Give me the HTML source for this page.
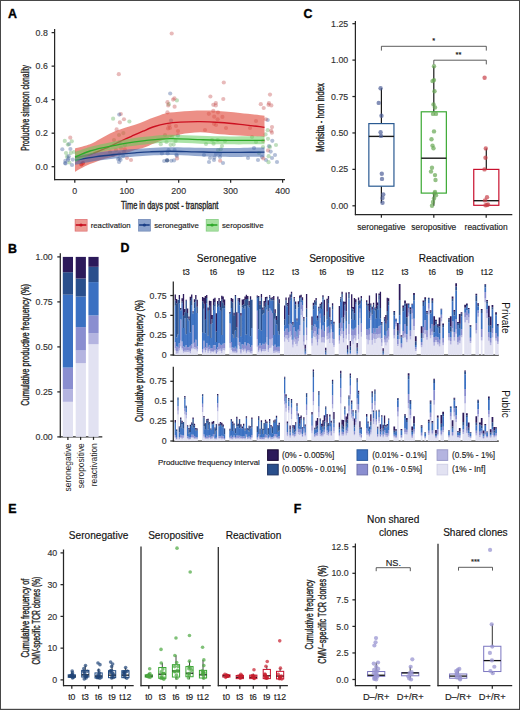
<!DOCTYPE html>
<html><head><meta charset="utf-8"><style>
html,body{margin:0;padding:0;background:#fff;overflow:hidden;}
svg{display:block;font-family:"Liberation Sans", sans-serif;}
</style></head><body>
<svg width="520" height="710" viewBox="0 0 520 710">
<rect width="520" height="710" fill="#fff"/>
<text x="7.90" y="18.30" font-size="12.4" font-weight="bold" fill="#000" stroke="#000" stroke-width="0.35">A</text>
<text x="7.90" y="252.50" font-size="12.4" font-weight="bold" fill="#000" stroke="#000" stroke-width="0.35">B</text>
<text x="303.50" y="18.20" font-size="12.4" font-weight="bold" fill="#000" stroke="#000" stroke-width="0.35">C</text>
<text x="120.60" y="252.20" font-size="12.4" font-weight="bold" fill="#000" stroke="#000" stroke-width="0.35">D</text>
<text x="8.20" y="513.30" font-size="12.4" font-weight="bold" fill="#000" stroke="#000" stroke-width="0.35">E</text>
<text x="293.70" y="513.30" font-size="12.4" font-weight="bold" fill="#000" stroke="#000" stroke-width="0.35">F</text>
<circle cx="171.70" cy="33.50" r="2.1" fill="#c24a4a" fill-opacity="0.38"/>
<circle cx="118.80" cy="74.20" r="2.1" fill="#c24a4a" fill-opacity="0.38"/>
<circle cx="170.20" cy="93.50" r="2.1" fill="#3a5a99" fill-opacity="0.38"/>
<circle cx="173.10" cy="99.60" r="2.1" fill="#c24a4a" fill-opacity="0.38"/>
<circle cx="176.90" cy="100.40" r="2.1" fill="#5aaa55" fill-opacity="0.38"/>
<circle cx="168.80" cy="104.20" r="2.1" fill="#5aaa55" fill-opacity="0.38"/>
<circle cx="174.60" cy="106.70" r="2.1" fill="#c24a4a" fill-opacity="0.38"/>
<circle cx="120.80" cy="114.00" r="2.1" fill="#c24a4a" fill-opacity="0.38"/>
<circle cx="113.10" cy="118.70" r="2.1" fill="#5aaa55" fill-opacity="0.38"/>
<circle cx="129.40" cy="121.50" r="2.1" fill="#5aaa55" fill-opacity="0.38"/>
<circle cx="223.80" cy="82.50" r="2.1" fill="#c24a4a" fill-opacity="0.38"/>
<circle cx="210.40" cy="96.50" r="2.1" fill="#c24a4a" fill-opacity="0.38"/>
<circle cx="223.30" cy="99.00" r="2.1" fill="#c24a4a" fill-opacity="0.38"/>
<circle cx="213.30" cy="104.80" r="2.1" fill="#c24a4a" fill-opacity="0.38"/>
<circle cx="270.00" cy="94.60" r="2.1" fill="#c24a4a" fill-opacity="0.38"/>
<circle cx="260.80" cy="104.20" r="2.1" fill="#c24a4a" fill-opacity="0.38"/>
<circle cx="263.70" cy="108.00" r="2.1" fill="#c24a4a" fill-opacity="0.38"/>
<circle cx="268.50" cy="104.80" r="2.1" fill="#c24a4a" fill-opacity="0.38"/>
<circle cx="267.70" cy="120.00" r="2.1" fill="#3a5a99" fill-opacity="0.38"/>
<circle cx="208.80" cy="113.80" r="2.1" fill="#c24a4a" fill-opacity="0.38"/>
<circle cx="214.20" cy="116.70" r="2.1" fill="#c24a4a" fill-opacity="0.38"/>
<circle cx="218.00" cy="112.30" r="2.1" fill="#c24a4a" fill-opacity="0.38"/>
<circle cx="267.70" cy="130.20" r="2.1" fill="#5aaa55" fill-opacity="0.38"/>
<circle cx="271.90" cy="132.70" r="2.1" fill="#c24a4a" fill-opacity="0.38"/>
<circle cx="268.00" cy="138.80" r="2.1" fill="#5aaa55" fill-opacity="0.38"/>
<circle cx="272.30" cy="140.80" r="2.1" fill="#3a5a99" fill-opacity="0.38"/>
<circle cx="269.00" cy="146.20" r="2.1" fill="#3a5a99" fill-opacity="0.38"/>
<circle cx="268.00" cy="150.40" r="2.1" fill="#c24a4a" fill-opacity="0.38"/>
<circle cx="272.00" cy="158.00" r="2.1" fill="#3a5a99" fill-opacity="0.38"/>
<circle cx="275.00" cy="155.00" r="2.1" fill="#3a5a99" fill-opacity="0.38"/>
<circle cx="262.00" cy="157.00" r="2.1" fill="#3a5a99" fill-opacity="0.38"/>
<circle cx="266.00" cy="160.00" r="2.1" fill="#3a5a99" fill-opacity="0.38"/>
<circle cx="277.00" cy="162.00" r="2.1" fill="#3a5a99" fill-opacity="0.38"/>
<circle cx="259.00" cy="153.00" r="2.1" fill="#5aaa55" fill-opacity="0.38"/>
<circle cx="263.00" cy="147.00" r="2.1" fill="#5aaa55" fill-opacity="0.38"/>
<circle cx="276.00" cy="145.00" r="2.1" fill="#5aaa55" fill-opacity="0.38"/>
<circle cx="167.10" cy="160.40" r="2.1" fill="#1d3a70" fill-opacity="0.7"/>
<circle cx="174.00" cy="160.40" r="2.1" fill="#3a5a99" fill-opacity="0.38"/>
<circle cx="164.20" cy="161.00" r="2.1" fill="#3a5a99" fill-opacity="0.38"/>
<circle cx="161.90" cy="153.50" r="2.1" fill="#3a5a99" fill-opacity="0.38"/>
<circle cx="167.70" cy="153.50" r="2.1" fill="#3a5a99" fill-opacity="0.38"/>
<circle cx="174.60" cy="150.00" r="2.1" fill="#3a5a99" fill-opacity="0.38"/>
<circle cx="176.90" cy="155.80" r="2.1" fill="#3a5a99" fill-opacity="0.38"/>
<circle cx="166.50" cy="142.00" r="2.1" fill="#5aaa55" fill-opacity="0.38"/>
<circle cx="170.60" cy="144.80" r="2.1" fill="#5aaa55" fill-opacity="0.38"/>
<circle cx="160.80" cy="144.20" r="2.1" fill="#5aaa55" fill-opacity="0.38"/>
<circle cx="172.00" cy="137.00" r="2.1" fill="#5aaa55" fill-opacity="0.38"/>
<circle cx="165.00" cy="135.00" r="2.1" fill="#5aaa55" fill-opacity="0.38"/>
<circle cx="178.00" cy="131.00" r="2.1" fill="#c24a4a" fill-opacity="0.38"/>
<circle cx="170.00" cy="128.00" r="2.1" fill="#c24a4a" fill-opacity="0.38"/>
<circle cx="176.00" cy="126.00" r="2.1" fill="#c24a4a" fill-opacity="0.38"/>
<circle cx="69.00" cy="144.20" r="2.1" fill="#3a5a99" fill-opacity="0.38"/>
<circle cx="71.80" cy="141.30" r="2.1" fill="#5aaa55" fill-opacity="0.38"/>
<circle cx="70.40" cy="149.00" r="2.1" fill="#3a5a99" fill-opacity="0.38"/>
<circle cx="67.00" cy="156.70" r="2.1" fill="#5aaa55" fill-opacity="0.38"/>
<circle cx="65.60" cy="163.50" r="2.1" fill="#3a5a99" fill-opacity="0.38"/>
<circle cx="69.40" cy="162.50" r="2.1" fill="#5aaa55" fill-opacity="0.38"/>
<circle cx="72.80" cy="159.60" r="2.1" fill="#3a5a99" fill-opacity="0.38"/>
<circle cx="74.00" cy="152.00" r="2.1" fill="#5aaa55" fill-opacity="0.38"/>
<circle cx="66.00" cy="153.00" r="2.1" fill="#5aaa55" fill-opacity="0.38"/>
<circle cx="72.00" cy="165.00" r="2.1" fill="#3a5a99" fill-opacity="0.38"/>
<circle cx="68.00" cy="160.00" r="2.1" fill="#3a5a99" fill-opacity="0.38"/>
<circle cx="81.40" cy="164.40" r="2.1" fill="#d0101c" fill-opacity="0.7"/>
<circle cx="83.00" cy="163.00" r="2.1" fill="#d0101c" fill-opacity="0.7"/>
<circle cx="78.00" cy="160.00" r="2.1" fill="#c24a4a" fill-opacity="0.38"/>
<circle cx="113.00" cy="155.00" r="2.1" fill="#3a5a99" fill-opacity="0.38"/>
<circle cx="118.00" cy="159.00" r="2.1" fill="#3a5a99" fill-opacity="0.38"/>
<circle cx="116.00" cy="150.00" r="2.1" fill="#5aaa55" fill-opacity="0.38"/>
<circle cx="121.00" cy="148.00" r="2.1" fill="#5aaa55" fill-opacity="0.38"/>
<circle cx="124.00" cy="152.00" r="2.1" fill="#3a5a99" fill-opacity="0.38"/>
<circle cx="127.00" cy="158.00" r="2.1" fill="#c24a4a" fill-opacity="0.38"/>
<circle cx="131.00" cy="160.00" r="2.1" fill="#c24a4a" fill-opacity="0.38"/>
<circle cx="119.00" cy="162.00" r="2.1" fill="#3a5a99" fill-opacity="0.38"/>
<circle cx="110.00" cy="152.00" r="2.1" fill="#5aaa55" fill-opacity="0.38"/>
<circle cx="125.00" cy="145.00" r="2.1" fill="#5aaa55" fill-opacity="0.38"/>
<circle cx="119.00" cy="135.00" r="2.1" fill="#5aaa55" fill-opacity="0.38"/>
<circle cx="114.00" cy="140.00" r="2.1" fill="#5aaa55" fill-opacity="0.38"/>
<circle cx="204.00" cy="155.00" r="2.1" fill="#3a5a99" fill-opacity="0.38"/>
<circle cx="210.00" cy="158.00" r="2.1" fill="#3a5a99" fill-opacity="0.38"/>
<circle cx="214.00" cy="160.00" r="2.1" fill="#3a5a99" fill-opacity="0.38"/>
<circle cx="220.00" cy="157.00" r="2.1" fill="#3a5a99" fill-opacity="0.38"/>
<circle cx="218.00" cy="150.00" r="2.1" fill="#5aaa55" fill-opacity="0.38"/>
<circle cx="222.00" cy="146.00" r="2.1" fill="#5aaa55" fill-opacity="0.38"/>
<circle cx="206.00" cy="144.00" r="2.1" fill="#5aaa55" fill-opacity="0.38"/>
<circle cx="212.00" cy="140.00" r="2.1" fill="#5aaa55" fill-opacity="0.38"/>
<circle cx="225.00" cy="141.00" r="2.1" fill="#5aaa55" fill-opacity="0.38"/>
<circle cx="216.00" cy="125.00" r="2.1" fill="#c24a4a" fill-opacity="0.38"/>
<circle cx="205.00" cy="130.00" r="2.1" fill="#c24a4a" fill-opacity="0.38"/>
<circle cx="226.00" cy="128.00" r="2.1" fill="#c24a4a" fill-opacity="0.38"/>
<circle cx="209.00" cy="162.00" r="2.1" fill="#3a5a99" fill-opacity="0.38"/>
<circle cx="223.00" cy="163.00" r="2.1" fill="#3a5a99" fill-opacity="0.38"/>
<circle cx="216.00" cy="154.00" r="2.1" fill="#3a5a99" fill-opacity="0.38"/>
<circle cx="254.00" cy="148.00" r="2.1" fill="#3a5a99" fill-opacity="0.38"/>
<circle cx="258.00" cy="160.00" r="2.1" fill="#3a5a99" fill-opacity="0.38"/>
<circle cx="248.00" cy="158.00" r="2.1" fill="#3a5a99" fill-opacity="0.38"/>
<circle cx="252.00" cy="137.00" r="2.1" fill="#5aaa55" fill-opacity="0.38"/>
<circle cx="256.00" cy="142.00" r="2.1" fill="#5aaa55" fill-opacity="0.38"/>
<circle cx="250.00" cy="128.00" r="2.1" fill="#c24a4a" fill-opacity="0.38"/>
<circle cx="256.00" cy="121.00" r="2.1" fill="#c24a4a" fill-opacity="0.38"/>
<circle cx="119.24" cy="114.61" r="2.1" fill="#3a5a99" fill-opacity="0.38"/>
<circle cx="123.96" cy="119.23" r="2.1" fill="#c24a4a" fill-opacity="0.38"/>
<circle cx="119.87" cy="122.46" r="2.1" fill="#c24a4a" fill-opacity="0.38"/>
<circle cx="116.65" cy="129.38" r="2.1" fill="#c24a4a" fill-opacity="0.38"/>
<circle cx="123.35" cy="133.08" r="2.1" fill="#5aaa55" fill-opacity="0.38"/>
<circle cx="119.36" cy="142.31" r="2.1" fill="#3a5a99" fill-opacity="0.38"/>
<circle cx="124.82" cy="149.23" r="2.1" fill="#c24a4a" fill-opacity="0.38"/>
<circle cx="119.45" cy="153.84" r="2.1" fill="#3a5a99" fill-opacity="0.38"/>
<circle cx="123.15" cy="156.15" r="2.1" fill="#3a5a99" fill-opacity="0.38"/>
<circle cx="119.51" cy="158.46" r="2.1" fill="#3a5a99" fill-opacity="0.38"/>
<circle cx="120.60" cy="159.84" r="2.1" fill="#3a5a99" fill-opacity="0.38"/>
<circle cx="174.42" cy="98.46" r="2.1" fill="#c24a4a" fill-opacity="0.38"/>
<circle cx="167.49" cy="102.15" r="2.1" fill="#c24a4a" fill-opacity="0.38"/>
<circle cx="168.21" cy="105.38" r="2.1" fill="#c24a4a" fill-opacity="0.38"/>
<circle cx="167.45" cy="112.31" r="2.1" fill="#c24a4a" fill-opacity="0.38"/>
<circle cx="171.03" cy="120.61" r="2.1" fill="#3a5a99" fill-opacity="0.38"/>
<circle cx="169.30" cy="125.23" r="2.1" fill="#c24a4a" fill-opacity="0.38"/>
<circle cx="168.06" cy="128.46" r="2.1" fill="#c24a4a" fill-opacity="0.38"/>
<circle cx="177.96" cy="135.38" r="2.1" fill="#3a5a99" fill-opacity="0.38"/>
<circle cx="175.59" cy="140.92" r="2.1" fill="#5aaa55" fill-opacity="0.38"/>
<circle cx="173.66" cy="144.61" r="2.1" fill="#5aaa55" fill-opacity="0.38"/>
<circle cx="168.59" cy="150.15" r="2.1" fill="#3a5a99" fill-opacity="0.38"/>
<circle cx="176.39" cy="154.77" r="2.1" fill="#3a5a99" fill-opacity="0.38"/>
<circle cx="177.06" cy="158.46" r="2.1" fill="#c24a4a" fill-opacity="0.38"/>
<circle cx="171.27" cy="160.77" r="2.1" fill="#3a5a99" fill-opacity="0.38"/>
<circle cx="215.81" cy="103.08" r="2.1" fill="#c24a4a" fill-opacity="0.38"/>
<circle cx="215.82" cy="105.38" r="2.1" fill="#c24a4a" fill-opacity="0.38"/>
<circle cx="213.30" cy="110.92" r="2.1" fill="#c24a4a" fill-opacity="0.38"/>
<circle cx="222.42" cy="116.92" r="2.1" fill="#c24a4a" fill-opacity="0.38"/>
<circle cx="217.63" cy="119.23" r="2.1" fill="#c24a4a" fill-opacity="0.38"/>
<circle cx="214.00" cy="123.84" r="2.1" fill="#c24a4a" fill-opacity="0.38"/>
<circle cx="217.70" cy="140.00" r="2.1" fill="#5aaa55" fill-opacity="0.38"/>
<circle cx="213.54" cy="143.69" r="2.1" fill="#5aaa55" fill-opacity="0.38"/>
<circle cx="220.77" cy="149.23" r="2.1" fill="#5aaa55" fill-opacity="0.38"/>
<circle cx="219.97" cy="153.84" r="2.1" fill="#3a5a99" fill-opacity="0.38"/>
<circle cx="214.26" cy="157.54" r="2.1" fill="#3a5a99" fill-opacity="0.38"/>
<circle cx="220.14" cy="160.77" r="2.1" fill="#c24a4a" fill-opacity="0.38"/>
<circle cx="268.95" cy="103.08" r="2.1" fill="#c24a4a" fill-opacity="0.38"/>
<circle cx="271.34" cy="105.38" r="2.1" fill="#c24a4a" fill-opacity="0.38"/>
<circle cx="265.89" cy="119.23" r="2.1" fill="#c24a4a" fill-opacity="0.38"/>
<circle cx="272.03" cy="127.08" r="2.1" fill="#c24a4a" fill-opacity="0.38"/>
<circle cx="271.16" cy="130.77" r="2.1" fill="#c24a4a" fill-opacity="0.38"/>
<circle cx="265.54" cy="134.46" r="2.1" fill="#5aaa55" fill-opacity="0.38"/>
<circle cx="263.18" cy="140.92" r="2.1" fill="#c24a4a" fill-opacity="0.38"/>
<circle cx="269.95" cy="146.92" r="2.1" fill="#5aaa55" fill-opacity="0.38"/>
<circle cx="270.65" cy="151.54" r="2.1" fill="#3a5a99" fill-opacity="0.38"/>
<circle cx="268.67" cy="156.15" r="2.1" fill="#5aaa55" fill-opacity="0.38"/>
<circle cx="263.27" cy="158.46" r="2.1" fill="#c24a4a" fill-opacity="0.38"/>
<circle cx="268.53" cy="162.15" r="2.1" fill="#5aaa55" fill-opacity="0.38"/>
<circle cx="70.26" cy="137.69" r="2.1" fill="#c24a4a" fill-opacity="0.38"/>
<circle cx="64.79" cy="140.92" r="2.1" fill="#5aaa55" fill-opacity="0.38"/>
<circle cx="67.82" cy="144.61" r="2.1" fill="#5aaa55" fill-opacity="0.38"/>
<circle cx="62.31" cy="149.23" r="2.1" fill="#3a5a99" fill-opacity="0.38"/>
<circle cx="70.81" cy="152.92" r="2.1" fill="#5aaa55" fill-opacity="0.38"/>
<circle cx="68.66" cy="156.15" r="2.1" fill="#3a5a99" fill-opacity="0.38"/>
<circle cx="68.44" cy="158.46" r="2.1" fill="#3a5a99" fill-opacity="0.38"/>
<circle cx="65.41" cy="160.77" r="2.1" fill="#3a5a99" fill-opacity="0.38"/>
<circle cx="65.06" cy="163.07" r="2.1" fill="#3a5a99" fill-opacity="0.38"/>
<path d="M75.00,148.40 C77.50,147.72 85.83,145.87 90.00,144.30 C94.17,142.73 96.67,140.80 100.00,139.00 C103.33,137.20 106.67,135.08 110.00,133.50 C113.33,131.92 116.67,130.72 120.00,129.50 C123.33,128.28 126.67,127.28 130.00,126.20 C133.33,125.12 136.67,124.23 140.00,123.00 C143.33,121.77 146.67,120.10 150.00,118.80 C153.33,117.50 156.67,116.23 160.00,115.20 C163.33,114.17 165.00,113.32 170.00,112.60 C175.00,111.88 182.50,111.20 190.00,110.90 C197.50,110.60 206.67,110.45 215.00,110.80 C223.33,111.15 231.75,112.18 240.00,113.00 C248.25,113.82 260.42,115.25 264.50,115.70 L264.50,137.00 C260.42,136.75 247.42,135.97 240.00,135.50 C232.58,135.03 226.67,134.73 220.00,134.20 C213.33,133.67 206.67,132.23 200.00,132.30 C193.33,132.37 186.67,133.15 180.00,134.60 C173.33,136.05 165.83,138.90 160.00,141.00 C154.17,143.10 149.17,145.70 145.00,147.20 C140.83,148.70 138.33,148.95 135.00,150.00 C131.67,151.05 128.33,152.47 125.00,153.50 C121.67,154.53 118.33,155.32 115.00,156.20 C111.67,157.08 108.33,157.80 105.00,158.80 C101.67,159.80 98.33,160.97 95.00,162.20 C91.67,163.43 88.33,164.60 85.00,166.20 C81.67,167.80 76.67,170.87 75.00,171.80 Z" fill="#e04a3c" fill-opacity="0.62"/>
<path d="M75.00,157.70 C77.50,157.17 85.00,156.03 90.00,154.50 C95.00,152.97 100.00,150.67 105.00,148.50 C110.00,146.33 115.58,143.53 120.00,141.50 C124.42,139.47 127.67,138.02 131.50,136.30 C135.33,134.58 139.15,132.83 143.00,131.20 C146.85,129.57 150.73,127.75 154.60,126.50 C158.47,125.25 161.97,124.42 166.20,123.70 C170.43,122.98 174.37,122.53 180.00,122.20 C185.63,121.87 193.33,121.65 200.00,121.70 C206.67,121.75 213.33,122.07 220.00,122.50 C226.67,122.93 232.58,123.50 240.00,124.30 C247.42,125.10 260.42,126.80 264.50,127.30" fill="none" stroke="#cc1020" stroke-width="1.35"/>
<path d="M75.00,155.60 C78.33,155.11 88.33,153.52 95.00,152.68 C101.67,151.84 108.33,151.20 115.00,150.59 C121.67,149.98 129.17,149.43 135.00,149.01 C140.83,148.60 144.17,148.39 150.00,148.10 C155.83,147.82 162.50,147.38 170.00,147.30 C177.50,147.22 186.67,147.53 195.00,147.65 C203.33,147.77 212.50,148.00 220.00,148.04 C227.50,148.08 232.58,148.00 240.00,147.89 C247.42,147.78 260.42,147.48 264.50,147.40 L264.50,156.80 C260.42,156.82 247.42,156.92 240.00,156.91 C232.58,156.90 227.50,156.92 220.00,156.76 C212.50,156.60 203.33,156.23 195.00,155.95 C186.67,155.67 177.50,155.18 170.00,155.10 C162.50,155.02 155.83,155.25 150.00,155.50 C144.17,155.75 140.83,156.11 135.00,156.59 C129.17,157.07 121.67,157.69 115.00,158.41 C108.33,159.13 101.67,159.86 95.00,160.92 C88.33,161.99 78.33,164.15 75.00,164.80 Z" fill="#3d62aa" fill-opacity="0.55"/>
<path d="M75.00,160.20 C78.33,159.63 88.33,157.75 95.00,156.80 C101.67,155.85 108.33,155.17 115.00,154.50 C121.67,153.83 129.17,153.25 135.00,152.80 C140.83,152.35 144.17,152.07 150.00,151.80 C155.83,151.53 162.50,151.20 170.00,151.20 C177.50,151.20 186.67,151.60 195.00,151.80 C203.33,152.00 212.50,152.30 220.00,152.40 C227.50,152.50 232.58,152.45 240.00,152.40 C247.42,152.35 260.42,152.15 264.50,152.10" fill="none" stroke="#1b3f86" stroke-width="1.35"/>
<path d="M75.00,152.00 C77.50,151.17 85.00,148.40 90.00,147.00 C95.00,145.60 99.17,144.84 105.00,143.60 C110.83,142.36 118.33,140.73 125.00,139.59 C131.67,138.44 137.50,137.55 145.00,136.74 C152.50,135.92 160.83,134.85 170.00,134.68 C179.17,134.52 190.00,135.47 200.00,135.76 C210.00,136.05 219.25,136.34 230.00,136.43 C240.75,136.52 258.75,136.32 264.50,136.30 L264.50,144.30 C258.75,144.31 240.75,144.48 230.00,144.37 C219.25,144.26 210.00,143.95 200.00,143.64 C190.00,143.33 179.17,142.38 170.00,142.52 C160.83,142.65 152.50,143.71 145.00,144.46 C137.50,145.21 131.67,145.92 125.00,147.01 C118.33,148.10 110.83,149.67 105.00,151.00 C99.17,152.33 95.00,153.17 90.00,155.00 C85.00,156.83 77.50,160.83 75.00,162.00 Z" fill="#66cc5c" fill-opacity="0.55"/>
<path d="M75.00,157.00 C77.50,156.00 85.00,152.62 90.00,151.00 C95.00,149.38 99.17,148.58 105.00,147.30 C110.83,146.02 118.33,144.42 125.00,143.30 C131.67,142.18 137.50,141.38 145.00,140.60 C152.50,139.82 160.83,138.75 170.00,138.60 C179.17,138.45 190.00,139.40 200.00,139.70 C210.00,140.00 219.25,140.30 230.00,140.40 C240.75,140.50 258.75,140.32 264.50,140.30" fill="none" stroke="#2eaa2a" stroke-width="1.35"/>
<line x1="54.60" y1="29.00" x2="54.60" y2="180.20" stroke="#262626" stroke-width="1.25" />
<line x1="54.10" y1="179.70" x2="285.00" y2="179.70" stroke="#262626" stroke-width="1.25" />
<line x1="51.60" y1="166.70" x2="54.60" y2="166.70" stroke="#262626" stroke-width="1.25" />
<text x="47.80" y="169.80" font-size="8.8" text-anchor="end" fill="#333" font-weight="normal" stroke="#333" stroke-width="0.15" >0.0</text>
<line x1="51.60" y1="133.18" x2="54.60" y2="133.18" stroke="#262626" stroke-width="1.25" />
<text x="47.80" y="136.28" font-size="8.8" text-anchor="end" fill="#333" font-weight="normal" stroke="#333" stroke-width="0.15" >0.2</text>
<line x1="51.60" y1="99.66" x2="54.60" y2="99.66" stroke="#262626" stroke-width="1.25" />
<text x="47.80" y="102.76" font-size="8.8" text-anchor="end" fill="#333" font-weight="normal" stroke="#333" stroke-width="0.15" >0.4</text>
<line x1="51.60" y1="66.14" x2="54.60" y2="66.14" stroke="#262626" stroke-width="1.25" />
<text x="47.80" y="69.24" font-size="8.8" text-anchor="end" fill="#333" font-weight="normal" stroke="#333" stroke-width="0.15" >0.6</text>
<line x1="51.60" y1="32.62" x2="54.60" y2="32.62" stroke="#262626" stroke-width="1.25" />
<text x="47.80" y="35.72" font-size="8.8" text-anchor="end" fill="#333" font-weight="normal" stroke="#333" stroke-width="0.15" >0.8</text>
<line x1="74.80" y1="179.70" x2="74.80" y2="182.70" stroke="#262626" stroke-width="1.25" />
<text x="74.80" y="193.70" font-size="8.8" text-anchor="middle" fill="#333" font-weight="normal" stroke="#333" stroke-width="0.15" >0</text>
<line x1="126.75" y1="179.70" x2="126.75" y2="182.70" stroke="#262626" stroke-width="1.25" />
<text x="126.75" y="193.70" font-size="8.8" text-anchor="middle" fill="#333" font-weight="normal" stroke="#333" stroke-width="0.15" >100</text>
<line x1="178.70" y1="179.70" x2="178.70" y2="182.70" stroke="#262626" stroke-width="1.25" />
<text x="178.70" y="193.70" font-size="8.8" text-anchor="middle" fill="#333" font-weight="normal" stroke="#333" stroke-width="0.15" >200</text>
<line x1="230.65" y1="179.70" x2="230.65" y2="182.70" stroke="#262626" stroke-width="1.25" />
<text x="230.65" y="193.70" font-size="8.8" text-anchor="middle" fill="#333" font-weight="normal" stroke="#333" stroke-width="0.15" >300</text>
<line x1="282.60" y1="179.70" x2="282.60" y2="182.70" stroke="#262626" stroke-width="1.25" />
<text x="282.60" y="193.70" font-size="8.8" text-anchor="middle" fill="#333" font-weight="normal" stroke="#333" stroke-width="0.15" >400</text>
<text x="169.70" y="208.80" font-size="10.30" font-weight="normal" stroke="#262626" stroke-width="0.38" text-anchor="middle" fill="#262626" textLength="97.4" lengthAdjust="spacingAndGlyphs">Time in days post - transplant</text>
<text transform="translate(29.40,107.90) rotate(-90)" x="0" y="0" font-size="10.08" font-weight="normal" stroke="#262626" stroke-width="0.38" text-anchor="middle" fill="#262626" textLength="85.7" lengthAdjust="spacingAndGlyphs">Productive simpson clonality</text>
<rect x="75.00" y="219.30" width="12.20" height="11.90" fill="#e05a4c" stroke="#c8101e" stroke-width="0.6" fill-opacity="0.6" stroke-opacity="0.5"/>
<line x1="75.70" y1="225.00" x2="86.30" y2="225.00" stroke="#c8101e" stroke-width="1.6" />
<circle cx="81.00" cy="225.00" r="1.6" fill="#c8101e" fill-opacity="1.0"/>
<text x="90.70" y="227.80" font-size="7.8" text-anchor="start" fill="#222" font-weight="normal" stroke="#222" stroke-width="0.15" >reactivation</text>
<rect x="138.40" y="219.30" width="12.20" height="11.90" fill="#3f66aa" stroke="#1b3f86" stroke-width="0.6" fill-opacity="0.6" stroke-opacity="0.5"/>
<line x1="139.10" y1="225.00" x2="149.70" y2="225.00" stroke="#1b3f86" stroke-width="1.6" />
<circle cx="144.40" cy="225.00" r="1.6" fill="#1b3f86" fill-opacity="1.0"/>
<text x="154.20" y="227.80" font-size="7.8" text-anchor="start" fill="#222" font-weight="normal" stroke="#222" stroke-width="0.15" >seronegative</text>
<rect x="206.10" y="219.30" width="12.20" height="11.90" fill="#6ccc62" stroke="#2ea82a" stroke-width="0.6" fill-opacity="0.6" stroke-opacity="0.5"/>
<line x1="206.80" y1="225.00" x2="217.40" y2="225.00" stroke="#2ea82a" stroke-width="1.6" />
<circle cx="212.10" cy="225.00" r="1.6" fill="#2ea82a" fill-opacity="1.0"/>
<text x="221.90" y="227.80" font-size="7.8" text-anchor="start" fill="#222" font-weight="normal" stroke="#222" stroke-width="0.15" >seropositive</text>
<line x1="355.40" y1="21.00" x2="355.40" y2="215.20" stroke="#262626" stroke-width="1.25" />
<line x1="354.90" y1="214.70" x2="512.30" y2="214.70" stroke="#262626" stroke-width="1.25" />
<line x1="352.40" y1="205.80" x2="355.40" y2="205.80" stroke="#262626" stroke-width="1.25" />
<text x="348.20" y="208.90" font-size="8.8" text-anchor="end" fill="#333" font-weight="normal" stroke="#333" stroke-width="0.15" >0.00</text>
<line x1="352.40" y1="169.38" x2="355.40" y2="169.38" stroke="#262626" stroke-width="1.25" />
<text x="348.20" y="172.47" font-size="8.8" text-anchor="end" fill="#333" font-weight="normal" stroke="#333" stroke-width="0.15" >0.25</text>
<line x1="352.40" y1="132.95" x2="355.40" y2="132.95" stroke="#262626" stroke-width="1.25" />
<text x="348.20" y="136.05" font-size="8.8" text-anchor="end" fill="#333" font-weight="normal" stroke="#333" stroke-width="0.15" >0.50</text>
<line x1="352.40" y1="96.53" x2="355.40" y2="96.53" stroke="#262626" stroke-width="1.25" />
<text x="348.20" y="99.63" font-size="8.8" text-anchor="end" fill="#333" font-weight="normal" stroke="#333" stroke-width="0.15" >0.75</text>
<line x1="352.40" y1="60.10" x2="355.40" y2="60.10" stroke="#262626" stroke-width="1.25" />
<text x="348.20" y="63.20" font-size="8.8" text-anchor="end" fill="#333" font-weight="normal" stroke="#333" stroke-width="0.15" >1.00</text>
<line x1="352.40" y1="23.68" x2="355.40" y2="23.68" stroke="#262626" stroke-width="1.25" />
<text x="348.20" y="26.78" font-size="8.8" text-anchor="end" fill="#333" font-weight="normal" stroke="#333" stroke-width="0.15" >1.25</text>
<line x1="381.40" y1="214.70" x2="381.40" y2="217.70" stroke="#262626" stroke-width="1.25" />
<text x="381.40" y="229.80" font-size="8.45" text-anchor="middle" fill="#222" font-weight="normal" stroke="#222" stroke-width="0.15" >seronegative</text>
<line x1="433.80" y1="214.70" x2="433.80" y2="217.70" stroke="#262626" stroke-width="1.25" />
<text x="433.80" y="229.80" font-size="8.45" text-anchor="middle" fill="#222" font-weight="normal" stroke="#222" stroke-width="0.15" >seropositive</text>
<line x1="486.20" y1="214.70" x2="486.20" y2="217.70" stroke="#262626" stroke-width="1.25" />
<text x="486.20" y="229.80" font-size="8.45" text-anchor="middle" fill="#222" font-weight="normal" stroke="#222" stroke-width="0.15" >reactivation</text>
<text transform="translate(324.40,117.50) rotate(-90)" x="0" y="0" font-size="10.08" font-weight="normal" stroke="#262626" stroke-width="0.38" text-anchor="middle" fill="#262626" textLength="68.4" lengthAdjust="spacingAndGlyphs">Morisita - horn index</text>
<line x1="381.40" y1="123.60" x2="381.40" y2="88.20" stroke="#1a1a1a" stroke-width="1.2" />
<line x1="381.40" y1="186.20" x2="381.40" y2="202.70" stroke="#1a1a1a" stroke-width="1.2" />
<rect x="368.85" y="123.60" width="25.10" height="62.60" fill="white" stroke="#2a5a92" stroke-width="1.2" />
<line x1="368.85" y1="136.40" x2="393.95" y2="136.40" stroke="#1a1a1a" stroke-width="1.4" />
<line x1="433.80" y1="111.80" x2="433.80" y2="66.30" stroke="#1a1a1a" stroke-width="1.2" />
<line x1="433.80" y1="193.10" x2="433.80" y2="205.80" stroke="#1a1a1a" stroke-width="1.2" />
<rect x="421.25" y="111.80" width="25.10" height="81.30" fill="white" stroke="#3aa832" stroke-width="1.2" />
<line x1="421.25" y1="158.20" x2="446.35" y2="158.20" stroke="#1a1a1a" stroke-width="1.4" />
<line x1="486.30" y1="169.40" x2="486.30" y2="148.40" stroke="#1a1a1a" stroke-width="1.2" />
<line x1="486.30" y1="205.30" x2="486.30" y2="205.80" stroke="#1a1a1a" stroke-width="1.2" />
<rect x="473.75" y="169.40" width="25.10" height="35.90" fill="white" stroke="#c8102e" stroke-width="1.2" />
<line x1="473.75" y1="200.70" x2="498.85" y2="200.70" stroke="#1a1a1a" stroke-width="1.4" />
<circle cx="380.60" cy="88.20" r="2.2" fill="#4f5f98" fill-opacity="0.7"/>
<circle cx="378.70" cy="102.90" r="2.2" fill="#4f5f98" fill-opacity="0.7"/>
<circle cx="381.50" cy="115.70" r="2.2" fill="#4f5f98" fill-opacity="0.7"/>
<circle cx="380.60" cy="132.20" r="2.2" fill="#4f5f98" fill-opacity="0.7"/>
<circle cx="381.00" cy="135.90" r="2.2" fill="#4f5f98" fill-opacity="0.7"/>
<circle cx="381.80" cy="173.80" r="2.2" fill="#4f5f98" fill-opacity="0.7"/>
<circle cx="382.00" cy="178.90" r="2.2" fill="#4f5f98" fill-opacity="0.7"/>
<circle cx="383.30" cy="194.50" r="2.2" fill="#4f5f98" fill-opacity="0.7"/>
<circle cx="382.50" cy="198.10" r="2.2" fill="#4f5f98" fill-opacity="0.7"/>
<circle cx="382.50" cy="202.70" r="2.2" fill="#4f5f98" fill-opacity="0.7"/>
<circle cx="434.00" cy="66.30" r="2.2" fill="#66a653" fill-opacity="0.7"/>
<circle cx="434.00" cy="80.10" r="2.2" fill="#66a653" fill-opacity="0.7"/>
<circle cx="432.50" cy="81.10" r="2.2" fill="#66a653" fill-opacity="0.7"/>
<circle cx="434.50" cy="91.30" r="2.2" fill="#66a653" fill-opacity="0.7"/>
<circle cx="433.50" cy="104.40" r="2.2" fill="#66a653" fill-opacity="0.7"/>
<circle cx="435.00" cy="107.50" r="2.2" fill="#66a653" fill-opacity="0.7"/>
<circle cx="433.00" cy="113.90" r="2.2" fill="#66a653" fill-opacity="0.7"/>
<circle cx="436.00" cy="113.90" r="2.2" fill="#66a653" fill-opacity="0.7"/>
<circle cx="434.00" cy="131.40" r="2.2" fill="#66a653" fill-opacity="0.7"/>
<circle cx="431.50" cy="139.20" r="2.2" fill="#66a653" fill-opacity="0.7"/>
<circle cx="432.50" cy="145.60" r="2.2" fill="#66a653" fill-opacity="0.7"/>
<circle cx="433.50" cy="148.30" r="2.2" fill="#66a653" fill-opacity="0.7"/>
<circle cx="432.00" cy="167.80" r="2.2" fill="#66a653" fill-opacity="0.7"/>
<circle cx="431.00" cy="171.60" r="2.2" fill="#66a653" fill-opacity="0.7"/>
<circle cx="435.00" cy="175.10" r="2.2" fill="#66a653" fill-opacity="0.7"/>
<circle cx="435.50" cy="180.00" r="2.2" fill="#66a653" fill-opacity="0.7"/>
<circle cx="435.00" cy="192.00" r="2.2" fill="#66a653" fill-opacity="0.7"/>
<circle cx="436.00" cy="195.20" r="2.2" fill="#66a653" fill-opacity="0.7"/>
<circle cx="434.00" cy="198.40" r="2.2" fill="#66a653" fill-opacity="0.7"/>
<circle cx="433.00" cy="202.00" r="2.2" fill="#66a653" fill-opacity="0.7"/>
<circle cx="432.00" cy="205.80" r="2.2" fill="#66a653" fill-opacity="0.7"/>
<circle cx="434.50" cy="193.50" r="2.2" fill="#66a653" fill-opacity="0.7"/>
<circle cx="484.60" cy="77.80" r="2.2" fill="#c84048" fill-opacity="0.7"/>
<circle cx="485.80" cy="148.40" r="2.2" fill="#c84048" fill-opacity="0.7"/>
<circle cx="485.50" cy="157.80" r="2.2" fill="#c84048" fill-opacity="0.7"/>
<circle cx="484.50" cy="169.40" r="2.2" fill="#c84048" fill-opacity="0.7"/>
<circle cx="487.00" cy="197.20" r="2.2" fill="#c84048" fill-opacity="0.7"/>
<circle cx="485.00" cy="200.40" r="2.2" fill="#c84048" fill-opacity="0.7"/>
<circle cx="487.00" cy="205.10" r="2.2" fill="#c84048" fill-opacity="0.7"/>
<circle cx="485.50" cy="205.30" r="2.2" fill="#c84048" fill-opacity="0.7"/>
<circle cx="488.00" cy="204.50" r="2.2" fill="#c84048" fill-opacity="0.7"/>
<line x1="381.40" y1="46.30" x2="486.30" y2="46.30" stroke="#333" stroke-width="0.8" />
<line x1="381.40" y1="46.30" x2="381.40" y2="50.60" stroke="#333" stroke-width="0.8" />
<line x1="486.30" y1="46.30" x2="486.30" y2="50.60" stroke="#333" stroke-width="0.8" />
<line x1="433.80" y1="60.20" x2="486.30" y2="60.20" stroke="#333" stroke-width="0.8" />
<line x1="433.80" y1="60.20" x2="433.80" y2="64.40" stroke="#333" stroke-width="0.8" />
<line x1="486.30" y1="60.20" x2="486.30" y2="64.40" stroke="#333" stroke-width="0.8" />
<text x="433.80" y="43.20" font-size="7.5" text-anchor="middle" fill="#111" font-weight="normal" stroke="#111" stroke-width="0.15" >*</text>
<text x="458.40" y="56.60" font-size="7.5" text-anchor="middle" fill="#111" font-weight="normal" stroke="#111" stroke-width="0.15" >**</text>
<line x1="60.30" y1="253.20" x2="60.30" y2="437.40" stroke="#262626" stroke-width="1.25" />
<line x1="59.80" y1="436.90" x2="102.30" y2="436.90" stroke="#262626" stroke-width="1.25" />
<line x1="57.30" y1="436.90" x2="60.30" y2="436.90" stroke="#262626" stroke-width="1.25" />
<text x="52.70" y="440.00" font-size="8.8" text-anchor="end" fill="#333" font-weight="normal" stroke="#333" stroke-width="0.15" >0.00</text>
<line x1="57.30" y1="391.90" x2="60.30" y2="391.90" stroke="#262626" stroke-width="1.25" />
<text x="52.70" y="395.00" font-size="8.8" text-anchor="end" fill="#333" font-weight="normal" stroke="#333" stroke-width="0.15" >0.25</text>
<line x1="57.30" y1="346.90" x2="60.30" y2="346.90" stroke="#262626" stroke-width="1.25" />
<text x="52.70" y="350.00" font-size="8.8" text-anchor="end" fill="#333" font-weight="normal" stroke="#333" stroke-width="0.15" >0.50</text>
<line x1="57.30" y1="301.90" x2="60.30" y2="301.90" stroke="#262626" stroke-width="1.25" />
<text x="52.70" y="305.00" font-size="8.8" text-anchor="end" fill="#333" font-weight="normal" stroke="#333" stroke-width="0.15" >0.75</text>
<line x1="57.30" y1="256.90" x2="60.30" y2="256.90" stroke="#262626" stroke-width="1.25" />
<text x="52.70" y="260.00" font-size="8.8" text-anchor="end" fill="#333" font-weight="normal" stroke="#333" stroke-width="0.15" >1.00</text>
<rect x="62.80" y="401.80" width="10.20" height="35.10" fill="#e2e2f2" stroke="none" stroke-width="0" />
<rect x="62.80" y="389.20" width="10.20" height="12.60" fill="#b4b4e0" stroke="none" stroke-width="0" />
<rect x="62.80" y="367.60" width="10.20" height="21.60" fill="#8a8ed0" stroke="none" stroke-width="0" />
<rect x="62.80" y="294.70" width="10.20" height="72.90" fill="#3a70c2" stroke="none" stroke-width="0" />
<rect x="62.80" y="272.20" width="10.20" height="22.50" fill="#2a4f8c" stroke="none" stroke-width="0" />
<rect x="62.80" y="256.90" width="10.20" height="15.30" fill="#2c1a5a" stroke="none" stroke-width="0" />
<rect x="75.70" y="363.10" width="10.20" height="73.80" fill="#e2e2f2" stroke="none" stroke-width="0" />
<rect x="75.70" y="350.50" width="10.20" height="12.60" fill="#b4b4e0" stroke="none" stroke-width="0" />
<rect x="75.70" y="327.10" width="10.20" height="23.40" fill="#8a8ed0" stroke="none" stroke-width="0" />
<rect x="75.70" y="296.50" width="10.20" height="30.60" fill="#3a70c2" stroke="none" stroke-width="0" />
<rect x="75.70" y="278.50" width="10.20" height="18.00" fill="#2a4f8c" stroke="none" stroke-width="0" />
<rect x="75.70" y="256.90" width="10.20" height="21.60" fill="#2c1a5a" stroke="none" stroke-width="0" />
<rect x="88.40" y="344.20" width="10.20" height="92.70" fill="#e2e2f2" stroke="none" stroke-width="0" />
<rect x="88.40" y="333.40" width="10.20" height="10.80" fill="#b4b4e0" stroke="none" stroke-width="0" />
<rect x="88.40" y="315.40" width="10.20" height="18.00" fill="#8a8ed0" stroke="none" stroke-width="0" />
<rect x="88.40" y="282.10" width="10.20" height="33.30" fill="#3a70c2" stroke="none" stroke-width="0" />
<rect x="88.40" y="266.80" width="10.20" height="15.30" fill="#2a4f8c" stroke="none" stroke-width="0" />
<rect x="88.40" y="256.90" width="10.20" height="9.90" fill="#2c1a5a" stroke="none" stroke-width="0" />
<line x1="67.90" y1="436.90" x2="67.90" y2="439.90" stroke="#262626" stroke-width="1.25" />
<text transform="translate(70.90,443.2) rotate(-90)" font-size="8.45" text-anchor="end" fill="#222">seronegative</text>
<line x1="80.60" y1="436.90" x2="80.60" y2="439.90" stroke="#262626" stroke-width="1.25" />
<text transform="translate(83.60,443.2) rotate(-90)" font-size="8.45" text-anchor="end" fill="#222">seropositive</text>
<line x1="93.50" y1="436.90" x2="93.50" y2="439.90" stroke="#262626" stroke-width="1.25" />
<text transform="translate(96.50,443.2) rotate(-90)" font-size="8.45" text-anchor="end" fill="#222">reactivation</text>
<text transform="translate(29.20,344.90) rotate(-90)" x="0" y="0" font-size="10.08" font-weight="normal" stroke="#262626" stroke-width="0.38" text-anchor="middle" fill="#262626" textLength="121.7" lengthAdjust="spacingAndGlyphs">Cumulative productive frequency (%)</text>
<line x1="173.30" y1="281.40" x2="173.30" y2="355.50" stroke="#262626" stroke-width="1.25" />
<line x1="172.80" y1="355.00" x2="498.80" y2="355.00" stroke="#262626" stroke-width="1.25" />
<line x1="173.30" y1="366.70" x2="173.30" y2="441.50" stroke="#262626" stroke-width="1.25" />
<line x1="172.80" y1="441.00" x2="498.80" y2="441.00" stroke="#262626" stroke-width="1.25" />
<line x1="170.30" y1="355.00" x2="173.30" y2="355.00" stroke="#262626" stroke-width="1.25" />
<text x="166.70" y="358.10" font-size="8.8" text-anchor="end" fill="#333" font-weight="normal" stroke="#333" stroke-width="0.15" >0</text>
<line x1="170.30" y1="335.18" x2="173.30" y2="335.18" stroke="#262626" stroke-width="1.25" />
<text x="166.70" y="338.28" font-size="8.8" text-anchor="end" fill="#333" font-weight="normal" stroke="#333" stroke-width="0.15" >0.25</text>
<line x1="170.30" y1="315.35" x2="173.30" y2="315.35" stroke="#262626" stroke-width="1.25" />
<text x="166.70" y="318.45" font-size="8.8" text-anchor="end" fill="#333" font-weight="normal" stroke="#333" stroke-width="0.15" >0.5</text>
<line x1="170.30" y1="295.52" x2="173.30" y2="295.52" stroke="#262626" stroke-width="1.25" />
<text x="166.70" y="298.62" font-size="8.8" text-anchor="end" fill="#333" font-weight="normal" stroke="#333" stroke-width="0.15" >0.75</text>
<line x1="170.30" y1="441.00" x2="173.30" y2="441.00" stroke="#262626" stroke-width="1.25" />
<text x="166.70" y="444.10" font-size="8.8" text-anchor="end" fill="#333" font-weight="normal" stroke="#333" stroke-width="0.15" >0</text>
<line x1="170.30" y1="421.10" x2="173.30" y2="421.10" stroke="#262626" stroke-width="1.25" />
<text x="166.70" y="424.20" font-size="8.8" text-anchor="end" fill="#333" font-weight="normal" stroke="#333" stroke-width="0.15" >0.25</text>
<line x1="170.30" y1="401.20" x2="173.30" y2="401.20" stroke="#262626" stroke-width="1.25" />
<text x="166.70" y="404.30" font-size="8.8" text-anchor="end" fill="#333" font-weight="normal" stroke="#333" stroke-width="0.15" >0.5</text>
<line x1="170.30" y1="381.30" x2="173.30" y2="381.30" stroke="#262626" stroke-width="1.25" />
<text x="166.70" y="384.40" font-size="8.8" text-anchor="end" fill="#333" font-weight="normal" stroke="#333" stroke-width="0.15" >0.75</text>
<text transform="translate(142.60,361.00) rotate(-90)" x="0" y="0" font-size="10.08" font-weight="normal" stroke="#262626" stroke-width="0.38" text-anchor="middle" fill="#262626" textLength="122" lengthAdjust="spacingAndGlyphs">Cumulative productive frequency (%)</text>
<text x="226.60" y="261.80" font-size="10.1" text-anchor="middle" fill="#111" font-weight="normal" stroke="#111" stroke-width="0.15" >Seronegative</text>
<text x="336.90" y="261.80" font-size="10.1" text-anchor="middle" fill="#111" font-weight="normal" stroke="#111" stroke-width="0.15" >Seropositive</text>
<text x="446.40" y="261.80" font-size="10.1" text-anchor="middle" fill="#111" font-weight="normal" stroke="#111" stroke-width="0.15" >Reactivation</text>
<text x="186.25" y="275.30" font-size="8.6" text-anchor="middle" fill="#222" font-weight="normal" stroke="#222" stroke-width="0.15" >t3</text>
<text x="213.60" y="275.30" font-size="8.6" text-anchor="middle" fill="#222" font-weight="normal" stroke="#222" stroke-width="0.15" >t6</text>
<text x="240.95" y="275.30" font-size="8.6" text-anchor="middle" fill="#222" font-weight="normal" stroke="#222" stroke-width="0.15" >t9</text>
<text x="268.30" y="275.30" font-size="8.6" text-anchor="middle" fill="#222" font-weight="normal" stroke="#222" stroke-width="0.15" >t12</text>
<text x="295.65" y="275.30" font-size="8.6" text-anchor="middle" fill="#222" font-weight="normal" stroke="#222" stroke-width="0.15" >t3</text>
<text x="323.00" y="275.30" font-size="8.6" text-anchor="middle" fill="#222" font-weight="normal" stroke="#222" stroke-width="0.15" >t6</text>
<text x="350.35" y="275.30" font-size="8.6" text-anchor="middle" fill="#222" font-weight="normal" stroke="#222" stroke-width="0.15" >t9</text>
<text x="377.70" y="275.30" font-size="8.6" text-anchor="middle" fill="#222" font-weight="normal" stroke="#222" stroke-width="0.15" >t12</text>
<text x="405.05" y="275.30" font-size="8.6" text-anchor="middle" fill="#222" font-weight="normal" stroke="#222" stroke-width="0.15" >t3</text>
<text x="432.40" y="275.30" font-size="8.6" text-anchor="middle" fill="#222" font-weight="normal" stroke="#222" stroke-width="0.15" >t6</text>
<text x="459.75" y="275.30" font-size="8.6" text-anchor="middle" fill="#222" font-weight="normal" stroke="#222" stroke-width="0.15" >t9</text>
<text x="487.10" y="275.30" font-size="8.6" text-anchor="middle" fill="#222" font-weight="normal" stroke="#222" stroke-width="0.15" >t12</text>
<text transform="translate(502.2,318.0) rotate(90)" font-size="10.1" text-anchor="middle" fill="#111">Private</text>
<text transform="translate(502.2,404.0) rotate(90)" font-size="10.1" text-anchor="middle" fill="#111">Public</text>
<path fill="#e2e2f2" d="M174.60 350.39h1.33v4.61h-1.33zM175.97 353.70h1.33v1.30h-1.33zM177.34 353.56h1.33v1.44h-1.33zM178.71 350.53h1.33v4.47h-1.33zM180.08 346.44h1.33v8.56h-1.33zM181.45 349.80h1.33v5.20h-1.33zM182.82 352.79h1.33v2.21h-1.33zM184.19 352.29h1.33v2.71h-1.33zM185.56 352.26h1.33v2.74h-1.33zM186.94 352.11h1.33v2.89h-1.33zM188.31 352.35h1.33v2.65h-1.33zM189.68 353.16h1.33v1.84h-1.33zM191.05 349.60h1.33v5.40h-1.33zM192.42 348.43h1.33v6.57h-1.33zM193.79 349.25h1.33v5.75h-1.33zM195.16 349.58h1.33v5.42h-1.33zM196.53 351.41h1.33v3.59h-1.33zM201.95 353.63h1.33v1.37h-1.33zM203.32 349.79h1.33v5.21h-1.33zM204.69 352.58h1.33v2.42h-1.33zM206.06 350.20h1.33v4.80h-1.33zM207.43 352.97h1.33v2.03h-1.33zM208.80 350.78h1.33v4.22h-1.33zM210.17 353.32h1.33v1.68h-1.33zM211.54 352.00h1.33v3.00h-1.33zM212.91 352.46h1.33v2.54h-1.33zM214.29 351.51h1.33v3.49h-1.33zM215.66 353.95h1.33v1.05h-1.33zM217.03 352.10h1.33v2.90h-1.33zM218.40 350.80h1.33v4.20h-1.33zM219.77 350.79h1.33v4.21h-1.33zM221.14 353.06h1.33v1.94h-1.33zM222.51 350.00h1.33v5.00h-1.33zM223.88 350.47h1.33v4.53h-1.33zM229.30 347.83h1.33v7.17h-1.33zM230.67 350.08h1.33v4.92h-1.33zM232.04 352.51h1.33v2.49h-1.33zM233.41 352.77h1.33v2.23h-1.33zM234.78 352.83h1.33v2.17h-1.33zM236.15 353.17h1.33v1.83h-1.33zM237.52 345.04h1.33v9.96h-1.33zM238.89 348.95h1.33v6.05h-1.33zM240.26 353.70h1.33v1.30h-1.33zM241.64 350.22h1.33v4.78h-1.33zM243.01 351.75h1.33v3.25h-1.33zM244.38 350.45h1.33v4.55h-1.33zM245.75 353.23h1.33v1.77h-1.33zM247.12 351.43h1.33v3.57h-1.33zM248.49 352.23h1.33v2.77h-1.33zM249.86 353.20h1.33v1.80h-1.33zM251.23 353.43h1.33v1.57h-1.33zM256.65 346.71h1.33v8.29h-1.33zM258.02 352.14h1.33v2.86h-1.33zM259.39 350.23h1.33v4.77h-1.33zM260.76 352.46h1.33v2.54h-1.33zM262.13 350.88h1.33v4.12h-1.33zM263.50 351.49h1.33v3.51h-1.33zM264.87 350.99h1.33v4.01h-1.33zM266.24 344.12h1.33v10.88h-1.33zM267.61 351.95h1.33v3.05h-1.33zM268.99 348.00h1.33v7.00h-1.33zM270.36 347.63h1.33v7.37h-1.33zM271.73 345.52h1.33v9.48h-1.33zM273.10 352.89h1.33v2.11h-1.33zM274.47 352.81h1.33v2.19h-1.33zM275.84 352.29h1.33v2.71h-1.33zM277.21 352.70h1.33v2.30h-1.33zM278.58 353.03h1.33v1.97h-1.33zM284.00 341.72h1.33v13.28h-1.33zM285.37 338.51h1.33v16.49h-1.33zM286.74 339.71h1.33v15.29h-1.33zM288.11 342.06h1.33v12.94h-1.33zM289.48 336.67h1.33v18.33h-1.33zM290.85 339.77h1.33v15.23h-1.33zM292.22 347.58h1.33v7.42h-1.33zM293.59 341.74h1.33v13.26h-1.33zM294.96 343.94h1.33v11.06h-1.33zM296.34 346.19h1.33v8.81h-1.33zM297.71 341.31h1.33v13.69h-1.33zM299.08 334.93h1.33v20.07h-1.33zM300.45 314.89h1.33v40.11h-1.33zM301.82 317.03h1.33v37.97h-1.33zM303.19 345.55h1.33v9.45h-1.33zM304.56 354.50h1.33v0.50h-1.33zM305.93 340.15h1.33v14.85h-1.33zM311.35 345.69h1.33v9.31h-1.33zM312.72 336.46h1.33v18.54h-1.33zM314.09 336.96h1.33v18.04h-1.33zM315.46 339.56h1.33v15.44h-1.33zM316.83 345.62h1.33v9.38h-1.33zM318.20 339.19h1.33v15.81h-1.33zM319.57 322.75h1.33v32.25h-1.33zM320.94 342.53h1.33v12.47h-1.33zM322.31 342.60h1.33v12.40h-1.33zM323.69 342.71h1.33v12.29h-1.33zM325.06 354.65h1.33v0.35h-1.33zM326.43 339.67h1.33v15.33h-1.33zM327.80 338.89h1.33v16.11h-1.33zM329.17 342.90h1.33v12.10h-1.33zM330.54 329.14h1.33v25.86h-1.33zM331.91 343.23h1.33v11.77h-1.33zM333.28 347.10h1.33v7.90h-1.33zM338.70 343.78h1.33v11.22h-1.33zM340.07 336.29h1.33v18.71h-1.33zM341.44 333.87h1.33v21.13h-1.33zM342.81 342.48h1.33v12.52h-1.33zM344.18 318.76h1.33v36.24h-1.33zM345.55 338.78h1.33v16.22h-1.33zM346.92 354.52h1.33v0.48h-1.33zM348.29 340.44h1.33v14.56h-1.33zM349.66 354.31h1.33v0.69h-1.33zM351.04 341.17h1.33v13.83h-1.33zM352.41 344.27h1.33v10.73h-1.33zM353.78 338.37h1.33v16.63h-1.33zM355.15 340.57h1.33v14.43h-1.33zM356.52 354.41h1.33v0.59h-1.33zM357.89 339.04h1.33v15.96h-1.33zM359.26 317.94h1.33v37.06h-1.33zM360.63 336.83h1.33v18.17h-1.33zM366.05 339.17h1.33v15.83h-1.33zM367.42 344.52h1.33v10.48h-1.33zM368.79 340.18h1.33v14.82h-1.33zM370.16 319.90h1.33v35.10h-1.33zM371.53 344.70h1.33v10.30h-1.33zM372.90 338.50h1.33v16.50h-1.33zM374.27 343.12h1.33v11.88h-1.33zM375.64 339.00h1.33v16.00h-1.33zM377.01 338.04h1.33v16.96h-1.33zM378.39 337.69h1.33v17.31h-1.33zM379.76 338.84h1.33v16.16h-1.33zM381.13 346.00h1.33v9.00h-1.33zM382.50 354.67h1.33v0.33h-1.33zM383.87 342.48h1.33v12.52h-1.33zM385.24 345.48h1.33v9.52h-1.33zM386.61 342.55h1.33v12.45h-1.33zM387.98 339.68h1.33v15.32h-1.33zM393.40 338.49h1.74v16.51h-1.74zM395.19 326.47h1.74v28.53h-1.74zM396.98 346.02h1.74v8.98h-1.74zM398.78 339.11h1.74v15.89h-1.74zM400.57 348.43h1.74v6.57h-1.74zM402.36 338.05h1.74v16.95h-1.74zM404.15 337.44h1.74v17.56h-1.74zM405.95 342.33h1.74v12.67h-1.74zM407.74 316.23h1.74v38.77h-1.74zM409.53 339.60h1.74v15.40h-1.74zM411.32 319.29h1.74v35.71h-1.74zM413.12 329.96h1.74v25.04h-1.74zM414.91 350.95h1.74v4.05h-1.74zM420.75 347.24h1.74v7.76h-1.74zM422.54 338.05h1.74v16.95h-1.74zM424.33 334.15h1.74v20.85h-1.74zM426.13 339.71h1.74v15.29h-1.74zM427.92 314.46h1.74v40.54h-1.74zM429.71 338.32h1.74v16.68h-1.74zM431.50 334.91h1.74v20.09h-1.74zM433.30 345.70h1.74v9.30h-1.74zM435.09 342.37h1.74v12.63h-1.74zM436.88 344.51h1.74v10.49h-1.74zM438.67 346.40h1.74v8.60h-1.74zM440.47 321.50h1.74v33.50h-1.74zM442.26 345.19h1.74v9.81h-1.74zM448.10 340.45h1.74v14.55h-1.74zM449.89 344.51h1.74v10.49h-1.74zM451.68 331.80h1.74v23.20h-1.74zM453.48 340.70h1.74v14.30h-1.74zM455.27 333.77h1.74v21.23h-1.74zM457.06 344.67h1.74v10.33h-1.74zM458.85 343.21h1.74v11.79h-1.74zM460.65 337.32h1.74v17.68h-1.74zM464.23 322.48h1.74v32.52h-1.74zM466.02 319.93h1.74v35.07h-1.74zM467.82 323.20h1.74v31.80h-1.74zM469.61 343.07h1.74v11.93h-1.74zM475.45 333.55h1.74v21.45h-1.74zM477.24 316.77h1.74v38.23h-1.74zM480.83 340.39h1.74v14.61h-1.74zM484.41 302.20h1.74v52.80h-1.74zM486.20 318.10h1.74v36.90h-1.74zM488.00 340.73h1.74v14.27h-1.74zM489.79 345.24h1.74v9.76h-1.74zM491.58 337.45h1.74v17.55h-1.74zM495.17 340.74h1.74v14.26h-1.74zM496.96 344.07h1.74v10.93h-1.74zM174.60 438.18h1.33v2.82h-1.33zM175.97 439.39h1.33v1.61h-1.33zM177.34 414.50h1.33v26.50h-1.33zM178.71 439.25h1.33v1.75h-1.33zM180.08 438.11h1.33v2.89h-1.33zM181.45 439.15h1.33v1.85h-1.33zM182.82 437.94h1.33v3.06h-1.33zM184.19 414.12h1.33v26.88h-1.33zM185.56 418.45h1.33v22.55h-1.33zM186.94 438.70h1.33v2.30h-1.33zM188.31 439.83h1.33v1.17h-1.33zM189.68 439.35h1.33v1.65h-1.33zM191.05 437.71h1.33v3.29h-1.33zM192.42 438.21h1.33v2.79h-1.33zM193.79 439.11h1.33v1.89h-1.33zM195.16 438.86h1.33v2.14h-1.33zM196.53 438.88h1.33v2.12h-1.33zM201.95 411.89h1.33v29.11h-1.33zM203.32 437.72h1.33v3.28h-1.33zM204.69 439.08h1.33v1.92h-1.33zM206.06 439.01h1.33v1.99h-1.33zM207.43 439.22h1.33v1.78h-1.33zM208.80 438.29h1.33v2.71h-1.33zM210.17 439.20h1.33v1.80h-1.33zM211.54 438.66h1.33v2.34h-1.33zM212.91 437.40h1.33v3.60h-1.33zM214.29 439.46h1.33v1.54h-1.33zM215.66 439.50h1.33v1.50h-1.33zM217.03 411.18h1.33v29.82h-1.33zM218.40 438.66h1.33v2.34h-1.33zM219.77 438.43h1.33v2.57h-1.33zM221.14 439.39h1.33v1.61h-1.33zM222.51 439.06h1.33v1.94h-1.33zM223.88 439.81h1.33v1.19h-1.33zM229.30 438.88h1.33v2.12h-1.33zM230.67 439.13h1.33v1.87h-1.33zM232.04 439.59h1.33v1.41h-1.33zM233.41 438.11h1.33v2.89h-1.33zM234.78 439.02h1.33v1.98h-1.33zM236.15 438.72h1.33v2.28h-1.33zM237.52 438.99h1.33v2.01h-1.33zM238.89 438.71h1.33v2.29h-1.33zM240.26 438.79h1.33v2.21h-1.33zM241.64 439.30h1.33v1.70h-1.33zM243.01 438.78h1.33v2.22h-1.33zM244.38 439.58h1.33v1.42h-1.33zM245.75 437.09h1.33v3.91h-1.33zM247.12 439.22h1.33v1.78h-1.33zM248.49 438.65h1.33v2.35h-1.33zM249.86 439.40h1.33v1.60h-1.33zM251.23 437.98h1.33v3.02h-1.33zM256.65 439.72h1.33v1.28h-1.33zM258.02 437.52h1.33v3.48h-1.33zM259.39 439.29h1.33v1.71h-1.33zM260.76 439.40h1.33v1.60h-1.33zM262.13 439.48h1.33v1.52h-1.33zM263.50 439.48h1.33v1.52h-1.33zM264.87 437.99h1.33v3.01h-1.33zM266.24 438.26h1.33v2.74h-1.33zM267.61 439.22h1.33v1.78h-1.33zM268.99 437.75h1.33v3.25h-1.33zM270.36 439.58h1.33v1.42h-1.33zM271.73 438.91h1.33v2.09h-1.33zM273.10 438.74h1.33v2.26h-1.33zM274.47 437.58h1.33v3.42h-1.33zM275.84 438.19h1.33v2.81h-1.33zM277.21 438.94h1.33v2.06h-1.33zM278.58 438.93h1.33v2.07h-1.33zM284.00 404.42h1.33v36.58h-1.33zM285.37 411.64h1.33v29.36h-1.33zM286.74 436.28h1.33v4.72h-1.33zM288.11 412.86h1.33v28.14h-1.33zM289.48 437.65h1.33v3.35h-1.33zM290.85 418.93h1.33v22.07h-1.33zM292.22 435.96h1.33v5.04h-1.33zM293.59 437.50h1.33v3.50h-1.33zM294.96 436.29h1.33v4.71h-1.33zM296.34 418.98h1.33v22.02h-1.33zM297.71 434.37h1.33v6.63h-1.33zM299.08 434.92h1.33v6.08h-1.33zM300.45 434.28h1.33v6.72h-1.33zM301.82 437.12h1.33v3.88h-1.33zM303.19 433.36h1.33v7.64h-1.33zM304.56 436.58h1.33v4.42h-1.33zM305.93 415.08h1.33v25.92h-1.33zM311.35 433.33h1.33v7.67h-1.33zM312.72 405.16h1.33v35.84h-1.33zM314.09 437.37h1.33v3.63h-1.33zM315.46 436.22h1.33v4.78h-1.33zM316.83 436.06h1.33v4.94h-1.33zM318.20 417.02h1.33v23.98h-1.33zM319.57 436.22h1.33v4.78h-1.33zM320.94 436.41h1.33v4.59h-1.33zM322.31 436.39h1.33v4.61h-1.33zM323.69 434.34h1.33v6.66h-1.33zM325.06 423.59h1.33v17.41h-1.33zM326.43 434.94h1.33v6.06h-1.33zM327.80 435.67h1.33v5.33h-1.33zM329.17 432.79h1.33v8.21h-1.33zM330.54 435.97h1.33v5.03h-1.33zM331.91 408.41h1.33v32.59h-1.33zM333.28 433.14h1.33v7.86h-1.33zM338.70 436.19h1.33v4.81h-1.33zM340.07 403.51h1.33v37.49h-1.33zM341.44 435.71h1.33v5.29h-1.33zM342.81 435.66h1.33v5.34h-1.33zM344.18 422.29h1.33v18.71h-1.33zM345.55 435.58h1.33v5.42h-1.33zM346.92 432.99h1.33v8.01h-1.33zM348.29 415.66h1.33v25.34h-1.33zM349.66 399.01h1.33v41.99h-1.33zM351.04 417.63h1.33v23.37h-1.33zM352.41 421.01h1.33v19.99h-1.33zM353.78 435.37h1.33v5.63h-1.33zM355.15 424.70h1.33v16.30h-1.33zM356.52 409.38h1.33v31.62h-1.33zM357.89 412.53h1.33v28.47h-1.33zM359.26 436.65h1.33v4.35h-1.33zM360.63 438.10h1.33v2.90h-1.33zM366.05 434.83h1.33v6.17h-1.33zM367.42 435.37h1.33v5.63h-1.33zM368.79 436.64h1.33v4.36h-1.33zM370.16 434.40h1.33v6.60h-1.33zM371.53 412.03h1.33v28.97h-1.33zM372.90 424.07h1.33v16.93h-1.33zM374.27 409.95h1.33v31.05h-1.33zM375.64 424.67h1.33v16.33h-1.33zM377.01 437.26h1.33v3.74h-1.33zM378.39 422.93h1.33v18.07h-1.33zM379.76 436.91h1.33v4.09h-1.33zM381.13 434.88h1.33v6.12h-1.33zM382.50 437.53h1.33v3.47h-1.33zM383.87 434.80h1.33v6.20h-1.33zM385.24 436.69h1.33v4.31h-1.33zM386.61 437.26h1.33v3.74h-1.33zM387.98 435.69h1.33v5.31h-1.33zM393.40 437.51h1.74v3.49h-1.74zM395.19 438.23h1.74v2.77h-1.74zM396.98 416.53h1.74v24.47h-1.74zM400.57 438.06h1.74v2.94h-1.74zM404.15 434.29h1.74v6.71h-1.74zM405.95 434.39h1.74v6.61h-1.74zM407.74 408.28h1.74v32.72h-1.74zM409.53 418.46h1.74v22.54h-1.74zM411.32 437.89h1.74v3.11h-1.74zM413.12 433.71h1.74v7.29h-1.74zM420.75 436.34h1.74v4.66h-1.74zM424.33 438.45h1.74v2.55h-1.74zM427.92 434.98h1.74v6.02h-1.74zM429.71 420.57h1.74v20.43h-1.74zM431.50 434.62h1.74v6.38h-1.74zM433.30 404.64h1.74v36.36h-1.74zM435.09 438.34h1.74v2.66h-1.74zM436.88 435.39h1.74v5.61h-1.74zM440.47 435.39h1.74v5.61h-1.74zM442.26 432.24h1.74v8.76h-1.74zM448.10 437.50h1.74v3.50h-1.74zM449.89 419.69h1.74v21.31h-1.74zM451.68 436.19h1.74v4.81h-1.74zM453.48 416.47h1.74v24.53h-1.74zM455.27 422.08h1.74v18.92h-1.74zM457.06 437.58h1.74v3.42h-1.74zM458.85 437.93h1.74v3.07h-1.74zM462.44 434.04h1.74v6.96h-1.74zM464.23 403.12h1.74v37.88h-1.74zM466.02 433.01h1.74v7.99h-1.74zM467.82 436.88h1.74v4.12h-1.74zM469.61 438.10h1.74v2.90h-1.74zM475.45 435.59h1.74v5.41h-1.74zM477.24 416.81h1.74v24.19h-1.74zM479.03 437.20h1.74v3.80h-1.74zM480.83 434.47h1.74v6.53h-1.74zM482.62 438.72h1.74v2.28h-1.74zM484.41 435.55h1.74v5.45h-1.74zM486.20 437.76h1.74v3.24h-1.74zM488.00 417.23h1.74v23.77h-1.74zM489.79 437.85h1.74v3.15h-1.74zM491.58 435.04h1.74v5.96h-1.74zM493.37 437.49h1.74v3.51h-1.74zM495.17 436.53h1.74v4.47h-1.74z"/>
<path fill="#b4b4e0" d="M174.60 348.35h1.33v2.04h-1.33zM175.97 351.62h1.33v2.08h-1.33zM177.34 351.40h1.33v2.16h-1.33zM178.71 348.47h1.33v2.06h-1.33zM180.08 340.64h1.33v5.80h-1.33zM181.45 348.21h1.33v1.59h-1.33zM182.82 351.30h1.33v1.49h-1.33zM184.19 350.85h1.33v1.44h-1.33zM185.56 350.79h1.33v1.47h-1.33zM186.94 350.24h1.33v1.87h-1.33zM188.31 350.65h1.33v1.69h-1.33zM189.68 351.45h1.33v1.71h-1.33zM191.05 348.08h1.33v1.52h-1.33zM192.42 343.56h1.33v4.87h-1.33zM193.79 347.20h1.33v2.05h-1.33zM195.16 347.77h1.33v1.81h-1.33zM196.53 349.59h1.33v1.82h-1.33zM201.95 352.45h1.33v1.17h-1.33zM203.32 348.15h1.33v1.64h-1.33zM204.69 350.46h1.33v2.12h-1.33zM206.06 348.11h1.33v2.10h-1.33zM207.43 351.62h1.33v1.35h-1.33zM208.80 349.13h1.33v1.64h-1.33zM210.17 351.38h1.33v1.94h-1.33zM211.54 351.10h1.33v0.90h-1.33zM212.91 350.89h1.33v1.58h-1.33zM214.29 350.01h1.33v1.50h-1.33zM215.66 352.97h1.33v0.98h-1.33zM217.03 350.35h1.33v1.75h-1.33zM218.40 349.01h1.33v1.79h-1.33zM219.77 348.68h1.33v2.11h-1.33zM221.14 350.88h1.33v2.18h-1.33zM222.51 348.55h1.33v1.45h-1.33zM223.88 348.50h1.33v1.98h-1.33zM229.30 343.18h1.33v4.65h-1.33zM230.67 347.69h1.33v2.39h-1.33zM232.04 351.20h1.33v1.30h-1.33zM233.41 351.77h1.33v1.00h-1.33zM234.78 351.28h1.33v1.55h-1.33zM236.15 351.98h1.33v1.18h-1.33zM237.52 337.95h1.33v7.09h-1.33zM238.89 346.56h1.33v2.39h-1.33zM240.26 352.66h1.33v1.05h-1.33zM241.64 348.67h1.33v1.56h-1.33zM243.01 349.82h1.33v1.92h-1.33zM244.38 348.68h1.33v1.78h-1.33zM245.75 351.65h1.33v1.58h-1.33zM247.12 350.03h1.33v1.41h-1.33zM248.49 350.43h1.33v1.79h-1.33zM249.86 351.71h1.33v1.50h-1.33zM251.23 351.23h1.33v2.21h-1.33zM256.65 339.01h1.33v7.71h-1.33zM258.02 350.65h1.33v1.49h-1.33zM259.39 348.39h1.33v1.84h-1.33zM260.76 351.01h1.33v1.45h-1.33zM262.13 349.10h1.33v1.78h-1.33zM263.50 349.61h1.33v1.88h-1.33zM264.87 349.45h1.33v1.55h-1.33zM266.24 337.06h1.33v7.06h-1.33zM267.61 349.84h1.33v2.11h-1.33zM268.99 339.55h1.33v8.45h-1.33zM270.36 339.76h1.33v7.87h-1.33zM271.73 338.50h1.33v7.02h-1.33zM273.10 351.41h1.33v1.48h-1.33zM274.47 350.79h1.33v2.02h-1.33zM275.84 350.82h1.33v1.47h-1.33zM277.21 351.05h1.33v1.65h-1.33zM278.58 351.54h1.33v1.49h-1.33zM284.00 337.62h1.33v4.10h-1.33zM285.37 335.37h1.33v3.13h-1.33zM286.74 335.01h1.33v4.70h-1.33zM288.11 338.03h1.33v4.03h-1.33zM289.48 331.15h1.33v5.52h-1.33zM290.85 335.03h1.33v4.74h-1.33zM292.22 344.85h1.33v2.73h-1.33zM293.59 337.66h1.33v4.07h-1.33zM294.96 339.59h1.33v4.35h-1.33zM296.34 343.70h1.33v2.49h-1.33zM297.71 338.14h1.33v3.17h-1.33zM299.08 331.06h1.33v3.87h-1.33zM300.45 308.92h1.33v5.97h-1.33zM301.82 310.93h1.33v6.10h-1.33zM303.19 341.83h1.33v3.71h-1.33zM304.56 354.30h1.33v0.20h-1.33zM305.93 335.30h1.33v4.85h-1.33zM311.35 343.48h1.33v2.20h-1.33zM312.72 333.62h1.33v2.84h-1.33zM314.09 330.97h1.33v5.99h-1.33zM315.46 335.64h1.33v3.92h-1.33zM316.83 341.92h1.33v3.70h-1.33zM318.20 335.03h1.33v4.16h-1.33zM319.57 318.03h1.33v4.72h-1.33zM320.94 337.66h1.33v4.88h-1.33zM322.31 336.96h1.33v5.64h-1.33zM323.69 337.84h1.33v4.87h-1.33zM325.06 354.51h1.33v0.14h-1.33zM326.43 336.15h1.33v3.51h-1.33zM327.80 333.54h1.33v5.35h-1.33zM329.17 338.55h1.33v4.35h-1.33zM330.54 326.71h1.33v2.44h-1.33zM331.91 338.81h1.33v4.43h-1.33zM333.28 345.14h1.33v1.96h-1.33zM338.70 340.87h1.33v2.91h-1.33zM340.07 330.88h1.33v5.41h-1.33zM341.44 328.37h1.33v5.51h-1.33zM342.81 338.02h1.33v4.46h-1.33zM344.18 315.57h1.33v3.18h-1.33zM345.55 335.08h1.33v3.70h-1.33zM346.92 354.33h1.33v0.19h-1.33zM348.29 334.15h1.33v6.29h-1.33zM349.66 354.03h1.33v0.28h-1.33zM351.04 335.44h1.33v5.73h-1.33zM352.41 339.58h1.33v4.70h-1.33zM353.78 335.35h1.33v3.01h-1.33zM355.15 335.85h1.33v4.72h-1.33zM356.52 354.17h1.33v0.24h-1.33zM357.89 334.41h1.33v4.62h-1.33zM359.26 312.67h1.33v5.27h-1.33zM360.63 332.13h1.33v4.70h-1.33zM366.05 335.16h1.33v4.01h-1.33zM367.42 339.76h1.33v4.76h-1.33zM368.79 334.68h1.33v5.50h-1.33zM370.16 315.96h1.33v3.94h-1.33zM371.53 339.92h1.33v4.78h-1.33zM372.90 333.88h1.33v4.62h-1.33zM374.27 338.91h1.33v4.21h-1.33zM375.64 334.23h1.33v4.78h-1.33zM377.01 334.73h1.33v3.31h-1.33zM378.39 334.00h1.33v3.69h-1.33zM379.76 333.78h1.33v5.06h-1.33zM381.13 342.74h1.33v3.25h-1.33zM382.50 354.54h1.33v0.13h-1.33zM383.87 339.71h1.33v2.77h-1.33zM385.24 341.97h1.33v3.51h-1.33zM386.61 338.54h1.33v4.01h-1.33zM387.98 336.79h1.33v2.89h-1.33zM393.40 335.53h1.74v2.97h-1.74zM395.19 324.07h1.74v2.39h-1.74zM396.98 344.13h1.74v1.89h-1.74zM398.78 333.67h1.74v5.44h-1.74zM400.57 346.98h1.74v1.45h-1.74zM402.36 335.68h1.74v2.37h-1.74zM404.15 333.75h1.74v3.68h-1.74zM405.95 339.80h1.74v2.53h-1.74zM407.74 312.68h1.74v3.56h-1.74zM409.53 336.30h1.74v3.30h-1.74zM411.32 313.50h1.74v5.79h-1.74zM413.12 326.37h1.74v3.59h-1.74zM414.91 349.62h1.74v1.33h-1.74zM420.75 345.23h1.74v2.01h-1.74zM422.54 333.63h1.74v4.42h-1.74zM424.33 330.35h1.74v3.79h-1.74zM426.13 336.91h1.74v2.81h-1.74zM427.92 308.80h1.74v5.66h-1.74zM429.71 335.38h1.74v2.94h-1.74zM431.50 331.76h1.74v3.15h-1.74zM433.30 342.50h1.74v3.20h-1.74zM435.09 340.20h1.74v2.17h-1.74zM436.88 342.36h1.74v2.15h-1.74zM438.67 343.87h1.74v2.53h-1.74zM440.47 318.14h1.74v3.36h-1.74zM442.26 342.67h1.74v2.52h-1.74zM448.10 337.38h1.74v3.07h-1.74zM449.89 341.28h1.74v3.23h-1.74zM451.68 328.28h1.74v3.53h-1.74zM453.48 336.90h1.74v3.80h-1.74zM455.27 329.49h1.74v4.28h-1.74zM457.06 342.20h1.74v2.48h-1.74zM458.85 340.85h1.74v2.37h-1.74zM460.65 335.29h1.74v2.03h-1.74zM464.23 317.54h1.74v4.94h-1.74zM466.02 315.42h1.74v4.52h-1.74zM467.82 317.43h1.74v5.78h-1.74zM469.61 341.28h1.74v1.79h-1.74zM475.45 330.36h1.74v3.20h-1.74zM477.24 313.18h1.74v3.60h-1.74zM480.83 337.24h1.74v3.15h-1.74zM484.41 298.55h1.74v3.65h-1.74zM486.20 313.59h1.74v4.51h-1.74zM488.00 337.48h1.74v3.25h-1.74zM489.79 342.76h1.74v2.48h-1.74zM491.58 333.24h1.74v4.21h-1.74zM495.17 338.43h1.74v2.32h-1.74zM496.96 341.64h1.74v2.44h-1.74zM174.60 437.06h1.33v1.12h-1.33zM175.97 438.90h1.33v0.49h-1.33zM177.34 410.65h1.33v3.85h-1.33zM178.71 438.63h1.33v0.62h-1.33zM180.08 437.28h1.33v0.84h-1.33zM181.45 438.16h1.33v0.99h-1.33zM182.82 436.78h1.33v1.15h-1.33zM184.19 411.33h1.33v2.80h-1.33zM185.56 415.17h1.33v3.28h-1.33zM186.94 438.09h1.33v0.62h-1.33zM188.31 439.05h1.33v0.78h-1.33zM189.68 438.66h1.33v0.69h-1.33zM191.05 436.94h1.33v0.76h-1.33zM192.42 437.25h1.33v0.96h-1.33zM193.79 438.36h1.33v0.75h-1.33zM195.16 438.38h1.33v0.47h-1.33zM196.53 438.47h1.33v0.41h-1.33zM201.95 407.60h1.33v4.29h-1.33zM203.32 436.40h1.33v1.32h-1.33zM204.69 438.19h1.33v0.88h-1.33zM206.06 438.22h1.33v0.79h-1.33zM207.43 438.33h1.33v0.89h-1.33zM208.80 437.61h1.33v0.68h-1.33zM210.17 438.66h1.33v0.53h-1.33zM211.54 437.63h1.33v1.03h-1.33zM212.91 436.12h1.33v1.28h-1.33zM214.29 439.06h1.33v0.41h-1.33zM215.66 438.84h1.33v0.66h-1.33zM217.03 407.65h1.33v3.52h-1.33zM218.40 437.92h1.33v0.75h-1.33zM219.77 437.64h1.33v0.79h-1.33zM221.14 438.55h1.33v0.84h-1.33zM222.51 438.22h1.33v0.85h-1.33zM223.88 439.35h1.33v0.46h-1.33zM229.30 438.22h1.33v0.65h-1.33zM230.67 438.06h1.33v1.07h-1.33zM232.04 438.68h1.33v0.91h-1.33zM233.41 437.34h1.33v0.77h-1.33zM234.78 438.31h1.33v0.71h-1.33zM236.15 437.69h1.33v1.02h-1.33zM237.52 438.13h1.33v0.86h-1.33zM238.89 437.53h1.33v1.19h-1.33zM240.26 437.90h1.33v0.89h-1.33zM241.64 438.48h1.33v0.83h-1.33zM243.01 438.05h1.33v0.73h-1.33zM244.38 438.87h1.33v0.71h-1.33zM245.75 435.73h1.33v1.35h-1.33zM247.12 438.68h1.33v0.54h-1.33zM248.49 437.78h1.33v0.87h-1.33zM249.86 438.64h1.33v0.76h-1.33zM251.23 436.94h1.33v1.04h-1.33zM256.65 438.83h1.33v0.89h-1.33zM258.02 436.27h1.33v1.25h-1.33zM259.39 438.89h1.33v0.40h-1.33zM260.76 438.82h1.33v0.58h-1.33zM262.13 439.02h1.33v0.46h-1.33zM263.50 438.68h1.33v0.79h-1.33zM264.87 436.97h1.33v1.02h-1.33zM266.24 437.36h1.33v0.89h-1.33zM267.61 438.48h1.33v0.74h-1.33zM268.99 437.15h1.33v0.61h-1.33zM270.36 438.66h1.33v0.92h-1.33zM271.73 438.39h1.33v0.52h-1.33zM273.10 437.77h1.33v0.97h-1.33zM274.47 436.33h1.33v1.25h-1.33zM275.84 437.21h1.33v0.98h-1.33zM277.21 438.31h1.33v0.63h-1.33zM278.58 438.31h1.33v0.62h-1.33zM284.00 401.14h1.33v3.28h-1.33zM285.37 408.30h1.33v3.34h-1.33zM286.74 434.80h1.33v1.49h-1.33zM288.11 410.48h1.33v2.38h-1.33zM289.48 436.53h1.33v1.13h-1.33zM290.85 414.53h1.33v4.40h-1.33zM292.22 434.97h1.33v0.98h-1.33zM293.59 436.36h1.33v1.13h-1.33zM294.96 434.53h1.33v1.75h-1.33zM296.34 415.78h1.33v3.20h-1.33zM297.71 432.14h1.33v2.23h-1.33zM299.08 432.58h1.33v2.34h-1.33zM300.45 432.92h1.33v1.36h-1.33zM301.82 436.37h1.33v0.75h-1.33zM303.19 431.70h1.33v1.66h-1.33zM304.56 435.36h1.33v1.22h-1.33zM305.93 410.23h1.33v4.85h-1.33zM311.35 430.82h1.33v2.51h-1.33zM312.72 401.01h1.33v4.15h-1.33zM314.09 436.39h1.33v0.97h-1.33zM315.46 435.18h1.33v1.04h-1.33zM316.83 434.70h1.33v1.36h-1.33zM318.20 412.42h1.33v4.61h-1.33zM319.57 434.05h1.33v2.17h-1.33zM320.94 435.43h1.33v0.99h-1.33zM322.31 434.87h1.33v1.52h-1.33zM323.69 432.18h1.33v2.16h-1.33zM325.06 420.78h1.33v2.81h-1.33zM326.43 433.17h1.33v1.77h-1.33zM327.80 434.41h1.33v1.26h-1.33zM329.17 431.32h1.33v1.47h-1.33zM330.54 434.94h1.33v1.03h-1.33zM331.91 404.52h1.33v3.89h-1.33zM333.28 431.04h1.33v2.10h-1.33zM338.70 434.92h1.33v1.26h-1.33zM340.07 397.60h1.33v5.91h-1.33zM341.44 434.49h1.33v1.22h-1.33zM342.81 434.44h1.33v1.22h-1.33zM344.18 419.29h1.33v3.01h-1.33zM345.55 433.52h1.33v2.05h-1.33zM346.92 431.26h1.33v1.73h-1.33zM348.29 411.16h1.33v4.51h-1.33zM349.66 394.58h1.33v4.43h-1.33zM351.04 414.48h1.33v3.15h-1.33zM352.41 419.04h1.33v1.96h-1.33zM353.78 434.29h1.33v1.07h-1.33zM355.15 422.26h1.33v2.43h-1.33zM356.52 404.20h1.33v5.18h-1.33zM357.89 409.68h1.33v2.85h-1.33zM359.26 434.97h1.33v1.68h-1.33zM360.63 437.16h1.33v0.95h-1.33zM366.05 433.10h1.33v1.73h-1.33zM367.42 433.99h1.33v1.38h-1.33zM368.79 435.66h1.33v0.98h-1.33zM370.16 432.54h1.33v1.86h-1.33zM371.53 409.04h1.33v2.99h-1.33zM372.90 421.77h1.33v2.31h-1.33zM374.27 405.45h1.33v4.50h-1.33zM375.64 421.73h1.33v2.94h-1.33zM377.01 435.99h1.33v1.27h-1.33zM378.39 421.05h1.33v1.88h-1.33zM379.76 435.98h1.33v0.93h-1.33zM381.13 432.56h1.33v2.32h-1.33zM382.50 436.53h1.33v0.99h-1.33zM383.87 432.50h1.33v2.30h-1.33zM385.24 435.15h1.33v1.55h-1.33zM386.61 435.85h1.33v1.41h-1.33zM387.98 433.79h1.33v1.90h-1.33zM393.40 436.22h1.74v1.29h-1.74zM395.19 437.00h1.74v1.22h-1.74zM396.98 411.68h1.74v4.85h-1.74zM400.57 437.30h1.74v0.76h-1.74zM404.15 432.06h1.74v2.23h-1.74zM405.95 432.30h1.74v2.09h-1.74zM407.74 403.25h1.74v5.03h-1.74zM409.53 415.16h1.74v3.30h-1.74zM411.32 436.87h1.74v1.03h-1.74zM413.12 431.81h1.74v1.91h-1.74zM420.75 435.25h1.74v1.09h-1.74zM424.33 437.79h1.74v0.66h-1.74zM427.92 433.57h1.74v1.41h-1.74zM429.71 417.24h1.74v3.34h-1.74zM431.50 432.97h1.74v1.64h-1.74zM433.30 400.12h1.74v4.52h-1.74zM435.09 437.44h1.74v0.90h-1.74zM436.88 433.94h1.74v1.45h-1.74zM440.47 434.06h1.74v1.33h-1.74zM442.26 430.17h1.74v2.07h-1.74zM448.10 436.55h1.74v0.95h-1.74zM449.89 416.57h1.74v3.12h-1.74zM451.68 434.99h1.74v1.19h-1.74zM453.48 412.60h1.74v3.86h-1.74zM455.27 419.33h1.74v2.75h-1.74zM457.06 436.92h1.74v0.66h-1.74zM458.85 436.64h1.74v1.29h-1.74zM462.44 432.27h1.74v1.77h-1.74zM464.23 395.92h1.74v7.21h-1.74zM466.02 430.68h1.74v2.34h-1.74zM467.82 435.48h1.74v1.40h-1.74zM469.61 437.54h1.74v0.55h-1.74zM475.45 433.50h1.74v2.09h-1.74zM477.24 414.18h1.74v2.63h-1.74zM479.03 435.32h1.74v1.88h-1.74zM480.83 433.13h1.74v1.34h-1.74zM482.62 437.88h1.74v0.84h-1.74zM484.41 434.37h1.74v1.18h-1.74zM486.20 436.88h1.74v0.87h-1.74zM488.00 414.52h1.74v2.71h-1.74zM489.79 436.86h1.74v0.99h-1.74zM491.58 432.80h1.74v2.24h-1.74zM493.37 436.45h1.74v1.04h-1.74zM495.17 435.49h1.74v1.04h-1.74z"/>
<path fill="#8a8ed0" d="M174.60 342.17h1.33v6.18h-1.33zM175.97 346.58h1.33v5.03h-1.33zM177.34 347.00h1.33v4.40h-1.33zM178.71 343.14h1.33v5.33h-1.33zM180.08 319.46h1.33v21.19h-1.33zM181.45 341.51h1.33v6.70h-1.33zM182.82 346.53h1.33v4.77h-1.33zM184.19 347.57h1.33v3.29h-1.33zM185.56 345.20h1.33v5.59h-1.33zM186.94 347.03h1.33v3.21h-1.33zM188.31 347.17h1.33v3.49h-1.33zM189.68 345.64h1.33v5.80h-1.33zM191.05 344.24h1.33v3.84h-1.33zM192.42 324.88h1.33v18.68h-1.33zM193.79 342.66h1.33v4.53h-1.33zM195.16 339.71h1.33v8.06h-1.33zM196.53 346.16h1.33v3.43h-1.33zM201.95 349.01h1.33v3.44h-1.33zM203.32 340.70h1.33v7.45h-1.33zM204.69 347.11h1.33v3.35h-1.33zM206.06 343.15h1.33v4.95h-1.33zM207.43 347.28h1.33v4.34h-1.33zM208.80 345.46h1.33v3.67h-1.33zM210.17 348.14h1.33v3.24h-1.33zM211.54 348.09h1.33v3.01h-1.33zM212.91 345.16h1.33v5.72h-1.33zM214.29 345.13h1.33v4.88h-1.33zM215.66 349.36h1.33v3.61h-1.33zM217.03 347.23h1.33v3.12h-1.33zM218.40 343.25h1.33v5.76h-1.33zM219.77 344.83h1.33v3.85h-1.33zM221.14 345.02h1.33v5.86h-1.33zM222.51 343.80h1.33v4.75h-1.33zM223.88 343.34h1.33v5.16h-1.33zM229.30 323.51h1.33v19.67h-1.33zM230.67 342.02h1.33v5.67h-1.33zM232.04 347.44h1.33v3.77h-1.33zM233.41 348.60h1.33v3.17h-1.33zM234.78 346.85h1.33v4.44h-1.33zM236.15 348.73h1.33v3.26h-1.33zM237.52 313.10h1.33v24.84h-1.33zM238.89 342.28h1.33v4.28h-1.33zM240.26 348.94h1.33v3.72h-1.33zM241.64 344.26h1.33v4.40h-1.33zM243.01 344.77h1.33v5.06h-1.33zM244.38 342.32h1.33v6.36h-1.33zM245.75 345.84h1.33v5.81h-1.33zM247.12 343.08h1.33v6.95h-1.33zM248.49 344.37h1.33v6.07h-1.33zM249.86 347.21h1.33v4.49h-1.33zM251.23 345.25h1.33v5.98h-1.33zM256.65 310.80h1.33v28.21h-1.33zM258.02 345.72h1.33v4.93h-1.33zM259.39 343.33h1.33v5.06h-1.33zM260.76 345.46h1.33v5.55h-1.33zM262.13 343.87h1.33v5.22h-1.33zM263.50 344.24h1.33v5.37h-1.33zM264.87 342.77h1.33v6.68h-1.33zM266.24 309.52h1.33v27.54h-1.33zM267.61 344.93h1.33v4.90h-1.33zM268.99 308.60h1.33v30.95h-1.33zM270.36 310.69h1.33v29.07h-1.33zM271.73 313.07h1.33v25.43h-1.33zM273.10 346.32h1.33v5.09h-1.33zM274.47 344.88h1.33v5.91h-1.33zM275.84 347.01h1.33v3.81h-1.33zM277.21 346.80h1.33v4.25h-1.33zM278.58 346.76h1.33v4.79h-1.33zM284.00 331.59h1.33v6.03h-1.33zM285.37 328.79h1.33v6.58h-1.33zM286.74 328.61h1.33v6.39h-1.33zM288.11 332.01h1.33v6.03h-1.33zM289.48 323.57h1.33v7.58h-1.33zM290.85 324.34h1.33v10.69h-1.33zM292.22 339.66h1.33v5.19h-1.33zM293.59 326.89h1.33v10.78h-1.33zM294.96 331.61h1.33v7.98h-1.33zM296.34 336.81h1.33v6.88h-1.33zM297.71 329.84h1.33v8.30h-1.33zM299.08 324.88h1.33v6.18h-1.33zM300.45 302.01h1.33v6.91h-1.33zM301.82 305.16h1.33v5.76h-1.33zM303.19 335.53h1.33v6.31h-1.33zM304.56 353.79h1.33v0.50h-1.33zM305.93 327.66h1.33v7.64h-1.33zM311.35 338.21h1.33v5.27h-1.33zM312.72 326.60h1.33v7.02h-1.33zM314.09 324.47h1.33v6.50h-1.33zM315.46 327.17h1.33v8.47h-1.33zM316.83 334.42h1.33v7.51h-1.33zM318.20 328.63h1.33v6.40h-1.33zM319.57 313.64h1.33v4.39h-1.33zM320.94 329.75h1.33v7.91h-1.33zM322.31 325.53h1.33v11.43h-1.33zM323.69 331.40h1.33v6.44h-1.33zM325.06 354.15h1.33v0.35h-1.33zM326.43 327.56h1.33v8.60h-1.33zM327.80 326.53h1.33v7.01h-1.33zM329.17 332.86h1.33v5.69h-1.33zM330.54 324.11h1.33v2.60h-1.33zM331.91 332.01h1.33v6.80h-1.33zM333.28 339.15h1.33v6.00h-1.33zM338.70 335.52h1.33v5.35h-1.33zM340.07 322.65h1.33v8.23h-1.33zM341.44 317.70h1.33v10.67h-1.33zM342.81 330.97h1.33v7.05h-1.33zM344.18 310.80h1.33v4.78h-1.33zM345.55 328.65h1.33v6.43h-1.33zM346.92 353.85h1.33v0.48h-1.33zM348.29 323.95h1.33v10.20h-1.33zM349.66 353.34h1.33v0.69h-1.33zM351.04 328.67h1.33v6.77h-1.33zM352.41 330.41h1.33v9.17h-1.33zM353.78 328.83h1.33v6.52h-1.33zM355.15 327.83h1.33v8.02h-1.33zM356.52 353.58h1.33v0.59h-1.33zM357.89 325.20h1.33v9.22h-1.33zM359.26 308.45h1.33v4.22h-1.33zM360.63 323.46h1.33v8.67h-1.33zM366.05 329.11h1.33v6.05h-1.33zM367.42 329.96h1.33v9.80h-1.33zM368.79 328.62h1.33v6.06h-1.33zM370.16 312.80h1.33v3.16h-1.33zM371.53 333.33h1.33v6.58h-1.33zM372.90 328.05h1.33v5.83h-1.33zM374.27 332.76h1.33v6.15h-1.33zM375.64 328.27h1.33v5.95h-1.33zM377.01 328.19h1.33v6.53h-1.33zM378.39 326.20h1.33v7.81h-1.33zM379.76 325.41h1.33v8.38h-1.33zM381.13 338.13h1.33v4.62h-1.33zM382.50 354.22h1.33v0.33h-1.33zM383.87 335.36h1.33v4.35h-1.33zM385.24 336.87h1.33v5.10h-1.33zM386.61 330.81h1.33v7.72h-1.33zM387.98 327.89h1.33v8.90h-1.33zM393.40 329.57h1.74v5.96h-1.74zM395.19 321.86h1.74v2.22h-1.74zM396.98 339.24h1.74v4.89h-1.74zM398.78 324.55h1.74v9.12h-1.74zM400.57 343.49h1.74v3.48h-1.74zM402.36 331.12h1.74v4.56h-1.74zM404.15 324.01h1.74v9.74h-1.74zM405.95 334.20h1.74v5.60h-1.74zM407.74 308.09h1.74v4.59h-1.74zM409.53 330.42h1.74v5.88h-1.74zM411.32 308.84h1.74v4.66h-1.74zM413.12 318.68h1.74v7.69h-1.74zM414.91 347.23h1.74v2.39h-1.74zM420.75 341.92h1.74v3.31h-1.74zM422.54 327.09h1.74v6.53h-1.74zM424.33 320.14h1.74v10.21h-1.74zM426.13 330.42h1.74v6.49h-1.74zM427.92 303.39h1.74v5.41h-1.74zM429.71 328.75h1.74v6.63h-1.74zM431.50 324.01h1.74v7.75h-1.74zM433.30 337.06h1.74v5.44h-1.74zM435.09 336.66h1.74v3.54h-1.74zM436.88 337.15h1.74v5.21h-1.74zM438.67 339.81h1.74v4.06h-1.74zM440.47 314.65h1.74v3.49h-1.74zM442.26 338.11h1.74v4.55h-1.74zM448.10 333.22h1.74v4.16h-1.74zM449.89 337.45h1.74v3.82h-1.74zM451.68 321.15h1.74v7.12h-1.74zM453.48 331.93h1.74v4.97h-1.74zM455.27 319.19h1.74v10.30h-1.74zM457.06 337.01h1.74v5.19h-1.74zM458.85 335.85h1.74v5.00h-1.74zM460.65 329.25h1.74v6.04h-1.74zM464.23 312.79h1.74v4.75h-1.74zM466.02 310.35h1.74v5.07h-1.74zM467.82 313.69h1.74v3.74h-1.74zM469.61 337.83h1.74v3.45h-1.74zM475.45 323.35h1.74v7.01h-1.74zM477.24 310.46h1.74v2.72h-1.74zM480.83 329.11h1.74v8.13h-1.74zM484.41 292.08h1.74v6.47h-1.74zM486.20 309.15h1.74v4.45h-1.74zM488.00 332.34h1.74v5.14h-1.74zM489.79 337.96h1.74v4.80h-1.74zM491.58 328.05h1.74v5.19h-1.74zM495.17 333.12h1.74v5.31h-1.74zM496.96 336.85h1.74v4.79h-1.74zM174.60 434.95h1.33v2.10h-1.33zM175.97 437.69h1.33v1.21h-1.33zM177.34 406.23h1.33v4.42h-1.33zM178.71 437.16h1.33v1.47h-1.33zM180.08 434.86h1.33v2.41h-1.33zM181.45 435.55h1.33v2.61h-1.33zM182.82 435.31h1.33v1.48h-1.33zM184.19 408.04h1.33v3.29h-1.33zM185.56 412.15h1.33v3.02h-1.33zM186.94 436.35h1.33v1.74h-1.33zM188.31 437.76h1.33v1.29h-1.33zM189.68 437.54h1.33v1.12h-1.33zM191.05 434.74h1.33v2.20h-1.33zM192.42 434.71h1.33v2.54h-1.33zM193.79 435.98h1.33v2.38h-1.33zM195.16 437.20h1.33v1.18h-1.33zM196.53 437.36h1.33v1.11h-1.33zM201.95 403.73h1.33v3.86h-1.33zM203.32 434.55h1.33v1.85h-1.33zM204.69 436.89h1.33v1.30h-1.33zM206.06 435.70h1.33v2.52h-1.33zM207.43 437.10h1.33v1.23h-1.33zM208.80 435.11h1.33v2.50h-1.33zM210.17 436.98h1.33v1.68h-1.33zM211.54 436.36h1.33v1.27h-1.33zM212.91 434.11h1.33v2.02h-1.33zM214.29 438.18h1.33v0.88h-1.33zM215.66 437.67h1.33v1.17h-1.33zM217.03 403.18h1.33v4.47h-1.33zM218.40 436.19h1.33v1.73h-1.33zM219.77 436.19h1.33v1.46h-1.33zM221.14 435.82h1.33v2.73h-1.33zM222.51 436.33h1.33v1.88h-1.33zM223.88 438.04h1.33v1.31h-1.33zM229.30 437.20h1.33v1.03h-1.33zM230.67 435.76h1.33v2.29h-1.33zM232.04 437.18h1.33v1.49h-1.33zM233.41 435.55h1.33v1.79h-1.33zM234.78 436.99h1.33v1.33h-1.33zM236.15 435.47h1.33v2.22h-1.33zM237.52 435.83h1.33v2.29h-1.33zM238.89 435.73h1.33v1.80h-1.33zM240.26 436.48h1.33v1.42h-1.33zM241.64 436.78h1.33v1.69h-1.33zM243.01 435.89h1.33v2.16h-1.33zM244.38 438.07h1.33v0.80h-1.33zM245.75 434.04h1.33v1.70h-1.33zM247.12 437.18h1.33v1.50h-1.33zM248.49 436.50h1.33v1.27h-1.33zM249.86 437.24h1.33v1.40h-1.33zM251.23 434.94h1.33v2.00h-1.33zM256.65 437.58h1.33v1.25h-1.33zM258.02 433.93h1.33v2.34h-1.33zM259.39 437.77h1.33v1.12h-1.33zM260.76 437.04h1.33v1.78h-1.33zM262.13 437.83h1.33v1.19h-1.33zM263.50 437.02h1.33v1.66h-1.33zM264.87 434.62h1.33v2.35h-1.33zM266.24 435.35h1.33v2.01h-1.33zM267.61 437.70h1.33v0.78h-1.33zM268.99 435.83h1.33v1.32h-1.33zM270.36 437.25h1.33v1.41h-1.33zM271.73 437.38h1.33v1.02h-1.33zM273.10 436.05h1.33v1.71h-1.33zM274.47 433.93h1.33v2.40h-1.33zM275.84 434.02h1.33v3.19h-1.33zM277.21 437.14h1.33v1.17h-1.33zM278.58 436.09h1.33v2.23h-1.33zM284.00 393.67h1.33v7.48h-1.33zM285.37 403.44h1.33v4.87h-1.33zM286.74 432.11h1.33v2.69h-1.33zM288.11 406.28h1.33v4.21h-1.33zM289.48 434.88h1.33v1.65h-1.33zM290.85 407.82h1.33v6.71h-1.33zM292.22 433.32h1.33v1.66h-1.33zM293.59 434.59h1.33v1.78h-1.33zM294.96 431.59h1.33v2.94h-1.33zM296.34 410.88h1.33v4.90h-1.33zM297.71 428.87h1.33v3.26h-1.33zM299.08 429.52h1.33v3.06h-1.33zM300.45 429.18h1.33v3.74h-1.33zM301.82 434.15h1.33v2.22h-1.33zM303.19 428.39h1.33v3.31h-1.33zM304.56 432.67h1.33v2.69h-1.33zM305.93 404.83h1.33v5.41h-1.33zM311.35 425.73h1.33v5.08h-1.33zM312.72 392.02h1.33v9.00h-1.33zM314.09 434.43h1.33v1.97h-1.33zM315.46 432.99h1.33v2.19h-1.33zM316.83 432.37h1.33v2.33h-1.33zM318.20 406.60h1.33v5.82h-1.33zM319.57 430.47h1.33v3.58h-1.33zM320.94 433.49h1.33v1.94h-1.33zM322.31 431.82h1.33v3.05h-1.33zM323.69 429.63h1.33v2.55h-1.33zM325.06 417.18h1.33v3.59h-1.33zM326.43 430.57h1.33v2.60h-1.33zM327.80 432.43h1.33v1.98h-1.33zM329.17 426.52h1.33v4.80h-1.33zM330.54 431.31h1.33v3.64h-1.33zM331.91 395.55h1.33v8.97h-1.33zM333.28 427.61h1.33v3.43h-1.33zM338.70 432.77h1.33v2.15h-1.33zM340.07 388.28h1.33v9.32h-1.33zM341.44 431.73h1.33v2.76h-1.33zM342.81 431.92h1.33v2.52h-1.33zM344.18 414.71h1.33v4.58h-1.33zM345.55 430.44h1.33v3.09h-1.33zM346.92 427.77h1.33v3.49h-1.33zM348.29 405.70h1.33v5.46h-1.33zM349.66 385.85h1.33v8.72h-1.33zM351.04 409.04h1.33v5.45h-1.33zM352.41 416.14h1.33v2.90h-1.33zM353.78 431.35h1.33v2.95h-1.33zM355.15 418.90h1.33v3.37h-1.33zM356.52 398.41h1.33v5.79h-1.33zM357.89 404.58h1.33v5.10h-1.33zM359.26 432.98h1.33v2.00h-1.33zM360.63 434.38h1.33v2.78h-1.33zM366.05 428.56h1.33v4.54h-1.33zM367.42 431.13h1.33v2.86h-1.33zM368.79 433.64h1.33v2.02h-1.33zM370.16 429.39h1.33v3.15h-1.33zM371.53 403.12h1.33v5.92h-1.33zM372.90 418.24h1.33v3.52h-1.33zM374.27 401.28h1.33v4.18h-1.33zM375.64 419.21h1.33v2.52h-1.33zM377.01 434.10h1.33v1.89h-1.33zM378.39 417.61h1.33v3.44h-1.33zM379.76 434.38h1.33v1.59h-1.33zM381.13 428.15h1.33v4.41h-1.33zM382.50 434.42h1.33v2.12h-1.33zM383.87 430.08h1.33v2.42h-1.33zM385.24 433.20h1.33v1.95h-1.33zM386.61 433.24h1.33v2.61h-1.33zM387.98 430.27h1.33v3.52h-1.33zM393.40 434.75h1.74v1.47h-1.74zM395.19 435.65h1.74v1.35h-1.74zM396.98 406.88h1.74v4.80h-1.74zM400.57 435.30h1.74v2.00h-1.74zM404.15 428.49h1.74v3.58h-1.74zM405.95 429.73h1.74v2.57h-1.74zM407.74 394.03h1.74v9.22h-1.74zM409.53 409.53h1.74v5.62h-1.74zM411.32 434.84h1.74v2.03h-1.74zM413.12 428.95h1.74v2.85h-1.74zM420.75 432.73h1.74v2.52h-1.74zM424.33 436.57h1.74v1.22h-1.74zM427.92 430.70h1.74v2.87h-1.74zM429.71 412.79h1.74v4.45h-1.74zM431.50 430.61h1.74v2.36h-1.74zM433.30 390.13h1.74v9.99h-1.74zM435.09 436.19h1.74v1.25h-1.74zM436.88 429.11h1.74v4.83h-1.74zM440.47 430.75h1.74v3.31h-1.74zM442.26 426.79h1.74v3.38h-1.74zM448.10 435.28h1.74v1.27h-1.74zM449.89 412.50h1.74v4.07h-1.74zM451.68 431.97h1.74v3.02h-1.74zM453.48 408.35h1.74v4.26h-1.74zM455.27 415.44h1.74v3.89h-1.74zM457.06 435.53h1.74v1.39h-1.74zM458.85 435.02h1.74v1.62h-1.74zM462.44 429.54h1.74v2.73h-1.74zM464.23 389.04h1.74v6.88h-1.74zM466.02 426.48h1.74v4.20h-1.74zM467.82 433.28h1.74v2.20h-1.74zM469.61 436.33h1.74v1.22h-1.74zM475.45 430.68h1.74v2.83h-1.74zM477.24 409.28h1.74v4.91h-1.74zM479.03 431.84h1.74v3.48h-1.74zM480.83 430.77h1.74v2.36h-1.74zM482.62 436.50h1.74v1.38h-1.74zM484.41 431.59h1.74v2.78h-1.74zM486.20 435.91h1.74v0.98h-1.74zM488.00 410.55h1.74v3.97h-1.74zM489.79 435.55h1.74v1.31h-1.74zM491.58 429.43h1.74v3.37h-1.74zM493.37 435.09h1.74v1.36h-1.74zM495.17 433.10h1.74v2.38h-1.74z"/>
<path fill="#3a70c2" d="M174.60 305.77h1.33v36.40h-1.33zM175.97 337.62h1.33v8.97h-1.33zM177.34 334.41h1.33v12.59h-1.33zM178.71 303.44h1.33v39.70h-1.33zM180.08 310.49h1.33v8.96h-1.33zM181.45 303.19h1.33v38.32h-1.33zM182.82 328.04h1.33v18.49h-1.33zM184.19 318.08h1.33v29.49h-1.33zM185.56 334.28h1.33v10.92h-1.33zM186.94 318.32h1.33v28.71h-1.33zM188.31 320.44h1.33v26.72h-1.33zM189.68 332.51h1.33v13.13h-1.33zM191.05 304.93h1.33v39.31h-1.33zM192.42 313.49h1.33v11.39h-1.33zM193.79 308.26h1.33v34.40h-1.33zM195.16 301.56h1.33v38.16h-1.33zM196.53 313.04h1.33v33.12h-1.33zM201.95 332.76h1.33v16.25h-1.33zM203.32 308.70h1.33v32.00h-1.33zM204.69 333.14h1.33v13.98h-1.33zM206.06 303.38h1.33v39.77h-1.33zM207.43 335.77h1.33v11.51h-1.33zM208.80 309.96h1.33v35.50h-1.33zM210.17 337.99h1.33v10.15h-1.33zM211.54 323.27h1.33v24.82h-1.33zM212.91 309.88h1.33v35.28h-1.33zM214.29 306.49h1.33v38.63h-1.33zM215.66 341.95h1.33v7.40h-1.33zM217.03 307.12h1.33v40.11h-1.33zM218.40 305.86h1.33v37.38h-1.33zM219.77 310.67h1.33v34.16h-1.33zM221.14 335.10h1.33v9.93h-1.33zM222.51 308.09h1.33v35.71h-1.33zM223.88 308.37h1.33v34.97h-1.33zM229.30 314.08h1.33v9.44h-1.33zM230.67 307.91h1.33v34.11h-1.33zM232.04 334.44h1.33v13.00h-1.33zM233.41 338.07h1.33v10.54h-1.33zM234.78 330.53h1.33v16.32h-1.33zM236.15 337.61h1.33v11.11h-1.33zM237.52 300.98h1.33v12.12h-1.33zM238.89 305.34h1.33v36.94h-1.33zM240.26 336.25h1.33v12.69h-1.33zM241.64 307.57h1.33v36.70h-1.33zM243.01 308.67h1.33v36.09h-1.33zM244.38 306.19h1.33v36.13h-1.33zM245.75 334.88h1.33v10.96h-1.33zM247.12 305.59h1.33v37.49h-1.33zM248.49 307.39h1.33v36.98h-1.33zM249.86 336.33h1.33v10.88h-1.33zM251.23 327.91h1.33v17.34h-1.33zM256.65 298.74h1.33v12.06h-1.33zM258.02 329.27h1.33v16.45h-1.33zM259.39 309.07h1.33v34.26h-1.33zM260.76 330.41h1.33v15.05h-1.33zM262.13 314.55h1.33v29.32h-1.33zM263.50 312.93h1.33v31.31h-1.33zM264.87 307.81h1.33v34.97h-1.33zM266.24 299.81h1.33v9.70h-1.33zM267.61 311.59h1.33v33.34h-1.33zM268.99 298.55h1.33v10.05h-1.33zM270.36 300.86h1.33v9.83h-1.33zM271.73 300.28h1.33v12.79h-1.33zM273.10 334.91h1.33v11.41h-1.33zM274.47 318.68h1.33v26.19h-1.33zM275.84 324.50h1.33v22.51h-1.33zM277.21 331.11h1.33v15.69h-1.33zM278.58 334.70h1.33v12.06h-1.33zM284.00 325.35h1.33v6.24h-1.33zM285.37 305.24h1.33v23.55h-1.33zM286.74 306.52h1.33v22.10h-1.33zM288.11 324.68h1.33v7.33h-1.33zM289.48 300.86h1.33v22.71h-1.33zM290.85 297.53h1.33v26.82h-1.33zM292.22 325.60h1.33v14.07h-1.33zM293.59 301.64h1.33v25.25h-1.33zM294.96 309.35h1.33v22.26h-1.33zM296.34 321.36h1.33v15.45h-1.33zM297.71 307.58h1.33v22.26h-1.33zM299.08 302.08h1.33v22.80h-1.33zM300.45 297.83h1.33v4.19h-1.33zM301.82 300.81h1.33v4.35h-1.33zM303.19 321.42h1.33v14.11h-1.33zM304.56 351.78h1.33v2.01h-1.33zM305.93 317.30h1.33v10.36h-1.33zM311.35 330.55h1.33v7.66h-1.33zM312.72 309.57h1.33v17.02h-1.33zM314.09 304.64h1.33v19.84h-1.33zM315.46 305.62h1.33v21.55h-1.33zM316.83 320.64h1.33v13.78h-1.33zM318.20 311.12h1.33v17.52h-1.33zM319.57 307.88h1.33v5.76h-1.33zM320.94 309.11h1.33v20.64h-1.33zM322.31 299.32h1.33v26.21h-1.33zM323.69 322.15h1.33v9.25h-1.33zM325.06 352.74h1.33v1.41h-1.33zM326.43 319.59h1.33v7.96h-1.33zM327.80 303.75h1.33v22.78h-1.33zM329.17 324.90h1.33v7.96h-1.33zM330.54 321.20h1.33v2.91h-1.33zM331.91 309.41h1.33v22.60h-1.33zM333.28 324.63h1.33v14.52h-1.33zM338.70 328.43h1.33v7.09h-1.33zM340.07 301.87h1.33v20.77h-1.33zM341.44 297.61h1.33v20.09h-1.33zM342.81 322.93h1.33v8.04h-1.33zM344.18 305.26h1.33v5.54h-1.33zM345.55 320.97h1.33v7.68h-1.33zM346.92 351.93h1.33v1.92h-1.33zM348.29 298.57h1.33v25.38h-1.33zM349.66 350.57h1.33v2.77h-1.33zM351.04 319.17h1.33v9.51h-1.33zM352.41 311.56h1.33v18.85h-1.33zM353.78 320.12h1.33v8.71h-1.33zM355.15 303.96h1.33v23.86h-1.33zM356.52 351.22h1.33v2.36h-1.33zM357.89 305.58h1.33v19.62h-1.33zM359.26 304.23h1.33v4.22h-1.33zM360.63 301.07h1.33v22.39h-1.33zM366.05 305.87h1.33v23.24h-1.33zM367.42 310.03h1.33v19.93h-1.33zM368.79 318.27h1.33v10.35h-1.33zM370.16 307.16h1.33v5.64h-1.33zM371.53 314.47h1.33v18.87h-1.33zM372.90 307.30h1.33v20.75h-1.33zM374.27 310.47h1.33v22.29h-1.33zM375.64 318.82h1.33v9.46h-1.33zM377.01 309.64h1.33v18.55h-1.33zM378.39 299.86h1.33v26.34h-1.33zM379.76 318.49h1.33v6.92h-1.33zM381.13 325.45h1.33v12.67h-1.33zM382.50 352.91h1.33v1.31h-1.33zM383.87 321.22h1.33v14.14h-1.33zM385.24 331.09h1.33v5.78h-1.33zM386.61 320.86h1.33v9.95h-1.33zM387.98 305.19h1.33v22.70h-1.33zM393.40 315.53h1.74v14.04h-1.74zM395.19 319.32h1.74v2.54h-1.74zM396.98 335.17h1.74v4.07h-1.74zM398.78 315.18h1.74v9.38h-1.74zM400.57 337.39h1.74v6.11h-1.74zM402.36 311.32h1.74v19.80h-1.74zM404.15 306.13h1.74v17.88h-1.74zM405.95 326.10h1.74v8.10h-1.74zM407.74 304.96h1.74v3.13h-1.74zM409.53 313.94h1.74v16.49h-1.74zM411.32 304.48h1.74v4.36h-1.74zM413.12 300.42h1.74v18.26h-1.74zM414.91 345.05h1.74v2.17h-1.74zM420.75 338.19h1.74v3.73h-1.74zM422.54 305.91h1.74v21.18h-1.74zM424.33 301.86h1.74v18.27h-1.74zM426.13 314.40h1.74v16.01h-1.74zM427.92 299.81h1.74v3.58h-1.74zM429.71 313.61h1.74v15.14h-1.74zM431.50 303.04h1.74v20.97h-1.74zM433.30 332.17h1.74v4.89h-1.74zM435.09 324.48h1.74v12.18h-1.74zM436.88 327.71h1.74v9.44h-1.74zM438.67 333.28h1.74v6.53h-1.74zM440.47 309.57h1.74v5.08h-1.74zM442.26 327.14h1.74v10.98h-1.74zM448.10 322.24h1.74v10.98h-1.74zM449.89 331.71h1.74v5.74h-1.74zM451.68 301.27h1.74v19.89h-1.74zM453.48 315.52h1.74v16.41h-1.74zM455.27 290.53h1.74v28.66h-1.74zM457.06 325.06h1.74v11.95h-1.74zM458.85 328.82h1.74v7.02h-1.74zM460.65 316.26h1.74v12.99h-1.74zM464.23 308.39h1.74v4.40h-1.74zM466.02 306.79h1.74v3.55h-1.74zM467.82 309.24h1.74v4.45h-1.74zM469.61 327.38h1.74v10.45h-1.74zM475.45 301.27h1.74v22.08h-1.74zM477.24 306.46h1.74v3.99h-1.74zM480.83 313.04h1.74v16.07h-1.74zM484.41 287.43h1.74v4.65h-1.74zM486.20 303.77h1.74v5.38h-1.74zM488.00 325.79h1.74v6.56h-1.74zM489.79 331.90h1.74v6.05h-1.74zM491.58 309.43h1.74v18.62h-1.74zM495.17 315.57h1.74v17.55h-1.74zM496.96 326.67h1.74v10.18h-1.74zM174.60 423.09h1.33v11.86h-1.33zM175.97 431.27h1.33v6.42h-1.33zM177.34 400.01h1.33v6.22h-1.33zM178.71 432.44h1.33v4.72h-1.33zM180.08 427.78h1.33v7.08h-1.33zM181.45 423.93h1.33v11.62h-1.33zM182.82 428.80h1.33v6.51h-1.33zM184.19 399.28h1.33v8.76h-1.33zM185.56 407.96h1.33v4.19h-1.33zM186.94 426.89h1.33v9.46h-1.33zM188.31 433.72h1.33v4.04h-1.33zM189.68 431.94h1.33v5.60h-1.33zM191.05 425.34h1.33v9.40h-1.33zM192.42 427.95h1.33v6.76h-1.33zM193.79 427.10h1.33v8.88h-1.33zM195.16 430.64h1.33v6.55h-1.33zM196.53 430.79h1.33v6.57h-1.33zM201.95 396.57h1.33v7.16h-1.33zM203.32 426.28h1.33v8.27h-1.33zM204.69 429.79h1.33v7.10h-1.33zM206.06 422.76h1.33v12.94h-1.33zM207.43 429.45h1.33v7.64h-1.33zM208.80 424.73h1.33v10.38h-1.33zM210.17 430.12h1.33v6.86h-1.33zM211.54 424.86h1.33v11.51h-1.33zM212.91 424.32h1.33v9.79h-1.33zM214.29 434.30h1.33v3.88h-1.33zM215.66 430.87h1.33v6.80h-1.33zM217.03 396.64h1.33v6.55h-1.33zM218.40 426.29h1.33v9.89h-1.33zM219.77 424.95h1.33v11.24h-1.33zM221.14 426.85h1.33v8.97h-1.33zM222.51 427.31h1.33v9.02h-1.33zM223.88 434.23h1.33v3.81h-1.33zM229.30 431.09h1.33v6.11h-1.33zM230.67 421.76h1.33v14.00h-1.33zM232.04 431.01h1.33v6.17h-1.33zM233.41 425.53h1.33v10.02h-1.33zM234.78 433.17h1.33v3.81h-1.33zM236.15 426.42h1.33v9.05h-1.33zM237.52 426.45h1.33v9.38h-1.33zM238.89 428.19h1.33v7.53h-1.33zM240.26 427.37h1.33v9.11h-1.33zM241.64 428.77h1.33v8.01h-1.33zM243.01 426.00h1.33v9.89h-1.33zM244.38 430.51h1.33v7.56h-1.33zM245.75 418.87h1.33v15.17h-1.33zM247.12 429.96h1.33v7.22h-1.33zM248.49 431.68h1.33v4.83h-1.33zM249.86 428.56h1.33v8.68h-1.33zM251.23 427.17h1.33v7.77h-1.33zM256.65 431.95h1.33v5.63h-1.33zM258.02 420.71h1.33v13.22h-1.33zM259.39 434.56h1.33v3.21h-1.33zM260.76 429.53h1.33v7.51h-1.33zM262.13 433.88h1.33v3.94h-1.33zM263.50 429.97h1.33v7.05h-1.33zM264.87 423.64h1.33v10.98h-1.33zM266.24 423.60h1.33v11.75h-1.33zM267.61 434.49h1.33v3.22h-1.33zM268.99 423.54h1.33v12.29h-1.33zM270.36 427.39h1.33v9.86h-1.33zM271.73 433.13h1.33v4.24h-1.33zM273.10 422.72h1.33v13.33h-1.33zM274.47 423.12h1.33v10.81h-1.33zM275.84 418.45h1.33v15.57h-1.33zM277.21 431.99h1.33v5.15h-1.33zM278.58 430.82h1.33v5.26h-1.33zM284.00 379.76h1.33v13.90h-1.33zM285.37 398.02h1.33v5.42h-1.33zM286.74 424.87h1.33v7.24h-1.33zM288.11 401.37h1.33v4.91h-1.33zM289.48 432.31h1.33v2.57h-1.33zM290.85 403.13h1.33v4.69h-1.33zM292.22 427.91h1.33v5.41h-1.33zM293.59 432.39h1.33v2.19h-1.33zM294.96 424.85h1.33v6.74h-1.33zM296.34 406.58h1.33v4.30h-1.33zM297.71 416.41h1.33v12.46h-1.33zM299.08 426.16h1.33v3.36h-1.33zM300.45 419.89h1.33v9.29h-1.33zM301.82 429.05h1.33v5.09h-1.33zM303.19 420.72h1.33v7.67h-1.33zM304.56 426.73h1.33v5.94h-1.33zM305.93 397.53h1.33v7.30h-1.33zM311.35 415.30h1.33v10.43h-1.33zM312.72 377.06h1.33v14.95h-1.33zM314.09 429.68h1.33v4.75h-1.33zM315.46 429.34h1.33v3.65h-1.33zM316.83 428.85h1.33v3.52h-1.33zM318.20 395.07h1.33v11.53h-1.33zM319.57 421.83h1.33v8.64h-1.33zM320.94 426.98h1.33v6.51h-1.33zM322.31 429.51h1.33v2.31h-1.33zM323.69 426.14h1.33v3.49h-1.33zM325.06 409.64h1.33v7.54h-1.33zM326.43 426.93h1.33v3.64h-1.33zM327.80 426.06h1.33v6.38h-1.33zM329.17 417.55h1.33v8.97h-1.33zM330.54 423.35h1.33v7.96h-1.33zM331.91 384.30h1.33v11.25h-1.33zM333.28 423.44h1.33v4.17h-1.33zM338.70 429.51h1.33v3.26h-1.33zM340.07 378.07h1.33v10.21h-1.33zM341.44 428.66h1.33v3.07h-1.33zM342.81 429.56h1.33v2.36h-1.33zM344.18 409.47h1.33v5.24h-1.33zM345.55 426.72h1.33v3.72h-1.33zM346.92 423.62h1.33v4.15h-1.33zM348.29 399.62h1.33v6.08h-1.33zM349.66 378.56h1.33v7.29h-1.33zM351.04 404.24h1.33v4.80h-1.33zM352.41 412.44h1.33v3.69h-1.33zM353.78 427.46h1.33v3.89h-1.33zM355.15 413.41h1.33v5.49h-1.33zM356.52 382.77h1.33v15.64h-1.33zM357.89 394.57h1.33v10.02h-1.33zM359.26 429.67h1.33v3.31h-1.33zM360.63 428.91h1.33v5.46h-1.33zM366.05 417.55h1.33v11.01h-1.33zM367.42 423.62h1.33v7.51h-1.33zM368.79 429.01h1.33v4.63h-1.33zM370.16 425.42h1.33v3.97h-1.33zM371.53 396.99h1.33v6.13h-1.33zM372.90 412.44h1.33v5.80h-1.33zM374.27 394.56h1.33v6.72h-1.33zM375.64 411.87h1.33v7.35h-1.33zM377.01 428.66h1.33v5.44h-1.33zM378.39 412.00h1.33v5.61h-1.33zM379.76 431.67h1.33v2.71h-1.33zM381.13 417.56h1.33v10.58h-1.33zM382.50 431.07h1.33v3.35h-1.33zM383.87 426.37h1.33v3.71h-1.33zM385.24 427.83h1.33v5.37h-1.33zM386.61 426.38h1.33v6.86h-1.33zM387.98 420.61h1.33v9.66h-1.33zM393.40 432.73h1.74v2.02h-1.74zM395.19 431.35h1.74v4.30h-1.74zM396.98 400.27h1.74v6.61h-1.74zM400.57 430.65h1.74v4.65h-1.74zM404.15 417.91h1.74v10.58h-1.74zM405.95 421.95h1.74v7.78h-1.74zM407.74 379.33h1.74v14.70h-1.74zM409.53 403.90h1.74v5.64h-1.74zM411.32 432.02h1.74v2.82h-1.74zM413.12 426.10h1.74v2.85h-1.74zM420.75 427.90h1.74v4.83h-1.74zM424.33 433.19h1.74v3.38h-1.74zM427.92 422.93h1.74v7.78h-1.74zM429.71 404.20h1.74v8.59h-1.74zM431.50 423.87h1.74v6.75h-1.74zM433.30 383.01h1.74v7.12h-1.74zM435.09 434.87h1.74v1.32h-1.74zM436.88 418.59h1.74v10.53h-1.74zM440.47 427.01h1.74v3.74h-1.74zM442.26 416.33h1.74v10.46h-1.74zM448.10 431.37h1.74v3.91h-1.74zM449.89 408.24h1.74v4.26h-1.74zM451.68 428.71h1.74v3.26h-1.74zM453.48 400.61h1.74v7.74h-1.74zM455.27 408.53h1.74v6.92h-1.74zM457.06 432.32h1.74v3.21h-1.74zM458.85 432.99h1.74v2.03h-1.74zM462.44 425.73h1.74v3.81h-1.74zM464.23 374.40h1.74v14.63h-1.74zM466.02 417.00h1.74v9.48h-1.74zM467.82 430.72h1.74v2.57h-1.74zM469.61 433.20h1.74v3.12h-1.74zM475.45 425.59h1.74v5.09h-1.74zM477.24 403.23h1.74v6.05h-1.74zM479.03 425.07h1.74v6.77h-1.74zM480.83 428.18h1.74v2.59h-1.74zM482.62 434.69h1.74v1.81h-1.74zM484.41 425.87h1.74v5.72h-1.74zM486.20 432.61h1.74v3.30h-1.74zM488.00 400.03h1.74v10.52h-1.74zM489.79 433.90h1.74v1.65h-1.74zM491.58 426.75h1.74v2.68h-1.74zM493.37 432.74h1.74v2.35h-1.74zM495.17 429.04h1.74v4.07h-1.74z"/>
<path fill="#2a4f8c" d="M174.60 300.61h1.33v5.16h-1.33zM175.97 303.34h1.33v34.28h-1.33zM177.34 300.12h1.33v34.29h-1.33zM178.71 298.97h1.33v4.47h-1.33zM180.08 308.99h1.33v1.50h-1.33zM181.45 301.47h1.33v1.72h-1.33zM182.82 315.77h1.33v12.26h-1.33zM184.19 312.22h1.33v5.86h-1.33zM185.56 300.83h1.33v33.45h-1.33zM186.94 313.02h1.33v5.30h-1.33zM188.31 318.70h1.33v1.75h-1.33zM189.68 300.87h1.33v31.64h-1.33zM191.05 297.97h1.33v6.96h-1.33zM192.42 312.10h1.33v1.39h-1.33zM193.79 302.17h1.33v6.10h-1.33zM195.16 299.33h1.33v2.22h-1.33zM196.53 306.67h1.33v6.37h-1.33zM201.95 301.27h1.33v31.49h-1.33zM203.32 303.78h1.33v4.92h-1.33zM204.69 319.86h1.33v13.27h-1.33zM206.06 297.91h1.33v5.47h-1.33zM207.43 310.71h1.33v25.06h-1.33zM208.80 305.81h1.33v4.15h-1.33zM210.17 324.07h1.33v13.91h-1.33zM211.54 319.05h1.33v4.22h-1.33zM212.91 304.93h1.33v4.95h-1.33zM214.29 301.89h1.33v4.60h-1.33zM215.66 331.49h1.33v10.47h-1.33zM217.03 304.03h1.33v3.09h-1.33zM218.40 300.91h1.33v4.95h-1.33zM219.77 306.90h1.33v3.77h-1.33zM221.14 299.20h1.33v35.90h-1.33zM222.51 302.72h1.33v5.37h-1.33zM223.88 305.70h1.33v2.67h-1.33zM229.30 312.88h1.33v1.20h-1.33zM230.67 300.97h1.33v6.94h-1.33zM232.04 302.52h1.33v31.91h-1.33zM233.41 315.36h1.33v22.71h-1.33zM234.78 296.04h1.33v34.49h-1.33zM236.15 327.24h1.33v10.38h-1.33zM237.52 299.32h1.33v1.66h-1.33zM238.89 302.76h1.33v2.57h-1.33zM240.26 315.63h1.33v20.62h-1.33zM241.64 305.25h1.33v2.32h-1.33zM243.01 304.46h1.33v4.22h-1.33zM244.38 299.97h1.33v6.22h-1.33zM245.75 298.89h1.33v35.98h-1.33zM247.12 299.10h1.33v6.49h-1.33zM248.49 305.24h1.33v2.15h-1.33zM249.86 299.06h1.33v37.26h-1.33zM251.23 300.06h1.33v27.85h-1.33zM256.65 296.87h1.33v1.87h-1.33zM258.02 297.06h1.33v32.21h-1.33zM259.39 304.65h1.33v4.42h-1.33zM260.76 297.81h1.33v32.60h-1.33zM262.13 309.76h1.33v4.79h-1.33zM263.50 306.35h1.33v6.59h-1.33zM264.87 302.63h1.33v5.18h-1.33zM266.24 297.94h1.33v1.88h-1.33zM267.61 305.11h1.33v6.49h-1.33zM268.99 296.60h1.33v1.95h-1.33zM270.36 298.97h1.33v1.89h-1.33zM271.73 298.50h1.33v1.78h-1.33zM273.10 300.37h1.33v34.54h-1.33zM274.47 313.01h1.33v5.67h-1.33zM275.84 320.02h1.33v4.48h-1.33zM277.21 299.05h1.33v32.07h-1.33zM278.58 303.21h1.33v31.49h-1.33zM284.00 319.52h1.33v5.84h-1.33zM285.37 300.28h1.33v4.96h-1.33zM286.74 304.48h1.33v2.03h-1.33zM288.11 315.17h1.33v9.51h-1.33zM289.48 297.86h1.33v3.00h-1.33zM290.85 293.86h1.33v3.67h-1.33zM292.22 323.82h1.33v1.78h-1.33zM293.59 298.53h1.33v3.11h-1.33zM294.96 304.48h1.33v4.87h-1.33zM296.34 319.67h1.33v1.69h-1.33zM297.71 303.98h1.33v3.60h-1.33zM299.08 297.96h1.33v4.11h-1.33zM300.45 297.51h1.33v0.32h-1.33zM301.82 300.04h1.33v0.77h-1.33zM303.19 318.87h1.33v2.55h-1.33zM304.56 348.77h1.33v3.02h-1.33zM305.93 308.62h1.33v8.68h-1.33zM311.35 325.26h1.33v5.29h-1.33zM312.72 305.53h1.33v4.04h-1.33zM314.09 301.94h1.33v2.69h-1.33zM315.46 300.13h1.33v5.49h-1.33zM316.83 317.96h1.33v2.68h-1.33zM318.20 308.06h1.33v3.05h-1.33zM319.57 305.59h1.33v2.29h-1.33zM320.94 303.92h1.33v5.19h-1.33zM322.31 297.11h1.33v2.21h-1.33zM323.69 315.66h1.33v6.49h-1.33zM325.06 350.62h1.33v2.12h-1.33zM326.43 311.64h1.33v7.96h-1.33zM327.80 299.80h1.33v3.95h-1.33zM329.17 317.48h1.33v7.42h-1.33zM330.54 320.64h1.33v0.56h-1.33zM331.91 305.86h1.33v3.55h-1.33zM333.28 323.11h1.33v1.52h-1.33zM338.70 323.02h1.33v5.40h-1.33zM340.07 298.38h1.33v3.50h-1.33zM341.44 294.08h1.33v3.53h-1.33zM342.81 317.15h1.33v5.78h-1.33zM344.18 303.82h1.33v1.44h-1.33zM345.55 311.24h1.33v9.73h-1.33zM346.92 349.05h1.33v2.88h-1.33zM348.29 294.00h1.33v4.57h-1.33zM349.66 346.42h1.33v4.15h-1.33zM351.04 308.11h1.33v11.06h-1.33zM352.41 309.13h1.33v2.44h-1.33zM353.78 313.34h1.33v6.78h-1.33zM355.15 302.00h1.33v1.97h-1.33zM356.52 347.67h1.33v3.55h-1.33zM357.89 300.34h1.33v5.24h-1.33zM359.26 303.04h1.33v1.20h-1.33zM360.63 298.28h1.33v2.78h-1.33zM366.05 302.03h1.33v3.84h-1.33zM367.42 305.52h1.33v4.52h-1.33zM368.79 311.78h1.33v6.49h-1.33zM370.16 304.73h1.33v2.43h-1.33zM371.53 309.67h1.33v4.80h-1.33zM372.90 304.63h1.33v2.67h-1.33zM374.27 308.74h1.33v1.73h-1.33zM375.64 308.01h1.33v10.80h-1.33zM377.01 305.40h1.33v4.23h-1.33zM378.39 295.26h1.33v4.60h-1.33zM379.76 307.90h1.33v10.59h-1.33zM381.13 322.92h1.33v2.53h-1.33zM382.50 350.95h1.33v1.96h-1.33zM383.87 318.45h1.33v2.77h-1.33zM385.24 323.68h1.33v7.42h-1.33zM386.61 310.89h1.33v9.98h-1.33zM387.98 301.28h1.33v3.91h-1.33zM393.40 311.98h1.74v3.55h-1.74zM395.19 319.24h1.74v0.08h-1.74zM396.98 330.82h1.74v4.35h-1.74zM398.78 299.98h1.74v15.19h-1.74zM400.57 336.45h1.74v0.94h-1.74zM402.36 307.65h1.74v3.67h-1.74zM404.15 303.43h1.74v2.70h-1.74zM405.95 317.19h1.74v8.91h-1.74zM407.74 304.07h1.74v0.89h-1.74zM409.53 309.47h1.74v4.47h-1.74zM411.32 304.42h1.74v0.06h-1.74zM413.12 295.02h1.74v5.40h-1.74zM414.91 341.27h1.74v3.78h-1.74zM420.75 333.01h1.74v5.17h-1.74zM422.54 301.94h1.74v3.97h-1.74zM424.33 299.10h1.74v2.76h-1.74zM426.13 312.58h1.74v1.82h-1.74zM427.92 297.98h1.74v1.83h-1.74zM429.71 311.79h1.74v1.82h-1.74zM431.50 300.70h1.74v2.34h-1.74zM433.30 325.71h1.74v6.46h-1.74zM435.09 321.28h1.74v3.20h-1.74zM436.88 325.83h1.74v1.87h-1.74zM438.67 326.58h1.74v6.71h-1.74zM440.47 309.19h1.74v0.38h-1.74zM442.26 325.03h1.74v2.11h-1.74zM448.10 319.37h1.74v2.87h-1.74zM449.89 326.43h1.74v5.28h-1.74zM451.68 298.85h1.74v2.42h-1.74zM453.48 311.77h1.74v3.75h-1.74zM455.27 286.61h1.74v3.93h-1.74zM457.06 323.10h1.74v1.96h-1.74zM458.85 323.64h1.74v5.18h-1.74zM460.65 313.60h1.74v2.66h-1.74zM464.23 307.40h1.74v0.99h-1.74zM466.02 305.02h1.74v1.78h-1.74zM467.82 308.88h1.74v0.36h-1.74zM469.61 325.82h1.74v1.56h-1.74zM475.45 295.35h1.74v5.92h-1.74zM477.24 304.77h1.74v1.69h-1.74zM480.83 309.98h1.74v3.06h-1.74zM484.41 285.09h1.74v2.34h-1.74zM486.20 301.13h1.74v2.63h-1.74zM488.00 317.23h1.74v8.55h-1.74zM489.79 325.49h1.74v6.41h-1.74zM491.58 307.17h1.74v2.26h-1.74zM495.17 313.99h1.74v1.58h-1.74zM496.96 324.98h1.74v1.69h-1.74zM174.60 421.95h1.33v1.14h-1.33zM175.97 429.98h1.33v1.28h-1.33zM177.34 397.58h1.33v2.43h-1.33zM178.71 427.15h1.33v5.29h-1.33zM180.08 419.32h1.33v8.47h-1.33zM181.45 422.84h1.33v1.10h-1.33zM182.82 422.06h1.33v6.73h-1.33zM184.19 397.17h1.33v2.12h-1.33zM185.56 406.32h1.33v1.64h-1.33zM186.94 426.14h1.33v0.74h-1.33zM188.31 429.33h1.33v4.39h-1.33zM189.68 426.03h1.33v5.91h-1.33zM191.05 423.79h1.33v1.55h-1.33zM192.42 418.93h1.33v9.02h-1.33zM193.79 425.49h1.33v1.62h-1.33zM195.16 429.33h1.33v1.31h-1.33zM196.53 429.60h1.33v1.19h-1.33zM201.95 394.54h1.33v2.03h-1.33zM203.32 417.50h1.33v8.78h-1.33zM204.69 423.89h1.33v5.90h-1.33zM206.06 420.58h1.33v2.18h-1.33zM207.43 420.54h1.33v8.91h-1.33zM208.80 423.19h1.33v1.54h-1.33zM210.17 429.20h1.33v0.92h-1.33zM211.54 424.04h1.33v0.82h-1.33zM212.91 423.37h1.33v0.95h-1.33zM214.29 428.46h1.33v5.85h-1.33zM215.66 424.75h1.33v6.12h-1.33zM217.03 395.13h1.33v1.50h-1.33zM218.40 425.66h1.33v0.63h-1.33zM219.77 423.70h1.33v1.25h-1.33zM221.14 425.20h1.33v1.66h-1.33zM222.51 426.00h1.33v1.31h-1.33zM223.88 429.01h1.33v5.21h-1.33zM229.30 429.86h1.33v1.23h-1.33zM230.67 419.84h1.33v1.93h-1.33zM232.04 423.16h1.33v7.85h-1.33zM233.41 424.77h1.33v0.76h-1.33zM234.78 428.64h1.33v4.54h-1.33zM236.15 418.75h1.33v7.67h-1.33zM237.52 424.88h1.33v1.57h-1.33zM238.89 420.09h1.33v8.10h-1.33zM240.26 426.19h1.33v1.18h-1.33zM241.64 428.20h1.33v0.57h-1.33zM243.01 424.89h1.33v1.11h-1.33zM244.38 429.47h1.33v1.04h-1.33zM245.75 417.63h1.33v1.24h-1.33zM247.12 428.91h1.33v1.05h-1.33zM248.49 426.59h1.33v5.09h-1.33zM249.86 427.62h1.33v0.94h-1.33zM251.23 418.96h1.33v8.21h-1.33zM256.65 426.83h1.33v5.12h-1.33zM258.02 417.64h1.33v3.08h-1.33zM259.39 429.20h1.33v5.36h-1.33zM260.76 421.92h1.33v7.61h-1.33zM262.13 429.01h1.33v4.88h-1.33zM263.50 423.13h1.33v6.84h-1.33zM264.87 421.78h1.33v1.85h-1.33zM266.24 422.90h1.33v0.70h-1.33zM267.61 429.12h1.33v5.36h-1.33zM268.99 421.16h1.33v2.38h-1.33zM270.36 426.05h1.33v1.34h-1.33zM271.73 427.65h1.33v5.48h-1.33zM273.10 421.73h1.33v0.99h-1.33zM274.47 420.83h1.33v2.29h-1.33zM275.84 416.90h1.33v1.56h-1.33zM277.21 425.73h1.33v6.25h-1.33zM278.58 424.41h1.33v6.41h-1.33zM284.00 377.48h1.33v2.28h-1.33zM285.37 396.02h1.33v2.00h-1.33zM286.74 423.24h1.33v1.63h-1.33zM288.11 399.37h1.33v2.00h-1.33zM289.48 429.48h1.33v2.83h-1.33zM290.85 400.05h1.33v3.08h-1.33zM292.22 426.48h1.33v1.43h-1.33zM293.59 429.58h1.33v2.82h-1.33zM294.96 423.50h1.33v1.35h-1.33zM296.34 404.66h1.33v1.92h-1.33zM297.71 414.80h1.33v1.61h-1.33zM299.08 423.72h1.33v2.44h-1.33zM300.45 417.93h1.33v1.96h-1.33zM301.82 428.38h1.33v0.67h-1.33zM303.19 418.70h1.33v2.02h-1.33zM304.56 425.63h1.33v1.10h-1.33zM305.93 393.47h1.33v4.06h-1.33zM311.35 414.15h1.33v1.15h-1.33zM312.72 371.52h1.33v5.55h-1.33zM314.09 428.86h1.33v0.82h-1.33zM315.46 426.85h1.33v2.49h-1.33zM316.83 425.26h1.33v3.60h-1.33zM318.20 391.82h1.33v3.24h-1.33zM319.57 419.86h1.33v1.97h-1.33zM320.94 425.66h1.33v1.32h-1.33zM322.31 426.56h1.33v2.95h-1.33zM323.69 421.61h1.33v4.53h-1.33zM325.06 407.24h1.33v2.41h-1.33zM326.43 422.11h1.33v4.82h-1.33zM327.80 424.75h1.33v1.30h-1.33zM329.17 416.34h1.33v1.22h-1.33zM330.54 422.06h1.33v1.29h-1.33zM331.91 381.08h1.33v3.22h-1.33zM333.28 419.23h1.33v4.22h-1.33zM338.70 426.98h1.33v2.53h-1.33zM340.07 373.39h1.33v4.68h-1.33zM341.44 424.72h1.33v3.95h-1.33zM342.81 426.86h1.33v2.70h-1.33zM344.18 407.51h1.33v1.96h-1.33zM345.55 421.93h1.33v4.79h-1.33zM346.92 419.56h1.33v4.06h-1.33zM348.29 396.61h1.33v3.01h-1.33zM349.66 375.61h1.33v2.95h-1.33zM351.04 401.98h1.33v2.26h-1.33zM352.41 411.37h1.33v1.08h-1.33zM353.78 424.93h1.33v2.53h-1.33zM355.15 411.08h1.33v2.33h-1.33zM356.52 379.76h1.33v3.01h-1.33zM357.89 392.58h1.33v1.98h-1.33zM359.26 427.60h1.33v2.07h-1.33zM360.63 427.63h1.33v1.29h-1.33zM366.05 415.93h1.33v1.62h-1.33zM367.42 422.71h1.33v0.91h-1.33zM368.79 427.77h1.33v1.24h-1.33zM370.16 421.55h1.33v3.87h-1.33zM371.53 392.90h1.33v4.09h-1.33zM372.90 410.99h1.33v1.45h-1.33zM374.27 390.71h1.33v3.85h-1.33zM375.64 410.96h1.33v0.91h-1.33zM377.01 427.67h1.33v0.99h-1.33zM378.39 410.55h1.33v1.45h-1.33zM379.76 429.62h1.33v2.05h-1.33zM381.13 416.45h1.33v1.11h-1.33zM382.50 428.81h1.33v2.26h-1.33zM383.87 423.09h1.33v3.28h-1.33zM385.24 426.34h1.33v1.49h-1.33zM386.61 425.15h1.33v1.23h-1.33zM387.98 419.51h1.33v1.09h-1.33zM393.40 430.71h1.74v2.02h-1.74zM395.19 430.45h1.74v0.89h-1.74zM396.98 398.57h1.74v1.69h-1.74zM400.57 430.02h1.74v0.64h-1.74zM404.15 415.44h1.74v2.46h-1.74zM405.95 419.97h1.74v1.98h-1.74zM407.74 375.64h1.74v3.69h-1.74zM409.53 400.65h1.74v3.25h-1.74zM411.32 430.23h1.74v1.79h-1.74zM413.12 423.25h1.74v2.86h-1.74zM420.75 426.60h1.74v1.30h-1.74zM424.33 432.70h1.74v0.49h-1.74zM427.92 421.47h1.74v1.46h-1.74zM429.71 401.69h1.74v2.51h-1.74zM431.50 422.58h1.74v1.29h-1.74zM433.30 379.68h1.74v3.33h-1.74zM435.09 433.48h1.74v1.40h-1.74zM436.88 417.47h1.74v1.12h-1.74zM440.47 423.70h1.74v3.31h-1.74zM442.26 413.92h1.74v2.41h-1.74zM448.10 430.77h1.74v0.60h-1.74zM449.89 406.99h1.74v1.26h-1.74zM451.68 426.42h1.74v2.29h-1.74zM453.48 398.69h1.74v1.91h-1.74zM455.27 407.02h1.74v1.51h-1.74zM457.06 431.83h1.74v0.49h-1.74zM458.85 431.33h1.74v1.66h-1.74zM462.44 422.11h1.74v3.63h-1.74zM464.23 371.62h1.74v2.78h-1.74zM466.02 415.37h1.74v1.63h-1.74zM467.82 427.79h1.74v2.93h-1.74zM469.61 432.58h1.74v0.62h-1.74zM475.45 422.70h1.74v2.89h-1.74zM477.24 400.44h1.74v2.78h-1.74zM479.03 424.13h1.74v0.94h-1.74zM480.83 425.44h1.74v2.74h-1.74zM482.62 433.23h1.74v1.46h-1.74zM484.41 425.11h1.74v0.76h-1.74zM486.20 432.02h1.74v0.59h-1.74zM488.00 398.00h1.74v2.03h-1.74zM489.79 432.36h1.74v1.54h-1.74zM491.58 422.18h1.74v4.56h-1.74zM493.37 430.44h1.74v2.31h-1.74zM495.17 428.32h1.74v0.72h-1.74z"/>
<path fill="#2c1a5a" d="M174.60 294.48h1.33v6.13h-1.33zM175.97 298.91h1.33v4.43h-1.33zM177.34 299.95h1.33v0.17h-1.33zM178.71 295.06h1.33v3.91h-1.33zM180.08 307.99h1.33v1.00h-1.33zM181.45 298.22h1.33v3.25h-1.33zM182.82 294.08h1.33v21.70h-1.33zM184.19 309.10h1.33v3.12h-1.33zM185.56 299.72h1.33v1.11h-1.33zM186.94 308.48h1.33v4.53h-1.33zM188.31 316.44h1.33v2.26h-1.33zM189.68 296.78h1.33v4.09h-1.33zM191.05 294.59h1.33v3.38h-1.33zM192.42 311.18h1.33v0.93h-1.33zM193.79 299.24h1.33v2.93h-1.33zM195.16 294.99h1.33v4.34h-1.33zM196.53 299.82h1.33v6.85h-1.33zM201.95 296.90h1.33v4.37h-1.33zM203.32 297.63h1.33v6.15h-1.33zM204.69 296.05h1.33v23.81h-1.33zM206.06 294.91h1.33v2.99h-1.33zM207.43 307.45h1.33v3.26h-1.33zM208.80 300.86h1.33v4.95h-1.33zM210.17 301.00h1.33v23.08h-1.33zM211.54 314.91h1.33v4.15h-1.33zM212.91 298.82h1.33v6.11h-1.33zM214.29 297.86h1.33v4.03h-1.33zM215.66 313.22h1.33v18.27h-1.33zM217.03 300.94h1.33v3.09h-1.33zM218.40 297.89h1.33v3.02h-1.33zM219.77 301.00h1.33v5.90h-1.33zM221.14 295.68h1.33v3.52h-1.33zM222.51 296.61h1.33v6.10h-1.33zM223.88 299.61h1.33v6.09h-1.33zM229.30 312.08h1.33v0.80h-1.33zM230.67 297.93h1.33v3.04h-1.33zM232.04 298.69h1.33v3.84h-1.33zM233.41 312.67h1.33v2.68h-1.33zM234.78 295.06h1.33v0.98h-1.33zM236.15 312.25h1.33v14.99h-1.33zM237.52 298.22h1.33v1.11h-1.33zM238.89 298.12h1.33v4.64h-1.33zM240.26 312.89h1.33v2.74h-1.33zM241.64 299.45h1.33v5.79h-1.33zM243.01 299.29h1.33v5.17h-1.33zM244.38 296.57h1.33v3.40h-1.33zM245.75 294.63h1.33v4.26h-1.33zM247.12 295.89h1.33v3.21h-1.33zM248.49 300.95h1.33v4.29h-1.33zM249.86 296.18h1.33v2.88h-1.33zM251.23 299.76h1.33v0.30h-1.33zM256.65 295.62h1.33v1.25h-1.33zM258.02 296.07h1.33v0.98h-1.33zM259.39 300.97h1.33v3.69h-1.33zM260.76 294.06h1.33v3.75h-1.33zM262.13 307.45h1.33v2.30h-1.33zM263.50 301.00h1.33v5.34h-1.33zM264.87 297.01h1.33v5.62h-1.33zM266.24 296.68h1.33v1.25h-1.33zM267.61 300.37h1.33v4.73h-1.33zM268.99 295.30h1.33v1.30h-1.33zM270.36 297.71h1.33v1.26h-1.33zM271.73 297.32h1.33v1.19h-1.33zM273.10 295.96h1.33v4.40h-1.33zM274.47 309.23h1.33v3.78h-1.33zM275.84 316.03h1.33v3.99h-1.33zM277.21 296.62h1.33v2.42h-1.33zM278.58 299.21h1.33v4.00h-1.33zM284.00 305.61h1.33v13.90h-1.33zM285.37 297.38h1.33v2.91h-1.33zM286.74 303.12h1.33v1.36h-1.33zM288.11 297.41h1.33v17.76h-1.33zM289.48 294.59h1.33v3.27h-1.33zM290.85 291.73h1.33v2.13h-1.33zM292.22 322.03h1.33v1.78h-1.33zM293.59 296.92h1.33v1.61h-1.33zM294.96 301.61h1.33v2.87h-1.33zM296.34 318.45h1.33v1.23h-1.33zM297.71 301.15h1.33v2.84h-1.33zM299.08 295.38h1.33v2.58h-1.33zM300.45 294.66h1.33v2.85h-1.33zM301.82 297.36h1.33v2.68h-1.33zM303.19 317.03h1.33v1.84h-1.33zM304.56 344.75h1.33v4.02h-1.33zM305.93 293.88h1.33v14.74h-1.33zM311.35 316.59h1.33v8.66h-1.33zM312.72 302.79h1.33v2.74h-1.33zM314.09 300.14h1.33v1.80h-1.33zM315.46 297.99h1.33v2.15h-1.33zM316.83 315.68h1.33v2.29h-1.33zM318.20 306.63h1.33v1.43h-1.33zM319.57 303.65h1.33v1.94h-1.33zM320.94 302.32h1.33v1.60h-1.33zM322.31 295.20h1.33v1.91h-1.33zM323.69 299.81h1.33v15.85h-1.33zM325.06 347.79h1.33v2.83h-1.33zM326.43 298.80h1.33v12.83h-1.33zM327.80 296.08h1.33v3.72h-1.33zM329.17 307.22h1.33v10.26h-1.33zM330.54 320.00h1.33v0.64h-1.33zM331.91 303.35h1.33v2.50h-1.33zM333.28 321.82h1.33v1.29h-1.33zM338.70 305.99h1.33v17.03h-1.33zM340.07 297.15h1.33v1.22h-1.33zM341.44 291.85h1.33v2.23h-1.33zM342.81 301.43h1.33v15.72h-1.33zM344.18 301.83h1.33v1.99h-1.33zM345.55 292.43h1.33v18.80h-1.33zM346.92 345.22h1.33v3.84h-1.33zM348.29 291.98h1.33v2.02h-1.33zM349.66 340.88h1.33v5.54h-1.33zM351.04 294.34h1.33v13.76h-1.33zM352.41 306.91h1.33v2.21h-1.33zM353.78 298.03h1.33v15.30h-1.33zM355.15 299.18h1.33v2.82h-1.33zM356.52 342.95h1.33v4.73h-1.33zM357.89 297.53h1.33v2.82h-1.33zM359.26 300.54h1.33v2.50h-1.33zM360.63 295.91h1.33v2.37h-1.33zM366.05 300.33h1.33v1.70h-1.33zM367.42 303.68h1.33v1.84h-1.33zM368.79 295.58h1.33v16.21h-1.33zM370.16 303.55h1.33v1.18h-1.33zM371.53 306.69h1.33v2.97h-1.33zM372.90 302.74h1.33v1.90h-1.33zM374.27 307.49h1.33v1.25h-1.33zM375.64 293.14h1.33v14.87h-1.33zM377.01 302.55h1.33v2.86h-1.33zM378.39 293.39h1.33v1.86h-1.33zM379.76 291.83h1.33v16.07h-1.33zM381.13 321.90h1.33v1.02h-1.33zM382.50 348.34h1.33v2.61h-1.33zM383.87 317.18h1.33v1.27h-1.33zM385.24 315.08h1.33v8.59h-1.33zM386.61 297.78h1.33v13.11h-1.33zM387.98 298.22h1.33v3.06h-1.33zM393.40 311.03h1.74v0.95h-1.74zM395.19 318.63h1.74v0.61h-1.74zM396.98 323.05h1.74v7.77h-1.74zM398.78 284.07h1.74v15.91h-1.74zM400.57 335.34h1.74v1.11h-1.74zM402.36 305.48h1.74v2.17h-1.74zM404.15 300.44h1.74v2.99h-1.74zM405.95 303.39h1.74v13.80h-1.74zM407.74 303.60h1.74v0.47h-1.74zM409.53 307.35h1.74v2.12h-1.74zM411.32 303.79h1.74v0.62h-1.74zM413.12 293.08h1.74v1.94h-1.74zM414.91 336.28h1.74v4.99h-1.74zM420.75 326.37h1.74v6.64h-1.74zM422.54 300.60h1.74v1.34h-1.74zM424.33 297.25h1.74v1.85h-1.74zM426.13 310.90h1.74v1.68h-1.74zM427.92 297.72h1.74v0.26h-1.74zM429.71 310.19h1.74v1.60h-1.74zM431.50 298.20h1.74v2.50h-1.74zM433.30 316.14h1.74v9.57h-1.74zM435.09 319.81h1.74v1.47h-1.74zM436.88 324.29h1.74v1.54h-1.74zM438.67 317.40h1.74v9.18h-1.74zM440.47 308.69h1.74v0.49h-1.74zM442.26 323.53h1.74v1.50h-1.74zM448.10 318.35h1.74v1.02h-1.74zM449.89 316.36h1.74v10.08h-1.74zM451.68 296.54h1.74v2.31h-1.74zM453.48 310.02h1.74v1.75h-1.74zM455.27 283.28h1.74v3.32h-1.74zM457.06 322.06h1.74v1.04h-1.74zM458.85 314.07h1.74v9.58h-1.74zM460.65 312.32h1.74v1.28h-1.74zM464.23 304.84h1.74v2.56h-1.74zM466.02 303.62h1.74v1.40h-1.74zM467.82 307.91h1.74v0.97h-1.74zM469.61 324.97h1.74v0.85h-1.74zM475.45 293.69h1.74v1.66h-1.74zM477.24 303.17h1.74v1.60h-1.74zM480.83 309.03h1.74v0.95h-1.74zM484.41 284.25h1.74v0.83h-1.74zM486.20 299.95h1.74v1.18h-1.74zM488.00 305.85h1.74v11.38h-1.74zM489.79 316.46h1.74v9.03h-1.74zM491.58 305.01h1.74v2.16h-1.74zM495.17 312.21h1.74v1.78h-1.74zM496.96 323.88h1.74v1.10h-1.74zM174.60 419.97h1.33v1.98h-1.33zM175.97 429.39h1.33v0.59h-1.33zM177.34 397.41h1.33v0.17h-1.33zM178.71 426.50h1.33v0.65h-1.33zM180.08 417.39h1.33v1.93h-1.33zM181.45 420.63h1.33v2.20h-1.33zM182.82 421.99h1.33v0.08h-1.33zM184.19 395.88h1.33v1.28h-1.33zM185.56 405.87h1.33v0.45h-1.33zM186.94 425.34h1.33v0.81h-1.33zM188.31 428.01h1.33v1.33h-1.33zM189.68 424.69h1.33v1.33h-1.33zM191.05 422.60h1.33v1.19h-1.33zM192.42 417.61h1.33v1.32h-1.33zM193.79 423.85h1.33v1.64h-1.33zM195.16 427.96h1.33v1.37h-1.33zM196.53 428.43h1.33v1.17h-1.33zM201.95 394.04h1.33v0.50h-1.33zM203.32 415.95h1.33v1.55h-1.33zM204.69 423.23h1.33v0.66h-1.33zM206.06 419.23h1.33v1.36h-1.33zM207.43 418.74h1.33v1.81h-1.33zM208.80 422.18h1.33v1.02h-1.33zM210.17 428.59h1.33v0.61h-1.33zM211.54 421.86h1.33v2.18h-1.33zM212.91 421.08h1.33v2.28h-1.33zM214.29 427.61h1.33v0.84h-1.33zM215.66 423.89h1.33v0.86h-1.33zM217.03 394.09h1.33v1.04h-1.33zM218.40 423.71h1.33v1.96h-1.33zM219.77 422.01h1.33v1.69h-1.33zM221.14 422.87h1.33v2.32h-1.33zM222.51 424.57h1.33v1.43h-1.33zM223.88 428.53h1.33v0.49h-1.33zM229.30 428.63h1.33v1.23h-1.33zM230.67 418.92h1.33v0.92h-1.33zM232.04 421.55h1.33v1.61h-1.33zM233.41 423.54h1.33v1.22h-1.33zM234.78 428.20h1.33v0.44h-1.33zM236.15 416.64h1.33v2.10h-1.33zM237.52 423.67h1.33v1.21h-1.33zM238.89 419.22h1.33v0.87h-1.33zM240.26 424.29h1.33v1.90h-1.33zM241.64 426.51h1.33v1.69h-1.33zM243.01 423.66h1.33v1.24h-1.33zM244.38 428.39h1.33v1.08h-1.33zM245.75 416.23h1.33v1.40h-1.33zM247.12 428.13h1.33v0.79h-1.33zM248.49 425.69h1.33v0.90h-1.33zM249.86 426.23h1.33v1.38h-1.33zM251.23 417.54h1.33v1.42h-1.33zM256.65 426.13h1.33v0.69h-1.33zM258.02 416.34h1.33v1.30h-1.33zM259.39 428.83h1.33v0.37h-1.33zM260.76 420.31h1.33v1.62h-1.33zM262.13 428.75h1.33v0.26h-1.33zM263.50 422.89h1.33v0.24h-1.33zM264.87 419.80h1.33v1.98h-1.33zM266.24 421.39h1.33v1.51h-1.33zM267.61 428.26h1.33v0.87h-1.33zM268.99 419.00h1.33v2.15h-1.33zM270.36 424.89h1.33v1.16h-1.33zM271.73 426.50h1.33v1.15h-1.33zM273.10 420.48h1.33v1.25h-1.33zM274.47 419.45h1.33v1.38h-1.33zM275.84 415.67h1.33v1.22h-1.33zM277.21 425.01h1.33v0.72h-1.33zM278.58 422.71h1.33v1.70h-1.33zM284.00 376.67h1.33v0.81h-1.33zM285.37 394.27h1.33v1.75h-1.33zM286.74 421.59h1.33v1.65h-1.33zM288.11 397.92h1.33v1.44h-1.33zM289.48 425.61h1.33v3.86h-1.33zM290.85 399.05h1.33v1.00h-1.33zM292.22 425.34h1.33v1.14h-1.33zM293.59 425.14h1.33v4.44h-1.33zM294.96 422.24h1.33v1.26h-1.33zM296.34 403.30h1.33v1.37h-1.33zM297.71 413.51h1.33v1.29h-1.33zM299.08 417.04h1.33v6.68h-1.33zM300.45 415.48h1.33v2.45h-1.33zM301.82 427.24h1.33v1.14h-1.33zM303.19 417.13h1.33v1.57h-1.33zM304.56 424.44h1.33v1.19h-1.33zM305.93 392.90h1.33v0.57h-1.33zM311.35 412.04h1.33v2.11h-1.33zM312.72 369.51h1.33v2.01h-1.33zM314.09 427.80h1.33v1.06h-1.33zM315.46 420.80h1.33v6.05h-1.33zM316.83 417.97h1.33v7.28h-1.33zM318.20 390.88h1.33v0.94h-1.33zM319.57 418.58h1.33v1.28h-1.33zM320.94 423.87h1.33v1.79h-1.33zM322.31 420.32h1.33v6.24h-1.33zM323.69 415.28h1.33v6.33h-1.33zM325.06 406.53h1.33v0.71h-1.33zM326.43 413.89h1.33v8.22h-1.33zM327.80 423.27h1.33v1.48h-1.33zM329.17 414.42h1.33v1.92h-1.33zM330.54 420.66h1.33v1.40h-1.33zM331.91 379.68h1.33v1.40h-1.33zM333.28 412.05h1.33v7.17h-1.33zM338.70 422.53h1.33v4.45h-1.33zM340.07 370.67h1.33v2.72h-1.33zM341.44 419.71h1.33v5.01h-1.33zM342.81 420.12h1.33v6.74h-1.33zM344.18 406.47h1.33v1.04h-1.33zM345.55 416.62h1.33v5.31h-1.33zM346.92 413.44h1.33v6.11h-1.33zM348.29 395.42h1.33v1.19h-1.33zM349.66 373.59h1.33v2.02h-1.33zM351.04 400.61h1.33v1.38h-1.33zM352.41 410.31h1.33v1.06h-1.33zM353.78 418.55h1.33v6.38h-1.33zM355.15 410.18h1.33v0.89h-1.33zM356.52 378.28h1.33v1.48h-1.33zM357.89 390.81h1.33v1.77h-1.33zM359.26 421.23h1.33v6.36h-1.33zM360.63 427.01h1.33v0.61h-1.33zM366.05 414.08h1.33v1.85h-1.33zM367.42 421.41h1.33v1.30h-1.33zM368.79 426.63h1.33v1.14h-1.33zM370.16 414.18h1.33v7.37h-1.33zM371.53 391.23h1.33v1.68h-1.33zM372.90 410.39h1.33v0.60h-1.33zM374.27 389.42h1.33v1.29h-1.33zM375.64 410.53h1.33v0.43h-1.33zM377.01 426.68h1.33v0.98h-1.33zM378.39 409.71h1.33v0.84h-1.33zM379.76 424.33h1.33v5.29h-1.33zM381.13 415.37h1.33v1.08h-1.33zM382.50 424.72h1.33v4.09h-1.33zM383.87 415.41h1.33v7.68h-1.33zM385.24 425.08h1.33v1.26h-1.33zM386.61 423.96h1.33v1.19h-1.33zM387.98 418.45h1.33v1.06h-1.33zM393.40 426.47h1.74v4.24h-1.74zM395.19 429.27h1.74v1.19h-1.74zM396.98 398.00h1.74v0.58h-1.74zM400.57 429.05h1.74v0.97h-1.74zM404.15 414.34h1.74v1.11h-1.74zM405.95 418.11h1.74v1.86h-1.74zM407.74 373.35h1.74v2.30h-1.74zM409.53 400.09h1.74v0.56h-1.74zM411.32 426.62h1.74v3.61h-1.74zM413.12 416.14h1.74v7.10h-1.74zM420.75 425.13h1.74v1.47h-1.74zM424.33 432.33h1.74v0.37h-1.74zM427.92 419.68h1.74v1.78h-1.74zM429.71 400.55h1.74v1.14h-1.74zM431.50 420.96h1.74v1.62h-1.74zM433.30 378.86h1.74v0.82h-1.74zM435.09 430.07h1.74v3.40h-1.74zM436.88 415.41h1.74v2.05h-1.74zM440.47 415.12h1.74v8.58h-1.74zM442.26 411.68h1.74v2.24h-1.74zM448.10 430.26h1.74v0.51h-1.74zM449.89 406.44h1.74v0.55h-1.74zM451.68 420.22h1.74v6.20h-1.74zM453.48 397.82h1.74v0.88h-1.74zM455.27 406.13h1.74v0.89h-1.74zM457.06 431.04h1.74v0.79h-1.74zM458.85 427.97h1.74v3.36h-1.74zM462.44 412.84h1.74v9.27h-1.74zM464.23 370.60h1.74v1.02h-1.74zM466.02 413.30h1.74v2.07h-1.74zM467.82 422.49h1.74v5.30h-1.74zM469.61 432.10h1.74v0.48h-1.74zM475.45 416.21h1.74v6.49h-1.74zM477.24 399.87h1.74v0.58h-1.74zM479.03 422.44h1.74v1.70h-1.74zM480.83 418.00h1.74v7.45h-1.74zM482.62 430.50h1.74v2.73h-1.74zM484.41 423.98h1.74v1.12h-1.74zM486.20 431.46h1.74v0.56h-1.74zM488.00 396.44h1.74v1.55h-1.74zM489.79 429.28h1.74v3.08h-1.74zM491.58 416.91h1.74v5.27h-1.74zM493.37 427.02h1.74v3.42h-1.74zM495.17 427.22h1.74v1.10h-1.74z"/>
<text x="208.90" y="464.80" font-size="7.9" text-anchor="middle" fill="#222" font-weight="normal" stroke="#222" stroke-width="0.15" >Productive frequency interval</text>
<rect x="267.60" y="449.80" width="10.60" height="10.60" fill="#2c1a5a" stroke="#1a0a35" stroke-width="1.0" />
<text x="282.00" y="457.90" font-size="8.25" text-anchor="start" fill="#222" font-weight="normal" stroke="#222" stroke-width="0.15" >(0% - 0.005%]</text>
<rect x="267.60" y="464.30" width="10.60" height="10.60" fill="#2a4f8c" stroke="#1c3060" stroke-width="1.0" />
<text x="282.00" y="472.40" font-size="8.25" text-anchor="start" fill="#222" font-weight="normal" stroke="#222" stroke-width="0.15" >(0.005% - 0.01%]</text>
<rect x="357.00" y="449.80" width="10.60" height="10.60" fill="#3a70c2" stroke="#2d5a9e" stroke-width="1.0" />
<text x="372.20" y="457.90" font-size="8.25" text-anchor="start" fill="#222" font-weight="normal" stroke="#222" stroke-width="0.15" >(0.01% - 0.1%]</text>
<rect x="357.00" y="464.30" width="10.60" height="10.60" fill="#8a8ed0" stroke="#6e70aa" stroke-width="1.0" />
<text x="372.20" y="472.40" font-size="8.25" text-anchor="start" fill="#222" font-weight="normal" stroke="#222" stroke-width="0.15" >(0.1% - 0.5%]</text>
<rect x="437.10" y="449.80" width="10.60" height="10.60" fill="#b4b4e0" stroke="#9a9ac8" stroke-width="1.0" />
<text x="452.00" y="457.90" font-size="8.25" text-anchor="start" fill="#222" font-weight="normal" stroke="#222" stroke-width="0.15" >(0.5% - 1%]</text>
<rect x="437.10" y="464.30" width="10.60" height="10.60" fill="#e2e2f2" stroke="#d0d0e6" stroke-width="1.0" />
<text x="452.00" y="472.40" font-size="8.25" text-anchor="start" fill="#222" font-weight="normal" stroke="#222" stroke-width="0.15" >(1% - Inf]</text>
<line x1="63.50" y1="549.50" x2="63.50" y2="686.20" stroke="#262626" stroke-width="1.25" />
<line x1="63.00" y1="685.70" x2="133.70" y2="685.70" stroke="#262626" stroke-width="1.25" />
<line x1="71.80" y1="685.70" x2="71.80" y2="688.70" stroke="#262626" stroke-width="1.25" />
<text x="71.80" y="699.90" font-size="8.7" text-anchor="middle" fill="#222" font-weight="normal" stroke="#222" stroke-width="0.15" >t0</text>
<line x1="85.30" y1="685.70" x2="85.30" y2="688.70" stroke="#262626" stroke-width="1.25" />
<text x="85.30" y="699.90" font-size="8.7" text-anchor="middle" fill="#222" font-weight="normal" stroke="#222" stroke-width="0.15" >t3</text>
<line x1="98.60" y1="685.70" x2="98.60" y2="688.70" stroke="#262626" stroke-width="1.25" />
<text x="98.60" y="699.90" font-size="8.7" text-anchor="middle" fill="#222" font-weight="normal" stroke="#222" stroke-width="0.15" >t6</text>
<line x1="112.10" y1="685.70" x2="112.10" y2="688.70" stroke="#262626" stroke-width="1.25" />
<text x="112.10" y="699.90" font-size="8.7" text-anchor="middle" fill="#222" font-weight="normal" stroke="#222" stroke-width="0.15" >t9</text>
<line x1="125.40" y1="685.70" x2="125.40" y2="688.70" stroke="#262626" stroke-width="1.25" />
<text x="125.40" y="699.90" font-size="8.7" text-anchor="middle" fill="#222" font-weight="normal" stroke="#222" stroke-width="0.15" >t12</text>
<text x="98.60" y="539.30" font-size="10.1" text-anchor="middle" fill="#111" font-weight="normal" stroke="#111" stroke-width="0.15" >Seronegative</text>
<line x1="141.00" y1="546.50" x2="141.00" y2="686.20" stroke="#262626" stroke-width="1.25" />
<line x1="140.50" y1="685.70" x2="210.80" y2="685.70" stroke="#262626" stroke-width="1.25" />
<line x1="148.80" y1="685.70" x2="148.80" y2="688.70" stroke="#262626" stroke-width="1.25" />
<text x="148.80" y="699.90" font-size="8.7" text-anchor="middle" fill="#222" font-weight="normal" stroke="#222" stroke-width="0.15" >t0</text>
<line x1="162.30" y1="685.70" x2="162.30" y2="688.70" stroke="#262626" stroke-width="1.25" />
<text x="162.30" y="699.90" font-size="8.7" text-anchor="middle" fill="#222" font-weight="normal" stroke="#222" stroke-width="0.15" >t3</text>
<line x1="176.00" y1="685.70" x2="176.00" y2="688.70" stroke="#262626" stroke-width="1.25" />
<text x="176.00" y="699.90" font-size="8.7" text-anchor="middle" fill="#222" font-weight="normal" stroke="#222" stroke-width="0.15" >t6</text>
<line x1="189.50" y1="685.70" x2="189.50" y2="688.70" stroke="#262626" stroke-width="1.25" />
<text x="189.50" y="699.90" font-size="8.7" text-anchor="middle" fill="#222" font-weight="normal" stroke="#222" stroke-width="0.15" >t9</text>
<line x1="203.00" y1="685.70" x2="203.00" y2="688.70" stroke="#262626" stroke-width="1.25" />
<text x="203.00" y="699.90" font-size="8.7" text-anchor="middle" fill="#222" font-weight="normal" stroke="#222" stroke-width="0.15" >t12</text>
<text x="175.90" y="539.30" font-size="10.1" text-anchor="middle" fill="#111" font-weight="normal" stroke="#111" stroke-width="0.15" >Seropositive</text>
<line x1="218.30" y1="547.00" x2="218.30" y2="686.20" stroke="#262626" stroke-width="1.25" />
<line x1="217.80" y1="685.70" x2="287.90" y2="685.70" stroke="#262626" stroke-width="1.25" />
<line x1="226.40" y1="685.70" x2="226.40" y2="688.70" stroke="#262626" stroke-width="1.25" />
<text x="226.40" y="699.90" font-size="8.7" text-anchor="middle" fill="#222" font-weight="normal" stroke="#222" stroke-width="0.15" >t0</text>
<line x1="239.80" y1="685.70" x2="239.80" y2="688.70" stroke="#262626" stroke-width="1.25" />
<text x="239.80" y="699.90" font-size="8.7" text-anchor="middle" fill="#222" font-weight="normal" stroke="#222" stroke-width="0.15" >t3</text>
<line x1="253.30" y1="685.70" x2="253.30" y2="688.70" stroke="#262626" stroke-width="1.25" />
<text x="253.30" y="699.90" font-size="8.7" text-anchor="middle" fill="#222" font-weight="normal" stroke="#222" stroke-width="0.15" >t6</text>
<line x1="266.80" y1="685.70" x2="266.80" y2="688.70" stroke="#262626" stroke-width="1.25" />
<text x="266.80" y="699.90" font-size="8.7" text-anchor="middle" fill="#222" font-weight="normal" stroke="#222" stroke-width="0.15" >t9</text>
<line x1="280.10" y1="685.70" x2="280.10" y2="688.70" stroke="#262626" stroke-width="1.25" />
<text x="280.10" y="699.90" font-size="8.7" text-anchor="middle" fill="#222" font-weight="normal" stroke="#222" stroke-width="0.15" >t12</text>
<text x="253.50" y="539.30" font-size="10.1" text-anchor="middle" fill="#111" font-weight="normal" stroke="#111" stroke-width="0.15" >Reactivation</text>
<line x1="60.50" y1="679.90" x2="63.50" y2="679.90" stroke="#262626" stroke-width="1.25" />
<text x="57.20" y="683.00" font-size="8.8" text-anchor="end" fill="#333" font-weight="normal" stroke="#333" stroke-width="0.15" >0</text>
<line x1="60.50" y1="648.15" x2="63.50" y2="648.15" stroke="#262626" stroke-width="1.25" />
<text x="57.20" y="651.25" font-size="8.8" text-anchor="end" fill="#333" font-weight="normal" stroke="#333" stroke-width="0.15" >10</text>
<line x1="60.50" y1="616.40" x2="63.50" y2="616.40" stroke="#262626" stroke-width="1.25" />
<text x="57.20" y="619.50" font-size="8.8" text-anchor="end" fill="#333" font-weight="normal" stroke="#333" stroke-width="0.15" >20</text>
<line x1="60.50" y1="584.65" x2="63.50" y2="584.65" stroke="#262626" stroke-width="1.25" />
<text x="57.20" y="587.75" font-size="8.8" text-anchor="end" fill="#333" font-weight="normal" stroke="#333" stroke-width="0.15" >30</text>
<line x1="60.50" y1="552.90" x2="63.50" y2="552.90" stroke="#262626" stroke-width="1.25" />
<text x="57.20" y="556.00" font-size="8.8" text-anchor="end" fill="#333" font-weight="normal" stroke="#333" stroke-width="0.15" >40</text>
<text transform="translate(28.50,618.10) rotate(-90)" x="0" y="0" font-size="10.08" font-weight="normal" stroke="#262626" stroke-width="0.38" text-anchor="middle" fill="#262626" textLength="78.9" lengthAdjust="spacingAndGlyphs">Cumulative frequency of</text>
<text transform="translate(40.30,620.60) rotate(-90)" x="0" y="0" font-size="10.08" font-weight="normal" stroke="#262626" stroke-width="0.38" text-anchor="middle" fill="#262626" textLength="87.7" lengthAdjust="spacingAndGlyphs">CMV-specific TCR clones (%)</text>
<line x1="71.80" y1="674.82" x2="71.80" y2="671.64" stroke="#444" stroke-width="1.0" />
<line x1="71.80" y1="677.36" x2="71.80" y2="678.31" stroke="#444" stroke-width="1.0" />
<rect x="68.20" y="674.82" width="7.20" height="2.54" fill="white" stroke="#234e86" stroke-width="1.0" />
<line x1="68.20" y1="676.09" x2="75.40" y2="676.09" stroke="#111" stroke-width="1.2" />
<circle cx="72.17" cy="671.01" r="1.8" fill="#1f4578" fill-opacity="0.7"/>
<circle cx="72.53" cy="672.91" r="1.8" fill="#1f4578" fill-opacity="0.7"/>
<circle cx="72.69" cy="675.14" r="1.8" fill="#1f4578" fill-opacity="0.7"/>
<circle cx="73.13" cy="676.73" r="1.8" fill="#1f4578" fill-opacity="0.7"/>
<circle cx="72.52" cy="678.00" r="1.8" fill="#1f4578" fill-opacity="0.7"/>
<circle cx="73.49" cy="677.29" r="1.8" fill="#1f4578" fill-opacity="0.7"/>
<circle cx="71.66" cy="674.96" r="1.8" fill="#1f4578" fill-opacity="0.7"/>
<circle cx="72.40" cy="675.07" r="1.8" fill="#1f4578" fill-opacity="0.7"/>
<circle cx="70.25" cy="676.17" r="1.8" fill="#1f4578" fill-opacity="0.7"/>
<circle cx="70.79" cy="675.98" r="1.8" fill="#1f4578" fill-opacity="0.7"/>
<line x1="85.30" y1="670.38" x2="85.30" y2="665.61" stroke="#444" stroke-width="1.0" />
<line x1="85.30" y1="677.04" x2="85.30" y2="679.26" stroke="#444" stroke-width="1.0" />
<rect x="81.70" y="670.38" width="7.20" height="6.67" fill="white" stroke="#234e86" stroke-width="1.0" />
<line x1="81.70" y1="674.82" x2="88.90" y2="674.82" stroke="#111" stroke-width="1.2" />
<circle cx="85.52" cy="665.61" r="1.8" fill="#1f4578" fill-opacity="0.7"/>
<circle cx="83.84" cy="668.47" r="1.8" fill="#1f4578" fill-opacity="0.7"/>
<circle cx="84.45" cy="671.96" r="1.8" fill="#1f4578" fill-opacity="0.7"/>
<circle cx="84.64" cy="673.55" r="1.8" fill="#1f4578" fill-opacity="0.7"/>
<circle cx="86.55" cy="676.09" r="1.8" fill="#1f4578" fill-opacity="0.7"/>
<circle cx="86.10" cy="678.00" r="1.8" fill="#1f4578" fill-opacity="0.7"/>
<circle cx="84.28" cy="678.95" r="1.8" fill="#1f4578" fill-opacity="0.7"/>
<circle cx="86.49" cy="676.12" r="1.8" fill="#1f4578" fill-opacity="0.7"/>
<circle cx="85.77" cy="676.20" r="1.8" fill="#1f4578" fill-opacity="0.7"/>
<circle cx="83.31" cy="671.23" r="1.8" fill="#1f4578" fill-opacity="0.7"/>
<circle cx="84.14" cy="675.61" r="1.8" fill="#1f4578" fill-opacity="0.7"/>
<circle cx="87.23" cy="671.23" r="1.8" fill="#1f4578" fill-opacity="0.7"/>
<line x1="98.60" y1="672.91" x2="98.60" y2="668.79" stroke="#444" stroke-width="1.0" />
<line x1="98.60" y1="678.00" x2="98.60" y2="679.26" stroke="#444" stroke-width="1.0" />
<rect x="95.00" y="672.91" width="7.20" height="5.08" fill="white" stroke="#234e86" stroke-width="1.0" />
<line x1="95.00" y1="676.09" x2="102.20" y2="676.09" stroke="#111" stroke-width="1.2" />
<circle cx="97.97" cy="663.07" r="1.8" fill="#1f4578" fill-opacity="0.7"/>
<circle cx="99.98" cy="664.66" r="1.8" fill="#1f4578" fill-opacity="0.7"/>
<circle cx="98.72" cy="670.38" r="1.8" fill="#1f4578" fill-opacity="0.7"/>
<circle cx="99.13" cy="674.82" r="1.8" fill="#1f4578" fill-opacity="0.7"/>
<circle cx="97.71" cy="676.73" r="1.8" fill="#1f4578" fill-opacity="0.7"/>
<circle cx="99.92" cy="678.31" r="1.8" fill="#1f4578" fill-opacity="0.7"/>
<circle cx="99.36" cy="673.08" r="1.8" fill="#1f4578" fill-opacity="0.7"/>
<circle cx="100.17" cy="676.48" r="1.8" fill="#1f4578" fill-opacity="0.7"/>
<circle cx="98.04" cy="677.15" r="1.8" fill="#1f4578" fill-opacity="0.7"/>
<circle cx="97.18" cy="677.66" r="1.8" fill="#1f4578" fill-opacity="0.7"/>
<circle cx="97.81" cy="674.93" r="1.8" fill="#1f4578" fill-opacity="0.7"/>
<line x1="112.10" y1="670.69" x2="112.10" y2="665.29" stroke="#444" stroke-width="1.0" />
<line x1="112.10" y1="677.68" x2="112.10" y2="679.26" stroke="#444" stroke-width="1.0" />
<rect x="108.50" y="670.69" width="7.20" height="6.99" fill="white" stroke="#234e86" stroke-width="1.0" />
<line x1="108.50" y1="675.14" x2="115.70" y2="675.14" stroke="#111" stroke-width="1.2" />
<circle cx="110.61" cy="662.12" r="1.8" fill="#1f4578" fill-opacity="0.7"/>
<circle cx="112.63" cy="664.02" r="1.8" fill="#1f4578" fill-opacity="0.7"/>
<circle cx="111.61" cy="666.56" r="1.8" fill="#1f4578" fill-opacity="0.7"/>
<circle cx="111.53" cy="670.38" r="1.8" fill="#1f4578" fill-opacity="0.7"/>
<circle cx="113.06" cy="673.55" r="1.8" fill="#1f4578" fill-opacity="0.7"/>
<circle cx="112.04" cy="676.09" r="1.8" fill="#1f4578" fill-opacity="0.7"/>
<circle cx="111.55" cy="678.00" r="1.8" fill="#1f4578" fill-opacity="0.7"/>
<circle cx="112.02" cy="672.76" r="1.8" fill="#1f4578" fill-opacity="0.7"/>
<circle cx="110.33" cy="670.87" r="1.8" fill="#1f4578" fill-opacity="0.7"/>
<circle cx="110.19" cy="672.44" r="1.8" fill="#1f4578" fill-opacity="0.7"/>
<circle cx="113.48" cy="677.55" r="1.8" fill="#1f4578" fill-opacity="0.7"/>
<circle cx="113.25" cy="675.12" r="1.8" fill="#1f4578" fill-opacity="0.7"/>
<line x1="125.40" y1="670.69" x2="125.40" y2="667.83" stroke="#444" stroke-width="1.0" />
<line x1="125.40" y1="677.68" x2="125.40" y2="678.95" stroke="#444" stroke-width="1.0" />
<rect x="121.80" y="670.69" width="7.20" height="6.99" fill="white" stroke="#234e86" stroke-width="1.0" />
<line x1="121.80" y1="675.14" x2="129.00" y2="675.14" stroke="#111" stroke-width="1.2" />
<circle cx="125.64" cy="667.52" r="1.8" fill="#1f4578" fill-opacity="0.7"/>
<circle cx="123.93" cy="671.96" r="1.8" fill="#1f4578" fill-opacity="0.7"/>
<circle cx="124.04" cy="674.18" r="1.8" fill="#1f4578" fill-opacity="0.7"/>
<circle cx="124.44" cy="676.73" r="1.8" fill="#1f4578" fill-opacity="0.7"/>
<circle cx="126.77" cy="678.31" r="1.8" fill="#1f4578" fill-opacity="0.7"/>
<circle cx="124.19" cy="672.40" r="1.8" fill="#1f4578" fill-opacity="0.7"/>
<circle cx="127.12" cy="671.10" r="1.8" fill="#1f4578" fill-opacity="0.7"/>
<circle cx="124.78" cy="675.20" r="1.8" fill="#1f4578" fill-opacity="0.7"/>
<circle cx="125.50" cy="672.26" r="1.8" fill="#1f4578" fill-opacity="0.7"/>
<circle cx="123.83" cy="672.45" r="1.8" fill="#1f4578" fill-opacity="0.7"/>
<line x1="148.80" y1="674.82" x2="148.80" y2="672.91" stroke="#444" stroke-width="1.0" />
<line x1="148.80" y1="677.04" x2="148.80" y2="678.31" stroke="#444" stroke-width="1.0" />
<rect x="145.20" y="674.82" width="7.20" height="2.22" fill="white" stroke="#3aa832" stroke-width="1.0" />
<line x1="145.20" y1="676.09" x2="152.40" y2="676.09" stroke="#111" stroke-width="1.2" />
<circle cx="149.69" cy="668.79" r="1.8" fill="#4aa63e" fill-opacity="0.7"/>
<circle cx="149.88" cy="673.55" r="1.8" fill="#4aa63e" fill-opacity="0.7"/>
<circle cx="147.41" cy="675.77" r="1.8" fill="#4aa63e" fill-opacity="0.7"/>
<circle cx="150.14" cy="677.36" r="1.8" fill="#4aa63e" fill-opacity="0.7"/>
<circle cx="147.16" cy="676.29" r="1.8" fill="#4aa63e" fill-opacity="0.7"/>
<circle cx="149.24" cy="675.00" r="1.8" fill="#4aa63e" fill-opacity="0.7"/>
<circle cx="148.16" cy="674.99" r="1.8" fill="#4aa63e" fill-opacity="0.7"/>
<circle cx="148.98" cy="676.35" r="1.8" fill="#4aa63e" fill-opacity="0.7"/>
<circle cx="148.07" cy="676.65" r="1.8" fill="#4aa63e" fill-opacity="0.7"/>
<line x1="162.30" y1="667.52" x2="162.30" y2="663.07" stroke="#444" stroke-width="1.0" />
<line x1="162.30" y1="678.31" x2="162.30" y2="679.58" stroke="#444" stroke-width="1.0" />
<rect x="158.70" y="667.52" width="7.20" height="10.80" fill="white" stroke="#3aa832" stroke-width="1.0" />
<line x1="158.70" y1="674.18" x2="165.90" y2="674.18" stroke="#111" stroke-width="1.2" />
<circle cx="161.03" cy="649.42" r="1.8" fill="#4aa63e" fill-opacity="0.7"/>
<circle cx="161.25" cy="663.07" r="1.8" fill="#4aa63e" fill-opacity="0.7"/>
<circle cx="162.87" cy="669.11" r="1.8" fill="#4aa63e" fill-opacity="0.7"/>
<circle cx="163.79" cy="673.55" r="1.8" fill="#4aa63e" fill-opacity="0.7"/>
<circle cx="161.28" cy="676.73" r="1.8" fill="#4aa63e" fill-opacity="0.7"/>
<circle cx="160.95" cy="678.31" r="1.8" fill="#4aa63e" fill-opacity="0.7"/>
<circle cx="163.76" cy="679.26" r="1.8" fill="#4aa63e" fill-opacity="0.7"/>
<circle cx="162.43" cy="673.93" r="1.8" fill="#4aa63e" fill-opacity="0.7"/>
<circle cx="161.25" cy="671.90" r="1.8" fill="#4aa63e" fill-opacity="0.7"/>
<circle cx="163.61" cy="673.39" r="1.8" fill="#4aa63e" fill-opacity="0.7"/>
<circle cx="161.99" cy="677.71" r="1.8" fill="#4aa63e" fill-opacity="0.7"/>
<circle cx="163.96" cy="677.96" r="1.8" fill="#4aa63e" fill-opacity="0.7"/>
<line x1="176.00" y1="664.66" x2="176.00" y2="655.45" stroke="#444" stroke-width="1.0" />
<line x1="176.00" y1="677.04" x2="176.00" y2="679.58" stroke="#444" stroke-width="1.0" />
<rect x="172.40" y="664.66" width="7.20" height="12.38" fill="white" stroke="#3aa832" stroke-width="1.0" />
<line x1="172.40" y1="671.01" x2="179.60" y2="671.01" stroke="#111" stroke-width="1.2" />
<circle cx="175.98" cy="637.99" r="1.8" fill="#4aa63e" fill-opacity="0.7"/>
<circle cx="177.02" cy="548.14" r="1.8" fill="#4aa63e" fill-opacity="0.7"/>
<circle cx="174.89" cy="655.45" r="1.8" fill="#4aa63e" fill-opacity="0.7"/>
<circle cx="176.69" cy="662.44" r="1.8" fill="#4aa63e" fill-opacity="0.7"/>
<circle cx="177.35" cy="670.38" r="1.8" fill="#4aa63e" fill-opacity="0.7"/>
<circle cx="176.39" cy="675.14" r="1.8" fill="#4aa63e" fill-opacity="0.7"/>
<circle cx="176.86" cy="678.31" r="1.8" fill="#4aa63e" fill-opacity="0.7"/>
<circle cx="174.43" cy="671.66" r="1.8" fill="#4aa63e" fill-opacity="0.7"/>
<circle cx="174.60" cy="666.58" r="1.8" fill="#4aa63e" fill-opacity="0.7"/>
<circle cx="175.18" cy="671.43" r="1.8" fill="#4aa63e" fill-opacity="0.7"/>
<circle cx="178.00" cy="666.49" r="1.8" fill="#4aa63e" fill-opacity="0.7"/>
<circle cx="177.90" cy="671.43" r="1.8" fill="#4aa63e" fill-opacity="0.7"/>
<line x1="189.50" y1="666.56" x2="189.50" y2="661.17" stroke="#444" stroke-width="1.0" />
<line x1="189.50" y1="676.73" x2="189.50" y2="679.26" stroke="#444" stroke-width="1.0" />
<rect x="185.90" y="666.56" width="7.20" height="10.16" fill="white" stroke="#3aa832" stroke-width="1.0" />
<line x1="185.90" y1="673.23" x2="193.10" y2="673.23" stroke="#111" stroke-width="1.2" />
<circle cx="189.46" cy="635.45" r="1.8" fill="#4aa63e" fill-opacity="0.7"/>
<circle cx="190.19" cy="571.95" r="1.8" fill="#4aa63e" fill-opacity="0.7"/>
<circle cx="189.44" cy="661.17" r="1.8" fill="#4aa63e" fill-opacity="0.7"/>
<circle cx="188.87" cy="668.79" r="1.8" fill="#4aa63e" fill-opacity="0.7"/>
<circle cx="189.21" cy="675.14" r="1.8" fill="#4aa63e" fill-opacity="0.7"/>
<circle cx="188.44" cy="678.00" r="1.8" fill="#4aa63e" fill-opacity="0.7"/>
<circle cx="189.01" cy="666.68" r="1.8" fill="#4aa63e" fill-opacity="0.7"/>
<circle cx="191.34" cy="670.36" r="1.8" fill="#4aa63e" fill-opacity="0.7"/>
<circle cx="189.50" cy="673.29" r="1.8" fill="#4aa63e" fill-opacity="0.7"/>
<circle cx="187.86" cy="673.96" r="1.8" fill="#4aa63e" fill-opacity="0.7"/>
<circle cx="190.63" cy="667.91" r="1.8" fill="#4aa63e" fill-opacity="0.7"/>
<line x1="203.00" y1="670.38" x2="203.00" y2="659.90" stroke="#444" stroke-width="1.0" />
<line x1="203.00" y1="678.00" x2="203.00" y2="679.26" stroke="#444" stroke-width="1.0" />
<rect x="199.40" y="670.38" width="7.20" height="7.62" fill="white" stroke="#3aa832" stroke-width="1.0" />
<line x1="199.40" y1="674.82" x2="206.60" y2="674.82" stroke="#111" stroke-width="1.2" />
<circle cx="202.58" cy="647.20" r="1.8" fill="#4aa63e" fill-opacity="0.7"/>
<circle cx="203.86" cy="659.90" r="1.8" fill="#4aa63e" fill-opacity="0.7"/>
<circle cx="203.82" cy="665.61" r="1.8" fill="#4aa63e" fill-opacity="0.7"/>
<circle cx="203.58" cy="671.96" r="1.8" fill="#4aa63e" fill-opacity="0.7"/>
<circle cx="203.49" cy="676.09" r="1.8" fill="#4aa63e" fill-opacity="0.7"/>
<circle cx="203.78" cy="678.31" r="1.8" fill="#4aa63e" fill-opacity="0.7"/>
<circle cx="202.45" cy="672.63" r="1.8" fill="#4aa63e" fill-opacity="0.7"/>
<circle cx="202.12" cy="674.29" r="1.8" fill="#4aa63e" fill-opacity="0.7"/>
<circle cx="204.08" cy="672.73" r="1.8" fill="#4aa63e" fill-opacity="0.7"/>
<circle cx="202.18" cy="670.79" r="1.8" fill="#4aa63e" fill-opacity="0.7"/>
<circle cx="203.60" cy="673.57" r="1.8" fill="#4aa63e" fill-opacity="0.7"/>
<line x1="226.40" y1="674.82" x2="226.40" y2="673.55" stroke="#444" stroke-width="1.0" />
<line x1="226.40" y1="677.04" x2="226.40" y2="678.00" stroke="#444" stroke-width="1.0" />
<rect x="222.80" y="674.82" width="7.20" height="2.22" fill="white" stroke="#c8102e" stroke-width="1.0" />
<line x1="222.80" y1="675.77" x2="230.00" y2="675.77" stroke="#111" stroke-width="1.2" />
<circle cx="224.93" cy="674.18" r="1.8" fill="#c81c2c" fill-opacity="0.7"/>
<circle cx="226.54" cy="676.09" r="1.8" fill="#c81c2c" fill-opacity="0.7"/>
<circle cx="225.65" cy="677.36" r="1.8" fill="#c81c2c" fill-opacity="0.7"/>
<circle cx="227.09" cy="676.01" r="1.8" fill="#c81c2c" fill-opacity="0.7"/>
<circle cx="227.67" cy="675.60" r="1.8" fill="#c81c2c" fill-opacity="0.7"/>
<circle cx="227.59" cy="676.27" r="1.8" fill="#c81c2c" fill-opacity="0.7"/>
<circle cx="226.98" cy="675.40" r="1.8" fill="#c81c2c" fill-opacity="0.7"/>
<circle cx="227.71" cy="676.26" r="1.8" fill="#c81c2c" fill-opacity="0.7"/>
<line x1="239.80" y1="675.45" x2="239.80" y2="674.18" stroke="#444" stroke-width="1.0" />
<line x1="239.80" y1="678.63" x2="239.80" y2="679.26" stroke="#444" stroke-width="1.0" />
<rect x="236.20" y="675.45" width="7.20" height="3.18" fill="white" stroke="#c8102e" stroke-width="1.0" />
<line x1="236.20" y1="677.36" x2="243.40" y2="677.36" stroke="#111" stroke-width="1.2" />
<circle cx="240.83" cy="674.18" r="1.8" fill="#c81c2c" fill-opacity="0.7"/>
<circle cx="240.91" cy="676.73" r="1.8" fill="#c81c2c" fill-opacity="0.7"/>
<circle cx="240.37" cy="678.31" r="1.8" fill="#c81c2c" fill-opacity="0.7"/>
<circle cx="241.70" cy="675.59" r="1.8" fill="#c81c2c" fill-opacity="0.7"/>
<circle cx="239.87" cy="676.95" r="1.8" fill="#c81c2c" fill-opacity="0.7"/>
<circle cx="238.46" cy="675.97" r="1.8" fill="#c81c2c" fill-opacity="0.7"/>
<circle cx="241.55" cy="677.11" r="1.8" fill="#c81c2c" fill-opacity="0.7"/>
<circle cx="240.57" cy="676.34" r="1.8" fill="#c81c2c" fill-opacity="0.7"/>
<line x1="253.30" y1="675.14" x2="253.30" y2="673.55" stroke="#444" stroke-width="1.0" />
<line x1="253.30" y1="678.63" x2="253.30" y2="679.26" stroke="#444" stroke-width="1.0" />
<rect x="249.70" y="675.14" width="7.20" height="3.49" fill="white" stroke="#c8102e" stroke-width="1.0" />
<line x1="249.70" y1="677.36" x2="256.90" y2="677.36" stroke="#111" stroke-width="1.2" />
<circle cx="253.99" cy="669.74" r="1.8" fill="#c81c2c" fill-opacity="0.7"/>
<circle cx="252.32" cy="675.45" r="1.8" fill="#c81c2c" fill-opacity="0.7"/>
<circle cx="254.14" cy="678.00" r="1.8" fill="#c81c2c" fill-opacity="0.7"/>
<circle cx="253.62" cy="676.31" r="1.8" fill="#c81c2c" fill-opacity="0.7"/>
<circle cx="252.98" cy="676.45" r="1.8" fill="#c81c2c" fill-opacity="0.7"/>
<circle cx="254.40" cy="676.41" r="1.8" fill="#c81c2c" fill-opacity="0.7"/>
<circle cx="254.18" cy="678.53" r="1.8" fill="#c81c2c" fill-opacity="0.7"/>
<circle cx="251.94" cy="677.09" r="1.8" fill="#c81c2c" fill-opacity="0.7"/>
<line x1="266.80" y1="669.42" x2="266.80" y2="666.25" stroke="#444" stroke-width="1.0" />
<line x1="266.80" y1="678.63" x2="266.80" y2="679.58" stroke="#444" stroke-width="1.0" />
<rect x="263.20" y="669.42" width="7.20" height="9.21" fill="white" stroke="#c8102e" stroke-width="1.0" />
<line x1="263.20" y1="675.77" x2="270.40" y2="675.77" stroke="#111" stroke-width="1.2" />
<circle cx="267.25" cy="661.49" r="1.8" fill="#c81c2c" fill-opacity="0.7"/>
<circle cx="265.96" cy="666.25" r="1.8" fill="#c81c2c" fill-opacity="0.7"/>
<circle cx="267.36" cy="676.73" r="1.8" fill="#c81c2c" fill-opacity="0.7"/>
<circle cx="267.19" cy="678.31" r="1.8" fill="#c81c2c" fill-opacity="0.7"/>
<circle cx="264.97" cy="674.29" r="1.8" fill="#c81c2c" fill-opacity="0.7"/>
<circle cx="265.70" cy="678.13" r="1.8" fill="#c81c2c" fill-opacity="0.7"/>
<circle cx="265.33" cy="675.71" r="1.8" fill="#c81c2c" fill-opacity="0.7"/>
<circle cx="265.53" cy="676.85" r="1.8" fill="#c81c2c" fill-opacity="0.7"/>
<circle cx="264.94" cy="674.35" r="1.8" fill="#c81c2c" fill-opacity="0.7"/>
<line x1="280.10" y1="671.33" x2="280.10" y2="668.15" stroke="#444" stroke-width="1.0" />
<line x1="280.10" y1="678.95" x2="280.10" y2="679.58" stroke="#444" stroke-width="1.0" />
<rect x="276.50" y="671.33" width="7.20" height="7.62" fill="white" stroke="#c8102e" stroke-width="1.0" />
<line x1="276.50" y1="676.09" x2="283.70" y2="676.09" stroke="#111" stroke-width="1.2" />
<circle cx="279.74" cy="640.85" r="1.8" fill="#c81c2c" fill-opacity="0.7"/>
<circle cx="280.44" cy="668.15" r="1.8" fill="#c81c2c" fill-opacity="0.7"/>
<circle cx="280.37" cy="676.73" r="1.8" fill="#c81c2c" fill-opacity="0.7"/>
<circle cx="279.31" cy="678.63" r="1.8" fill="#c81c2c" fill-opacity="0.7"/>
<circle cx="281.71" cy="678.94" r="1.8" fill="#c81c2c" fill-opacity="0.7"/>
<circle cx="279.72" cy="676.83" r="1.8" fill="#c81c2c" fill-opacity="0.7"/>
<circle cx="279.74" cy="678.07" r="1.8" fill="#c81c2c" fill-opacity="0.7"/>
<circle cx="281.43" cy="676.10" r="1.8" fill="#c81c2c" fill-opacity="0.7"/>
<circle cx="278.24" cy="674.27" r="1.8" fill="#c81c2c" fill-opacity="0.7"/>
<line x1="355.40" y1="543.50" x2="355.40" y2="686.20" stroke="#262626" stroke-width="1.25" />
<line x1="354.90" y1="685.70" x2="430.40" y2="685.70" stroke="#262626" stroke-width="1.25" />
<line x1="376.20" y1="685.70" x2="376.20" y2="688.70" stroke="#262626" stroke-width="1.25" />
<text x="376.20" y="700.40" font-size="9.3" text-anchor="middle" fill="#222" font-weight="normal" stroke="#222" stroke-width="0.15" >D–/R+</text>
<line x1="410.20" y1="685.70" x2="410.20" y2="688.70" stroke="#262626" stroke-width="1.25" />
<text x="410.20" y="700.40" font-size="9.3" text-anchor="middle" fill="#222" font-weight="normal" stroke="#222" stroke-width="0.15" >D+/R+</text>
<line x1="438.00" y1="543.70" x2="438.00" y2="686.20" stroke="#262626" stroke-width="1.25" />
<line x1="437.50" y1="685.70" x2="512.20" y2="685.70" stroke="#262626" stroke-width="1.25" />
<line x1="458.20" y1="685.70" x2="458.20" y2="688.70" stroke="#262626" stroke-width="1.25" />
<text x="458.20" y="700.40" font-size="9.3" text-anchor="middle" fill="#222" font-weight="normal" stroke="#222" stroke-width="0.15" >D–/R+</text>
<line x1="492.30" y1="685.70" x2="492.30" y2="688.70" stroke="#262626" stroke-width="1.25" />
<text x="492.30" y="700.40" font-size="9.3" text-anchor="middle" fill="#222" font-weight="normal" stroke="#222" stroke-width="0.15" >D+/R+</text>
<line x1="352.40" y1="679.50" x2="355.40" y2="679.50" stroke="#262626" stroke-width="1.25" />
<text x="348.60" y="682.60" font-size="8.8" text-anchor="end" fill="#333" font-weight="normal" stroke="#333" stroke-width="0.15" >0.0</text>
<line x1="352.40" y1="652.95" x2="355.40" y2="652.95" stroke="#262626" stroke-width="1.25" />
<text x="348.60" y="656.05" font-size="8.8" text-anchor="end" fill="#333" font-weight="normal" stroke="#333" stroke-width="0.15" >2.5</text>
<line x1="352.40" y1="626.40" x2="355.40" y2="626.40" stroke="#262626" stroke-width="1.25" />
<text x="348.60" y="629.50" font-size="8.8" text-anchor="end" fill="#333" font-weight="normal" stroke="#333" stroke-width="0.15" >5.0</text>
<line x1="352.40" y1="599.85" x2="355.40" y2="599.85" stroke="#262626" stroke-width="1.25" />
<text x="348.60" y="602.95" font-size="8.8" text-anchor="end" fill="#333" font-weight="normal" stroke="#333" stroke-width="0.15" >7.5</text>
<line x1="352.40" y1="573.30" x2="355.40" y2="573.30" stroke="#262626" stroke-width="1.25" />
<text x="348.60" y="576.40" font-size="8.8" text-anchor="end" fill="#333" font-weight="normal" stroke="#333" stroke-width="0.15" >10.0</text>
<line x1="352.40" y1="546.75" x2="355.40" y2="546.75" stroke="#262626" stroke-width="1.25" />
<text x="348.60" y="549.85" font-size="8.8" text-anchor="end" fill="#333" font-weight="normal" stroke="#333" stroke-width="0.15" >12.5</text>
<text x="393.20" y="523.20" font-size="10.1" text-anchor="middle" fill="#111" font-weight="normal" stroke="#111" stroke-width="0.15" >Non shared</text>
<text x="393.50" y="535.90" font-size="10.1" text-anchor="middle" fill="#111" font-weight="normal" stroke="#111" stroke-width="0.15" >clones</text>
<text x="475.40" y="536.00" font-size="10.1" text-anchor="middle" fill="#111" font-weight="normal" stroke="#111" stroke-width="0.15" >Shared clones</text>
<text transform="translate(313.30,614.50) rotate(-90)" x="0" y="0" font-size="10.08" font-weight="normal" stroke="#262626" stroke-width="0.38" text-anchor="middle" fill="#262626" textLength="70" lengthAdjust="spacingAndGlyphs">Cumulative frequency</text>
<text transform="translate(325.70,614.50) rotate(-90)" x="0" y="0" font-size="10.08" font-weight="normal" stroke="#262626" stroke-width="0.38" text-anchor="middle" fill="#262626" textLength="98.3" lengthAdjust="spacingAndGlyphs">CMV−specific TCR clones (%)</text>
<line x1="376.20" y1="671.53" x2="376.20" y2="662.51" stroke="#333" stroke-width="1.0" />
<line x1="376.20" y1="676.31" x2="376.20" y2="679.50" stroke="#333" stroke-width="1.0" />
<rect x="367.60" y="671.53" width="17.20" height="4.78" fill="white" stroke="#7b76c0" stroke-width="1.0" />
<line x1="367.60" y1="675.25" x2="384.80" y2="675.25" stroke="#111" stroke-width="1.3" />
<line x1="410.20" y1="672.60" x2="410.20" y2="666.76" stroke="#333" stroke-width="1.0" />
<line x1="410.20" y1="675.78" x2="410.20" y2="679.50" stroke="#333" stroke-width="1.0" />
<rect x="401.60" y="672.60" width="17.20" height="3.19" fill="white" stroke="#7b76c0" stroke-width="1.0" />
<line x1="401.60" y1="672.92" x2="418.80" y2="672.92" stroke="#111" stroke-width="1.3" />
<line x1="458.20" y1="673.98" x2="458.20" y2="668.88" stroke="#333" stroke-width="1.0" />
<line x1="458.20" y1="678.23" x2="458.20" y2="679.50" stroke="#333" stroke-width="1.0" />
<rect x="449.60" y="673.98" width="17.20" height="4.25" fill="white" stroke="#7b76c0" stroke-width="1.0" />
<line x1="449.60" y1="676.10" x2="466.80" y2="676.10" stroke="#111" stroke-width="1.3" />
<line x1="492.30" y1="646.26" x2="492.30" y2="624.28" stroke="#333" stroke-width="1.0" />
<line x1="492.30" y1="671.53" x2="492.30" y2="673.13" stroke="#333" stroke-width="1.0" />
<rect x="483.70" y="646.26" width="17.20" height="25.28" fill="white" stroke="#7b76c0" stroke-width="1.0" />
<line x1="483.70" y1="660.60" x2="500.90" y2="660.60" stroke="#111" stroke-width="1.3" />
<circle cx="376.02" cy="638.08" r="2.1" fill="#9a95d2" fill-opacity="0.75"/>
<circle cx="375.57" cy="642.33" r="2.1" fill="#9a95d2" fill-opacity="0.75"/>
<circle cx="374.39" cy="645.52" r="2.1" fill="#9a95d2" fill-opacity="0.75"/>
<circle cx="378.03" cy="662.51" r="2.1" fill="#9a95d2" fill-opacity="0.75"/>
<circle cx="373.73" cy="663.57" r="2.1" fill="#9a95d2" fill-opacity="0.75"/>
<circle cx="376.21" cy="666.76" r="2.1" fill="#9a95d2" fill-opacity="0.75"/>
<circle cx="378.19" cy="668.88" r="2.1" fill="#9a95d2" fill-opacity="0.75"/>
<circle cx="374.10" cy="669.94" r="2.1" fill="#9a95d2" fill-opacity="0.75"/>
<circle cx="376.47" cy="671.00" r="2.1" fill="#9a95d2" fill-opacity="0.75"/>
<circle cx="376.78" cy="672.07" r="2.1" fill="#9a95d2" fill-opacity="0.75"/>
<circle cx="373.90" cy="673.13" r="2.1" fill="#9a95d2" fill-opacity="0.75"/>
<circle cx="375.60" cy="674.19" r="2.1" fill="#9a95d2" fill-opacity="0.75"/>
<circle cx="377.22" cy="675.25" r="2.1" fill="#9a95d2" fill-opacity="0.75"/>
<circle cx="375.96" cy="676.31" r="2.1" fill="#9a95d2" fill-opacity="0.75"/>
<circle cx="377.33" cy="676.85" r="2.1" fill="#9a95d2" fill-opacity="0.75"/>
<circle cx="374.49" cy="677.38" r="2.1" fill="#9a95d2" fill-opacity="0.75"/>
<circle cx="374.89" cy="678.44" r="2.1" fill="#9a95d2" fill-opacity="0.75"/>
<circle cx="374.25" cy="678.97" r="2.1" fill="#9a95d2" fill-opacity="0.75"/>
<circle cx="376.23" cy="679.50" r="2.1" fill="#9a95d2" fill-opacity="0.75"/>
<circle cx="412.32" cy="659.32" r="2.1" fill="#9a95d2" fill-opacity="0.75"/>
<circle cx="410.65" cy="666.76" r="2.1" fill="#9a95d2" fill-opacity="0.75"/>
<circle cx="411.57" cy="672.07" r="2.1" fill="#9a95d2" fill-opacity="0.75"/>
<circle cx="409.62" cy="673.13" r="2.1" fill="#9a95d2" fill-opacity="0.75"/>
<circle cx="411.43" cy="674.19" r="2.1" fill="#9a95d2" fill-opacity="0.75"/>
<circle cx="408.21" cy="676.31" r="2.1" fill="#9a95d2" fill-opacity="0.75"/>
<circle cx="409.16" cy="678.44" r="2.1" fill="#9a95d2" fill-opacity="0.75"/>
<circle cx="411.07" cy="679.50" r="2.1" fill="#9a95d2" fill-opacity="0.75"/>
<circle cx="459.33" cy="668.88" r="2.1" fill="#9a95d2" fill-opacity="0.75"/>
<circle cx="457.81" cy="669.94" r="2.1" fill="#9a95d2" fill-opacity="0.75"/>
<circle cx="456.14" cy="671.00" r="2.1" fill="#9a95d2" fill-opacity="0.75"/>
<circle cx="457.03" cy="673.13" r="2.1" fill="#9a95d2" fill-opacity="0.75"/>
<circle cx="456.75" cy="674.19" r="2.1" fill="#9a95d2" fill-opacity="0.75"/>
<circle cx="457.11" cy="675.25" r="2.1" fill="#9a95d2" fill-opacity="0.75"/>
<circle cx="459.75" cy="676.31" r="2.1" fill="#9a95d2" fill-opacity="0.75"/>
<circle cx="456.70" cy="677.38" r="2.1" fill="#9a95d2" fill-opacity="0.75"/>
<circle cx="460.13" cy="678.44" r="2.1" fill="#9a95d2" fill-opacity="0.75"/>
<circle cx="460.10" cy="679.50" r="2.1" fill="#9a95d2" fill-opacity="0.75"/>
<circle cx="490.07" cy="549.94" r="2.1" fill="#9a95d2" fill-opacity="0.75"/>
<circle cx="491.69" cy="624.28" r="2.1" fill="#9a95d2" fill-opacity="0.75"/>
<circle cx="492.26" cy="646.58" r="2.1" fill="#9a95d2" fill-opacity="0.75"/>
<circle cx="489.92" cy="652.95" r="2.1" fill="#9a95d2" fill-opacity="0.75"/>
<circle cx="491.92" cy="660.38" r="2.1" fill="#9a95d2" fill-opacity="0.75"/>
<circle cx="494.33" cy="666.76" r="2.1" fill="#9a95d2" fill-opacity="0.75"/>
<circle cx="490.36" cy="671.00" r="2.1" fill="#9a95d2" fill-opacity="0.75"/>
<circle cx="492.78" cy="673.13" r="2.1" fill="#9a95d2" fill-opacity="0.75"/>
<line x1="376.20" y1="567.70" x2="410.30" y2="567.70" stroke="#333" stroke-width="0.8" />
<line x1="376.20" y1="567.70" x2="376.20" y2="571.20" stroke="#333" stroke-width="0.8" />
<line x1="410.30" y1="567.70" x2="410.30" y2="571.20" stroke="#333" stroke-width="0.8" />
<text x="393.40" y="566.30" font-size="9.2" text-anchor="middle" fill="#222" font-weight="normal" stroke="#222" stroke-width="0.15" >NS.</text>
<line x1="458.50" y1="567.30" x2="492.50" y2="567.30" stroke="#333" stroke-width="0.8" />
<line x1="458.50" y1="567.30" x2="458.50" y2="570.60" stroke="#333" stroke-width="0.8" />
<line x1="492.50" y1="567.30" x2="492.50" y2="570.60" stroke="#333" stroke-width="0.8" />
<text x="475.40" y="564.30" font-size="7.5" text-anchor="middle" fill="#222" font-weight="normal" stroke="#222" stroke-width="0.15" >***</text>
<rect x="0.00" y="0.00" width="520.00" height="1.00" fill="#474747" stroke="none" stroke-width="0" />
<rect x="0.00" y="0.00" width="1.00" height="710.00" fill="#474747" stroke="none" stroke-width="0" />
<rect x="519.00" y="0.00" width="1.00" height="710.00" fill="#474747" stroke="none" stroke-width="0" />
<rect x="0.00" y="708.80" width="520.00" height="1.20" fill="#474747" stroke="none" stroke-width="0" />
</svg></body></html>
